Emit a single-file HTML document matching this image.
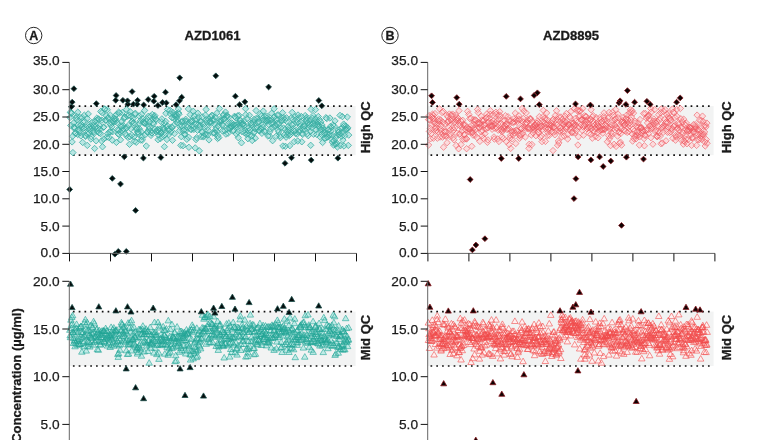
<!DOCTYPE html>
<html><head><meta charset="utf-8"><style>
html,body{margin:0;padding:0;background:#fff;width:760px;height:440px;overflow:hidden}
svg{display:block}
text{font-family:"Liberation Sans",Arial,sans-serif;fill:#1a1a1a}
.tl{font-size:13.7px;stroke:#1a1a1a;stroke-width:0.25px}
.tt{font-size:13.1px;font-weight:bold;stroke:#1a1a1a;stroke-width:0.3px}
.lt{font-size:12.5px;font-weight:bold;stroke:#1a1a1a;stroke-width:0.3px}
.qc{font-size:13px;font-weight:bold;stroke:#1a1a1a;stroke-width:0.3px}
.yl{font-size:13px;font-weight:bold;stroke:#1a1a1a;stroke-width:0.3px}
.dot{stroke:#111;stroke-width:1.7;stroke-dasharray:1.7 4.15}
</style></head><body>
<svg width="760" height="440" viewBox="0 0 760 440">
<circle cx="33.7" cy="35.5" r="8.2" fill="none" stroke="#111" stroke-width="0.9"/>
<text x="33.7" y="39.9" class="lt" text-anchor="middle">A</text>
<text x="212.6" y="39.9" class="tt" text-anchor="middle">AZD1061</text>
<rect x="69.3" y="106.1" width="286.3" height="49.1" fill="#f2f3f3"/>
<path d="M350.35 105.21h1.70v1.70h-1.70zM344.57 105.21h1.70v1.70h-1.70zM338.79 105.21h1.70v1.70h-1.70zM333.01 105.21h1.70v1.70h-1.70zM327.23 105.21h1.70v1.70h-1.70zM321.45 105.21h1.70v1.70h-1.70zM315.67 105.21h1.70v1.70h-1.70zM309.89 105.21h1.70v1.70h-1.70zM304.11 105.21h1.70v1.70h-1.70zM298.33 105.21h1.70v1.70h-1.70zM292.55 105.21h1.70v1.70h-1.70zM286.77 105.21h1.70v1.70h-1.70zM280.99 105.21h1.70v1.70h-1.70zM275.21 105.21h1.70v1.70h-1.70zM269.43 105.21h1.70v1.70h-1.70zM263.65 105.21h1.70v1.70h-1.70zM257.87 105.21h1.70v1.70h-1.70zM252.09 105.21h1.70v1.70h-1.70zM246.31 105.21h1.70v1.70h-1.70zM240.53 105.21h1.70v1.70h-1.70zM234.75 105.21h1.70v1.70h-1.70zM228.97 105.21h1.70v1.70h-1.70zM223.19 105.21h1.70v1.70h-1.70zM217.41 105.21h1.70v1.70h-1.70zM211.63 105.21h1.70v1.70h-1.70zM205.85 105.21h1.70v1.70h-1.70zM200.07 105.21h1.70v1.70h-1.70zM194.29 105.21h1.70v1.70h-1.70zM188.51 105.21h1.70v1.70h-1.70zM182.73 105.21h1.70v1.70h-1.70zM176.95 105.21h1.70v1.70h-1.70zM171.17 105.21h1.70v1.70h-1.70zM165.39 105.21h1.70v1.70h-1.70zM159.61 105.21h1.70v1.70h-1.70zM153.83 105.21h1.70v1.70h-1.70zM148.05 105.21h1.70v1.70h-1.70zM142.27 105.21h1.70v1.70h-1.70zM136.49 105.21h1.70v1.70h-1.70zM130.71 105.21h1.70v1.70h-1.70zM124.93 105.21h1.70v1.70h-1.70zM119.15 105.21h1.70v1.70h-1.70zM113.37 105.21h1.70v1.70h-1.70zM107.59 105.21h1.70v1.70h-1.70zM101.81 105.21h1.70v1.70h-1.70zM96.03 105.21h1.70v1.70h-1.70zM90.25 105.21h1.70v1.70h-1.70zM84.47 105.21h1.70v1.70h-1.70zM78.69 105.21h1.70v1.70h-1.70zM72.91 105.21h1.70v1.70h-1.70z" fill="#111"/>
<path d="M350.35 154.32h1.70v1.70h-1.70zM344.57 154.32h1.70v1.70h-1.70zM338.79 154.32h1.70v1.70h-1.70zM333.01 154.32h1.70v1.70h-1.70zM327.23 154.32h1.70v1.70h-1.70zM321.45 154.32h1.70v1.70h-1.70zM315.67 154.32h1.70v1.70h-1.70zM309.89 154.32h1.70v1.70h-1.70zM304.11 154.32h1.70v1.70h-1.70zM298.33 154.32h1.70v1.70h-1.70zM292.55 154.32h1.70v1.70h-1.70zM286.77 154.32h1.70v1.70h-1.70zM280.99 154.32h1.70v1.70h-1.70zM275.21 154.32h1.70v1.70h-1.70zM269.43 154.32h1.70v1.70h-1.70zM263.65 154.32h1.70v1.70h-1.70zM257.87 154.32h1.70v1.70h-1.70zM252.09 154.32h1.70v1.70h-1.70zM246.31 154.32h1.70v1.70h-1.70zM240.53 154.32h1.70v1.70h-1.70zM234.75 154.32h1.70v1.70h-1.70zM228.97 154.32h1.70v1.70h-1.70zM223.19 154.32h1.70v1.70h-1.70zM217.41 154.32h1.70v1.70h-1.70zM211.63 154.32h1.70v1.70h-1.70zM205.85 154.32h1.70v1.70h-1.70zM200.07 154.32h1.70v1.70h-1.70zM194.29 154.32h1.70v1.70h-1.70zM188.51 154.32h1.70v1.70h-1.70zM182.73 154.32h1.70v1.70h-1.70zM176.95 154.32h1.70v1.70h-1.70zM171.17 154.32h1.70v1.70h-1.70zM165.39 154.32h1.70v1.70h-1.70zM159.61 154.32h1.70v1.70h-1.70zM153.83 154.32h1.70v1.70h-1.70zM148.05 154.32h1.70v1.70h-1.70zM142.27 154.32h1.70v1.70h-1.70zM136.49 154.32h1.70v1.70h-1.70zM130.71 154.32h1.70v1.70h-1.70zM124.93 154.32h1.70v1.70h-1.70zM119.15 154.32h1.70v1.70h-1.70zM113.37 154.32h1.70v1.70h-1.70zM107.59 154.32h1.70v1.70h-1.70zM101.81 154.32h1.70v1.70h-1.70zM96.03 154.32h1.70v1.70h-1.70zM90.25 154.32h1.70v1.70h-1.70zM84.47 154.32h1.70v1.70h-1.70zM78.69 154.32h1.70v1.70h-1.70zM72.91 154.32h1.70v1.70h-1.70z" fill="#111"/>
<path d="M70.0 114.3l3.2 3.2l-3.2 3.2l-3.2 -3.2zM70.4 109.1l3.2 3.2l-3.2 3.2l-3.2 -3.2zM70.8 122.2l3.2 3.2l-3.2 3.2l-3.2 -3.2zM71.3 110.3l3.2 3.2l-3.2 3.2l-3.2 -3.2zM71.6 109.5l3.2 3.2l-3.2 3.2l-3.2 -3.2zM72.1 138.7l3.2 3.2l-3.2 3.2l-3.2 -3.2zM72.7 133.0l3.2 3.2l-3.2 3.2l-3.2 -3.2zM72.9 149.4l3.2 3.2l-3.2 3.2l-3.2 -3.2zM73.6 119.8l3.2 3.2l-3.2 3.2l-3.2 -3.2zM74.0 123.8l3.2 3.2l-3.2 3.2l-3.2 -3.2zM74.4 124.3l3.2 3.2l-3.2 3.2l-3.2 -3.2zM74.6 125.6l3.2 3.2l-3.2 3.2l-3.2 -3.2zM75.0 129.9l3.2 3.2l-3.2 3.2l-3.2 -3.2zM75.7 129.9l3.2 3.2l-3.2 3.2l-3.2 -3.2zM76.1 115.0l3.2 3.2l-3.2 3.2l-3.2 -3.2zM76.6 113.3l3.2 3.2l-3.2 3.2l-3.2 -3.2zM77.0 116.4l3.2 3.2l-3.2 3.2l-3.2 -3.2zM77.7 131.3l3.2 3.2l-3.2 3.2l-3.2 -3.2zM77.8 109.0l3.2 3.2l-3.2 3.2l-3.2 -3.2zM78.2 121.7l3.2 3.2l-3.2 3.2l-3.2 -3.2zM78.9 126.4l3.2 3.2l-3.2 3.2l-3.2 -3.2zM79.1 128.4l3.2 3.2l-3.2 3.2l-3.2 -3.2zM79.8 114.2l3.2 3.2l-3.2 3.2l-3.2 -3.2zM80.2 129.6l3.2 3.2l-3.2 3.2l-3.2 -3.2zM80.7 122.5l3.2 3.2l-3.2 3.2l-3.2 -3.2zM80.9 132.7l3.2 3.2l-3.2 3.2l-3.2 -3.2zM81.2 121.2l3.2 3.2l-3.2 3.2l-3.2 -3.2zM81.9 123.9l3.2 3.2l-3.2 3.2l-3.2 -3.2zM82.1 114.5l3.2 3.2l-3.2 3.2l-3.2 -3.2zM82.6 139.2l3.2 3.2l-3.2 3.2l-3.2 -3.2zM82.9 118.6l3.2 3.2l-3.2 3.2l-3.2 -3.2zM83.4 125.3l3.2 3.2l-3.2 3.2l-3.2 -3.2zM84.1 124.5l3.2 3.2l-3.2 3.2l-3.2 -3.2zM84.3 112.0l3.2 3.2l-3.2 3.2l-3.2 -3.2zM84.7 118.3l3.2 3.2l-3.2 3.2l-3.2 -3.2zM85.4 132.3l3.2 3.2l-3.2 3.2l-3.2 -3.2zM85.6 133.1l3.2 3.2l-3.2 3.2l-3.2 -3.2zM86.1 124.2l3.2 3.2l-3.2 3.2l-3.2 -3.2zM86.8 130.1l3.2 3.2l-3.2 3.2l-3.2 -3.2zM87.2 115.2l3.2 3.2l-3.2 3.2l-3.2 -3.2zM87.3 142.2l3.2 3.2l-3.2 3.2l-3.2 -3.2zM87.9 131.1l3.2 3.2l-3.2 3.2l-3.2 -3.2zM88.2 110.7l3.2 3.2l-3.2 3.2l-3.2 -3.2zM89.0 124.0l3.2 3.2l-3.2 3.2l-3.2 -3.2zM89.3 129.8l3.2 3.2l-3.2 3.2l-3.2 -3.2zM89.6 121.1l3.2 3.2l-3.2 3.2l-3.2 -3.2zM89.9 126.0l3.2 3.2l-3.2 3.2l-3.2 -3.2zM90.6 122.8l3.2 3.2l-3.2 3.2l-3.2 -3.2zM90.9 135.8l3.2 3.2l-3.2 3.2l-3.2 -3.2zM91.4 133.4l3.2 3.2l-3.2 3.2l-3.2 -3.2zM91.9 119.2l3.2 3.2l-3.2 3.2l-3.2 -3.2zM92.4 124.5l3.2 3.2l-3.2 3.2l-3.2 -3.2zM92.9 127.4l3.2 3.2l-3.2 3.2l-3.2 -3.2zM93.3 122.1l3.2 3.2l-3.2 3.2l-3.2 -3.2zM93.7 128.6l3.2 3.2l-3.2 3.2l-3.2 -3.2zM94.2 130.1l3.2 3.2l-3.2 3.2l-3.2 -3.2zM94.6 145.3l3.2 3.2l-3.2 3.2l-3.2 -3.2zM94.9 117.8l3.2 3.2l-3.2 3.2l-3.2 -3.2zM95.1 124.2l3.2 3.2l-3.2 3.2l-3.2 -3.2zM96.0 123.1l3.2 3.2l-3.2 3.2l-3.2 -3.2zM96.1 137.6l3.2 3.2l-3.2 3.2l-3.2 -3.2zM96.8 115.0l3.2 3.2l-3.2 3.2l-3.2 -3.2zM96.9 117.1l3.2 3.2l-3.2 3.2l-3.2 -3.2zM97.6 128.4l3.2 3.2l-3.2 3.2l-3.2 -3.2zM98.0 124.9l3.2 3.2l-3.2 3.2l-3.2 -3.2zM98.5 115.7l3.2 3.2l-3.2 3.2l-3.2 -3.2zM99.0 116.5l3.2 3.2l-3.2 3.2l-3.2 -3.2zM99.1 129.7l3.2 3.2l-3.2 3.2l-3.2 -3.2zM99.7 122.6l3.2 3.2l-3.2 3.2l-3.2 -3.2zM99.9 126.1l3.2 3.2l-3.2 3.2l-3.2 -3.2zM100.6 130.4l3.2 3.2l-3.2 3.2l-3.2 -3.2zM100.8 108.2l3.2 3.2l-3.2 3.2l-3.2 -3.2zM101.6 137.8l3.2 3.2l-3.2 3.2l-3.2 -3.2zM101.9 117.0l3.2 3.2l-3.2 3.2l-3.2 -3.2zM102.1 109.4l3.2 3.2l-3.2 3.2l-3.2 -3.2zM102.5 143.6l3.2 3.2l-3.2 3.2l-3.2 -3.2zM103.3 124.2l3.2 3.2l-3.2 3.2l-3.2 -3.2zM103.8 135.8l3.2 3.2l-3.2 3.2l-3.2 -3.2zM104.0 123.7l3.2 3.2l-3.2 3.2l-3.2 -3.2zM104.6 105.7l3.2 3.2l-3.2 3.2l-3.2 -3.2zM104.7 106.2l3.2 3.2l-3.2 3.2l-3.2 -3.2zM105.5 117.1l3.2 3.2l-3.2 3.2l-3.2 -3.2zM105.9 116.7l3.2 3.2l-3.2 3.2l-3.2 -3.2zM106.4 112.7l3.2 3.2l-3.2 3.2l-3.2 -3.2zM106.8 133.9l3.2 3.2l-3.2 3.2l-3.2 -3.2zM107.3 106.5l3.2 3.2l-3.2 3.2l-3.2 -3.2zM107.7 130.5l3.2 3.2l-3.2 3.2l-3.2 -3.2zM108.0 114.8l3.2 3.2l-3.2 3.2l-3.2 -3.2zM108.4 114.8l3.2 3.2l-3.2 3.2l-3.2 -3.2zM108.9 134.2l3.2 3.2l-3.2 3.2l-3.2 -3.2zM109.5 128.6l3.2 3.2l-3.2 3.2l-3.2 -3.2zM109.9 120.4l3.2 3.2l-3.2 3.2l-3.2 -3.2zM110.3 112.0l3.2 3.2l-3.2 3.2l-3.2 -3.2zM110.6 128.7l3.2 3.2l-3.2 3.2l-3.2 -3.2zM110.8 121.7l3.2 3.2l-3.2 3.2l-3.2 -3.2zM111.5 119.3l3.2 3.2l-3.2 3.2l-3.2 -3.2zM111.9 123.6l3.2 3.2l-3.2 3.2l-3.2 -3.2zM112.3 137.0l3.2 3.2l-3.2 3.2l-3.2 -3.2zM112.8 128.4l3.2 3.2l-3.2 3.2l-3.2 -3.2zM113.0 118.1l3.2 3.2l-3.2 3.2l-3.2 -3.2zM113.6 118.8l3.2 3.2l-3.2 3.2l-3.2 -3.2zM113.9 115.7l3.2 3.2l-3.2 3.2l-3.2 -3.2zM114.7 116.0l3.2 3.2l-3.2 3.2l-3.2 -3.2zM115.1 112.7l3.2 3.2l-3.2 3.2l-3.2 -3.2zM115.3 118.4l3.2 3.2l-3.2 3.2l-3.2 -3.2zM115.8 116.0l3.2 3.2l-3.2 3.2l-3.2 -3.2zM116.4 139.2l3.2 3.2l-3.2 3.2l-3.2 -3.2zM116.6 111.2l3.2 3.2l-3.2 3.2l-3.2 -3.2zM117.2 119.5l3.2 3.2l-3.2 3.2l-3.2 -3.2zM117.6 126.6l3.2 3.2l-3.2 3.2l-3.2 -3.2zM118.2 130.8l3.2 3.2l-3.2 3.2l-3.2 -3.2zM118.6 109.0l3.2 3.2l-3.2 3.2l-3.2 -3.2zM118.8 127.0l3.2 3.2l-3.2 3.2l-3.2 -3.2zM119.2 131.2l3.2 3.2l-3.2 3.2l-3.2 -3.2zM119.6 109.8l3.2 3.2l-3.2 3.2l-3.2 -3.2zM120.2 128.8l3.2 3.2l-3.2 3.2l-3.2 -3.2zM120.5 136.6l3.2 3.2l-3.2 3.2l-3.2 -3.2zM121.0 123.9l3.2 3.2l-3.2 3.2l-3.2 -3.2zM121.7 122.8l3.2 3.2l-3.2 3.2l-3.2 -3.2zM121.7 118.4l3.2 3.2l-3.2 3.2l-3.2 -3.2zM122.3 109.3l3.2 3.2l-3.2 3.2l-3.2 -3.2zM122.9 127.0l3.2 3.2l-3.2 3.2l-3.2 -3.2zM123.2 122.3l3.2 3.2l-3.2 3.2l-3.2 -3.2zM123.5 125.2l3.2 3.2l-3.2 3.2l-3.2 -3.2zM124.0 115.3l3.2 3.2l-3.2 3.2l-3.2 -3.2zM124.4 114.3l3.2 3.2l-3.2 3.2l-3.2 -3.2zM125.0 113.9l3.2 3.2l-3.2 3.2l-3.2 -3.2zM125.5 130.4l3.2 3.2l-3.2 3.2l-3.2 -3.2zM125.9 125.2l3.2 3.2l-3.2 3.2l-3.2 -3.2zM126.2 132.3l3.2 3.2l-3.2 3.2l-3.2 -3.2zM126.5 106.3l3.2 3.2l-3.2 3.2l-3.2 -3.2zM127.0 124.4l3.2 3.2l-3.2 3.2l-3.2 -3.2zM127.5 113.0l3.2 3.2l-3.2 3.2l-3.2 -3.2zM128.0 134.2l3.2 3.2l-3.2 3.2l-3.2 -3.2zM128.5 122.0l3.2 3.2l-3.2 3.2l-3.2 -3.2zM129.0 111.8l3.2 3.2l-3.2 3.2l-3.2 -3.2zM129.5 141.1l3.2 3.2l-3.2 3.2l-3.2 -3.2zM129.9 133.5l3.2 3.2l-3.2 3.2l-3.2 -3.2zM130.1 108.4l3.2 3.2l-3.2 3.2l-3.2 -3.2zM130.8 125.6l3.2 3.2l-3.2 3.2l-3.2 -3.2zM131.0 113.2l3.2 3.2l-3.2 3.2l-3.2 -3.2zM131.7 131.9l3.2 3.2l-3.2 3.2l-3.2 -3.2zM132.0 117.9l3.2 3.2l-3.2 3.2l-3.2 -3.2zM132.3 118.4l3.2 3.2l-3.2 3.2l-3.2 -3.2zM132.9 120.2l3.2 3.2l-3.2 3.2l-3.2 -3.2zM133.4 115.0l3.2 3.2l-3.2 3.2l-3.2 -3.2zM133.9 133.7l3.2 3.2l-3.2 3.2l-3.2 -3.2zM134.3 119.9l3.2 3.2l-3.2 3.2l-3.2 -3.2zM134.5 137.9l3.2 3.2l-3.2 3.2l-3.2 -3.2zM135.0 111.3l3.2 3.2l-3.2 3.2l-3.2 -3.2zM135.3 110.1l3.2 3.2l-3.2 3.2l-3.2 -3.2zM136.0 126.1l3.2 3.2l-3.2 3.2l-3.2 -3.2zM136.3 139.1l3.2 3.2l-3.2 3.2l-3.2 -3.2zM136.6 124.8l3.2 3.2l-3.2 3.2l-3.2 -3.2zM137.3 125.7l3.2 3.2l-3.2 3.2l-3.2 -3.2zM137.8 129.4l3.2 3.2l-3.2 3.2l-3.2 -3.2zM137.9 128.6l3.2 3.2l-3.2 3.2l-3.2 -3.2zM138.6 131.1l3.2 3.2l-3.2 3.2l-3.2 -3.2zM139.1 112.8l3.2 3.2l-3.2 3.2l-3.2 -3.2zM139.4 125.5l3.2 3.2l-3.2 3.2l-3.2 -3.2zM139.7 120.3l3.2 3.2l-3.2 3.2l-3.2 -3.2zM140.3 117.6l3.2 3.2l-3.2 3.2l-3.2 -3.2zM140.8 136.9l3.2 3.2l-3.2 3.2l-3.2 -3.2zM141.1 128.5l3.2 3.2l-3.2 3.2l-3.2 -3.2zM141.5 111.2l3.2 3.2l-3.2 3.2l-3.2 -3.2zM141.9 133.4l3.2 3.2l-3.2 3.2l-3.2 -3.2zM142.3 136.8l3.2 3.2l-3.2 3.2l-3.2 -3.2zM142.9 115.7l3.2 3.2l-3.2 3.2l-3.2 -3.2zM143.3 118.7l3.2 3.2l-3.2 3.2l-3.2 -3.2zM143.7 119.7l3.2 3.2l-3.2 3.2l-3.2 -3.2zM144.4 120.1l3.2 3.2l-3.2 3.2l-3.2 -3.2zM144.6 107.3l3.2 3.2l-3.2 3.2l-3.2 -3.2zM145.1 131.8l3.2 3.2l-3.2 3.2l-3.2 -3.2zM145.5 120.2l3.2 3.2l-3.2 3.2l-3.2 -3.2zM145.9 118.2l3.2 3.2l-3.2 3.2l-3.2 -3.2zM146.3 142.8l3.2 3.2l-3.2 3.2l-3.2 -3.2zM146.7 115.6l3.2 3.2l-3.2 3.2l-3.2 -3.2zM147.2 128.8l3.2 3.2l-3.2 3.2l-3.2 -3.2zM147.8 129.0l3.2 3.2l-3.2 3.2l-3.2 -3.2zM148.3 113.1l3.2 3.2l-3.2 3.2l-3.2 -3.2zM148.4 122.8l3.2 3.2l-3.2 3.2l-3.2 -3.2zM149.0 126.1l3.2 3.2l-3.2 3.2l-3.2 -3.2zM149.5 119.2l3.2 3.2l-3.2 3.2l-3.2 -3.2zM149.6 123.9l3.2 3.2l-3.2 3.2l-3.2 -3.2zM150.4 128.1l3.2 3.2l-3.2 3.2l-3.2 -3.2zM150.6 113.2l3.2 3.2l-3.2 3.2l-3.2 -3.2zM151.0 132.2l3.2 3.2l-3.2 3.2l-3.2 -3.2zM151.7 129.8l3.2 3.2l-3.2 3.2l-3.2 -3.2zM151.9 129.6l3.2 3.2l-3.2 3.2l-3.2 -3.2zM152.3 111.3l3.2 3.2l-3.2 3.2l-3.2 -3.2zM152.9 119.5l3.2 3.2l-3.2 3.2l-3.2 -3.2zM153.3 115.9l3.2 3.2l-3.2 3.2l-3.2 -3.2zM153.6 120.5l3.2 3.2l-3.2 3.2l-3.2 -3.2zM154.3 113.8l3.2 3.2l-3.2 3.2l-3.2 -3.2zM154.8 112.4l3.2 3.2l-3.2 3.2l-3.2 -3.2zM155.1 125.9l3.2 3.2l-3.2 3.2l-3.2 -3.2zM155.6 116.0l3.2 3.2l-3.2 3.2l-3.2 -3.2zM156.1 128.4l3.2 3.2l-3.2 3.2l-3.2 -3.2zM156.3 116.6l3.2 3.2l-3.2 3.2l-3.2 -3.2zM157.0 128.4l3.2 3.2l-3.2 3.2l-3.2 -3.2zM157.4 126.3l3.2 3.2l-3.2 3.2l-3.2 -3.2zM157.8 126.8l3.2 3.2l-3.2 3.2l-3.2 -3.2zM158.0 136.5l3.2 3.2l-3.2 3.2l-3.2 -3.2zM158.5 131.9l3.2 3.2l-3.2 3.2l-3.2 -3.2zM159.1 128.4l3.2 3.2l-3.2 3.2l-3.2 -3.2zM159.5 128.5l3.2 3.2l-3.2 3.2l-3.2 -3.2zM159.7 125.9l3.2 3.2l-3.2 3.2l-3.2 -3.2zM160.5 135.4l3.2 3.2l-3.2 3.2l-3.2 -3.2zM161.0 130.0l3.2 3.2l-3.2 3.2l-3.2 -3.2zM161.3 129.1l3.2 3.2l-3.2 3.2l-3.2 -3.2zM161.6 119.0l3.2 3.2l-3.2 3.2l-3.2 -3.2zM161.9 115.7l3.2 3.2l-3.2 3.2l-3.2 -3.2zM162.3 133.3l3.2 3.2l-3.2 3.2l-3.2 -3.2zM162.9 124.3l3.2 3.2l-3.2 3.2l-3.2 -3.2zM163.4 125.2l3.2 3.2l-3.2 3.2l-3.2 -3.2zM163.7 126.4l3.2 3.2l-3.2 3.2l-3.2 -3.2zM164.4 143.5l3.2 3.2l-3.2 3.2l-3.2 -3.2zM164.5 120.1l3.2 3.2l-3.2 3.2l-3.2 -3.2zM164.9 131.7l3.2 3.2l-3.2 3.2l-3.2 -3.2zM165.7 118.2l3.2 3.2l-3.2 3.2l-3.2 -3.2zM165.9 110.1l3.2 3.2l-3.2 3.2l-3.2 -3.2zM166.4 123.8l3.2 3.2l-3.2 3.2l-3.2 -3.2zM166.9 136.3l3.2 3.2l-3.2 3.2l-3.2 -3.2zM167.5 122.7l3.2 3.2l-3.2 3.2l-3.2 -3.2zM167.6 106.3l3.2 3.2l-3.2 3.2l-3.2 -3.2zM168.1 125.9l3.2 3.2l-3.2 3.2l-3.2 -3.2zM168.5 127.3l3.2 3.2l-3.2 3.2l-3.2 -3.2zM168.8 131.3l3.2 3.2l-3.2 3.2l-3.2 -3.2zM169.7 126.2l3.2 3.2l-3.2 3.2l-3.2 -3.2zM170.1 107.2l3.2 3.2l-3.2 3.2l-3.2 -3.2zM170.4 110.7l3.2 3.2l-3.2 3.2l-3.2 -3.2zM170.8 128.7l3.2 3.2l-3.2 3.2l-3.2 -3.2zM171.4 123.9l3.2 3.2l-3.2 3.2l-3.2 -3.2zM171.8 114.4l3.2 3.2l-3.2 3.2l-3.2 -3.2zM172.2 124.5l3.2 3.2l-3.2 3.2l-3.2 -3.2zM172.5 137.1l3.2 3.2l-3.2 3.2l-3.2 -3.2zM173.1 109.4l3.2 3.2l-3.2 3.2l-3.2 -3.2zM173.5 122.3l3.2 3.2l-3.2 3.2l-3.2 -3.2zM173.9 111.7l3.2 3.2l-3.2 3.2l-3.2 -3.2zM174.1 115.5l3.2 3.2l-3.2 3.2l-3.2 -3.2zM174.5 130.4l3.2 3.2l-3.2 3.2l-3.2 -3.2zM175.1 112.8l3.2 3.2l-3.2 3.2l-3.2 -3.2zM175.5 111.1l3.2 3.2l-3.2 3.2l-3.2 -3.2zM176.2 117.0l3.2 3.2l-3.2 3.2l-3.2 -3.2zM176.5 113.9l3.2 3.2l-3.2 3.2l-3.2 -3.2zM176.9 112.1l3.2 3.2l-3.2 3.2l-3.2 -3.2zM177.6 119.4l3.2 3.2l-3.2 3.2l-3.2 -3.2zM177.8 116.5l3.2 3.2l-3.2 3.2l-3.2 -3.2zM178.4 105.9l3.2 3.2l-3.2 3.2l-3.2 -3.2zM178.4 109.6l3.2 3.2l-3.2 3.2l-3.2 -3.2zM179.0 111.0l3.2 3.2l-3.2 3.2l-3.2 -3.2zM179.5 127.3l3.2 3.2l-3.2 3.2l-3.2 -3.2zM179.9 123.3l3.2 3.2l-3.2 3.2l-3.2 -3.2zM180.2 121.2l3.2 3.2l-3.2 3.2l-3.2 -3.2zM180.8 142.1l3.2 3.2l-3.2 3.2l-3.2 -3.2zM181.3 133.5l3.2 3.2l-3.2 3.2l-3.2 -3.2zM181.9 118.8l3.2 3.2l-3.2 3.2l-3.2 -3.2zM182.2 122.7l3.2 3.2l-3.2 3.2l-3.2 -3.2zM182.6 117.8l3.2 3.2l-3.2 3.2l-3.2 -3.2zM183.1 142.5l3.2 3.2l-3.2 3.2l-3.2 -3.2zM183.3 127.5l3.2 3.2l-3.2 3.2l-3.2 -3.2zM183.9 126.8l3.2 3.2l-3.2 3.2l-3.2 -3.2zM184.4 131.1l3.2 3.2l-3.2 3.2l-3.2 -3.2zM184.6 130.7l3.2 3.2l-3.2 3.2l-3.2 -3.2zM185.2 118.0l3.2 3.2l-3.2 3.2l-3.2 -3.2zM185.7 116.1l3.2 3.2l-3.2 3.2l-3.2 -3.2zM186.1 127.2l3.2 3.2l-3.2 3.2l-3.2 -3.2zM186.5 118.2l3.2 3.2l-3.2 3.2l-3.2 -3.2zM186.8 136.1l3.2 3.2l-3.2 3.2l-3.2 -3.2zM187.2 121.4l3.2 3.2l-3.2 3.2l-3.2 -3.2zM187.7 124.1l3.2 3.2l-3.2 3.2l-3.2 -3.2zM188.4 105.7l3.2 3.2l-3.2 3.2l-3.2 -3.2zM188.8 134.2l3.2 3.2l-3.2 3.2l-3.2 -3.2zM188.9 144.1l3.2 3.2l-3.2 3.2l-3.2 -3.2zM189.4 119.7l3.2 3.2l-3.2 3.2l-3.2 -3.2zM190.2 111.5l3.2 3.2l-3.2 3.2l-3.2 -3.2zM190.6 125.9l3.2 3.2l-3.2 3.2l-3.2 -3.2zM190.7 118.0l3.2 3.2l-3.2 3.2l-3.2 -3.2zM191.4 126.5l3.2 3.2l-3.2 3.2l-3.2 -3.2zM191.9 117.6l3.2 3.2l-3.2 3.2l-3.2 -3.2zM192.2 118.4l3.2 3.2l-3.2 3.2l-3.2 -3.2zM192.6 122.2l3.2 3.2l-3.2 3.2l-3.2 -3.2zM193.1 124.3l3.2 3.2l-3.2 3.2l-3.2 -3.2zM193.3 108.1l3.2 3.2l-3.2 3.2l-3.2 -3.2zM193.9 126.2l3.2 3.2l-3.2 3.2l-3.2 -3.2zM194.2 112.7l3.2 3.2l-3.2 3.2l-3.2 -3.2zM194.9 116.4l3.2 3.2l-3.2 3.2l-3.2 -3.2zM195.2 144.7l3.2 3.2l-3.2 3.2l-3.2 -3.2zM195.8 120.9l3.2 3.2l-3.2 3.2l-3.2 -3.2zM196.0 136.4l3.2 3.2l-3.2 3.2l-3.2 -3.2zM196.7 134.4l3.2 3.2l-3.2 3.2l-3.2 -3.2zM197.0 116.5l3.2 3.2l-3.2 3.2l-3.2 -3.2zM197.5 127.1l3.2 3.2l-3.2 3.2l-3.2 -3.2zM197.9 110.0l3.2 3.2l-3.2 3.2l-3.2 -3.2zM198.4 114.0l3.2 3.2l-3.2 3.2l-3.2 -3.2zM198.6 121.4l3.2 3.2l-3.2 3.2l-3.2 -3.2zM199.3 147.6l3.2 3.2l-3.2 3.2l-3.2 -3.2zM199.7 124.5l3.2 3.2l-3.2 3.2l-3.2 -3.2zM199.9 122.1l3.2 3.2l-3.2 3.2l-3.2 -3.2zM200.4 118.1l3.2 3.2l-3.2 3.2l-3.2 -3.2zM200.9 118.2l3.2 3.2l-3.2 3.2l-3.2 -3.2zM201.1 133.4l3.2 3.2l-3.2 3.2l-3.2 -3.2zM201.8 128.6l3.2 3.2l-3.2 3.2l-3.2 -3.2zM202.3 113.7l3.2 3.2l-3.2 3.2l-3.2 -3.2zM202.5 128.9l3.2 3.2l-3.2 3.2l-3.2 -3.2zM203.0 120.6l3.2 3.2l-3.2 3.2l-3.2 -3.2zM203.3 133.7l3.2 3.2l-3.2 3.2l-3.2 -3.2zM204.0 132.9l3.2 3.2l-3.2 3.2l-3.2 -3.2zM204.5 123.5l3.2 3.2l-3.2 3.2l-3.2 -3.2zM204.7 130.9l3.2 3.2l-3.2 3.2l-3.2 -3.2zM205.4 111.9l3.2 3.2l-3.2 3.2l-3.2 -3.2zM205.9 131.3l3.2 3.2l-3.2 3.2l-3.2 -3.2zM206.1 106.3l3.2 3.2l-3.2 3.2l-3.2 -3.2zM206.7 116.5l3.2 3.2l-3.2 3.2l-3.2 -3.2zM207.0 118.3l3.2 3.2l-3.2 3.2l-3.2 -3.2zM207.6 124.3l3.2 3.2l-3.2 3.2l-3.2 -3.2zM207.7 131.7l3.2 3.2l-3.2 3.2l-3.2 -3.2zM208.3 127.2l3.2 3.2l-3.2 3.2l-3.2 -3.2zM208.8 116.3l3.2 3.2l-3.2 3.2l-3.2 -3.2zM209.0 136.7l3.2 3.2l-3.2 3.2l-3.2 -3.2zM209.5 119.2l3.2 3.2l-3.2 3.2l-3.2 -3.2zM210.0 117.9l3.2 3.2l-3.2 3.2l-3.2 -3.2zM210.6 118.5l3.2 3.2l-3.2 3.2l-3.2 -3.2zM210.8 114.0l3.2 3.2l-3.2 3.2l-3.2 -3.2zM211.3 119.8l3.2 3.2l-3.2 3.2l-3.2 -3.2zM211.6 112.3l3.2 3.2l-3.2 3.2l-3.2 -3.2zM212.3 112.3l3.2 3.2l-3.2 3.2l-3.2 -3.2zM212.9 129.8l3.2 3.2l-3.2 3.2l-3.2 -3.2zM213.2 116.0l3.2 3.2l-3.2 3.2l-3.2 -3.2zM213.5 117.3l3.2 3.2l-3.2 3.2l-3.2 -3.2zM214.2 129.8l3.2 3.2l-3.2 3.2l-3.2 -3.2zM214.6 121.3l3.2 3.2l-3.2 3.2l-3.2 -3.2zM214.8 130.0l3.2 3.2l-3.2 3.2l-3.2 -3.2zM215.2 113.8l3.2 3.2l-3.2 3.2l-3.2 -3.2zM215.6 126.8l3.2 3.2l-3.2 3.2l-3.2 -3.2zM216.2 124.6l3.2 3.2l-3.2 3.2l-3.2 -3.2zM216.7 110.0l3.2 3.2l-3.2 3.2l-3.2 -3.2zM217.1 128.2l3.2 3.2l-3.2 3.2l-3.2 -3.2zM217.6 135.3l3.2 3.2l-3.2 3.2l-3.2 -3.2zM217.8 132.3l3.2 3.2l-3.2 3.2l-3.2 -3.2zM218.4 122.7l3.2 3.2l-3.2 3.2l-3.2 -3.2zM218.8 134.4l3.2 3.2l-3.2 3.2l-3.2 -3.2zM219.3 118.3l3.2 3.2l-3.2 3.2l-3.2 -3.2zM219.5 105.4l3.2 3.2l-3.2 3.2l-3.2 -3.2zM219.9 116.4l3.2 3.2l-3.2 3.2l-3.2 -3.2zM220.3 119.5l3.2 3.2l-3.2 3.2l-3.2 -3.2zM220.8 117.7l3.2 3.2l-3.2 3.2l-3.2 -3.2zM221.5 117.2l3.2 3.2l-3.2 3.2l-3.2 -3.2zM221.9 121.3l3.2 3.2l-3.2 3.2l-3.2 -3.2zM222.4 127.7l3.2 3.2l-3.2 3.2l-3.2 -3.2zM222.7 122.0l3.2 3.2l-3.2 3.2l-3.2 -3.2zM223.1 111.8l3.2 3.2l-3.2 3.2l-3.2 -3.2zM223.8 116.0l3.2 3.2l-3.2 3.2l-3.2 -3.2zM224.0 111.5l3.2 3.2l-3.2 3.2l-3.2 -3.2zM224.5 115.7l3.2 3.2l-3.2 3.2l-3.2 -3.2zM224.8 127.5l3.2 3.2l-3.2 3.2l-3.2 -3.2zM225.5 108.9l3.2 3.2l-3.2 3.2l-3.2 -3.2zM225.9 130.9l3.2 3.2l-3.2 3.2l-3.2 -3.2zM226.4 113.9l3.2 3.2l-3.2 3.2l-3.2 -3.2zM226.7 112.4l3.2 3.2l-3.2 3.2l-3.2 -3.2zM227.2 112.5l3.2 3.2l-3.2 3.2l-3.2 -3.2zM227.4 125.7l3.2 3.2l-3.2 3.2l-3.2 -3.2zM228.0 130.1l3.2 3.2l-3.2 3.2l-3.2 -3.2zM228.2 120.6l3.2 3.2l-3.2 3.2l-3.2 -3.2zM228.7 114.2l3.2 3.2l-3.2 3.2l-3.2 -3.2zM229.5 124.6l3.2 3.2l-3.2 3.2l-3.2 -3.2zM229.5 119.4l3.2 3.2l-3.2 3.2l-3.2 -3.2zM230.2 125.4l3.2 3.2l-3.2 3.2l-3.2 -3.2zM230.7 122.5l3.2 3.2l-3.2 3.2l-3.2 -3.2zM231.0 124.1l3.2 3.2l-3.2 3.2l-3.2 -3.2zM231.5 123.2l3.2 3.2l-3.2 3.2l-3.2 -3.2zM231.7 119.7l3.2 3.2l-3.2 3.2l-3.2 -3.2zM232.2 122.4l3.2 3.2l-3.2 3.2l-3.2 -3.2zM232.8 127.7l3.2 3.2l-3.2 3.2l-3.2 -3.2zM233.2 122.0l3.2 3.2l-3.2 3.2l-3.2 -3.2zM233.5 126.9l3.2 3.2l-3.2 3.2l-3.2 -3.2zM233.9 121.4l3.2 3.2l-3.2 3.2l-3.2 -3.2zM234.5 113.1l3.2 3.2l-3.2 3.2l-3.2 -3.2zM235.1 113.9l3.2 3.2l-3.2 3.2l-3.2 -3.2zM235.5 122.0l3.2 3.2l-3.2 3.2l-3.2 -3.2zM236.0 114.7l3.2 3.2l-3.2 3.2l-3.2 -3.2zM236.4 130.8l3.2 3.2l-3.2 3.2l-3.2 -3.2zM236.7 121.6l3.2 3.2l-3.2 3.2l-3.2 -3.2zM237.3 123.9l3.2 3.2l-3.2 3.2l-3.2 -3.2zM237.7 112.6l3.2 3.2l-3.2 3.2l-3.2 -3.2zM238.0 128.5l3.2 3.2l-3.2 3.2l-3.2 -3.2zM238.3 134.5l3.2 3.2l-3.2 3.2l-3.2 -3.2zM238.7 120.2l3.2 3.2l-3.2 3.2l-3.2 -3.2zM239.1 112.3l3.2 3.2l-3.2 3.2l-3.2 -3.2zM239.8 122.5l3.2 3.2l-3.2 3.2l-3.2 -3.2zM240.2 116.8l3.2 3.2l-3.2 3.2l-3.2 -3.2zM240.4 117.7l3.2 3.2l-3.2 3.2l-3.2 -3.2zM241.0 119.9l3.2 3.2l-3.2 3.2l-3.2 -3.2zM241.5 139.6l3.2 3.2l-3.2 3.2l-3.2 -3.2zM242.0 128.3l3.2 3.2l-3.2 3.2l-3.2 -3.2zM242.4 120.7l3.2 3.2l-3.2 3.2l-3.2 -3.2zM242.6 121.1l3.2 3.2l-3.2 3.2l-3.2 -3.2zM243.3 120.5l3.2 3.2l-3.2 3.2l-3.2 -3.2zM243.8 122.7l3.2 3.2l-3.2 3.2l-3.2 -3.2zM244.0 117.6l3.2 3.2l-3.2 3.2l-3.2 -3.2zM244.6 129.6l3.2 3.2l-3.2 3.2l-3.2 -3.2zM244.9 127.0l3.2 3.2l-3.2 3.2l-3.2 -3.2zM245.6 105.5l3.2 3.2l-3.2 3.2l-3.2 -3.2zM245.7 111.6l3.2 3.2l-3.2 3.2l-3.2 -3.2zM246.4 131.2l3.2 3.2l-3.2 3.2l-3.2 -3.2zM246.5 123.9l3.2 3.2l-3.2 3.2l-3.2 -3.2zM247.2 115.4l3.2 3.2l-3.2 3.2l-3.2 -3.2zM247.6 130.5l3.2 3.2l-3.2 3.2l-3.2 -3.2zM247.9 135.5l3.2 3.2l-3.2 3.2l-3.2 -3.2zM248.4 127.9l3.2 3.2l-3.2 3.2l-3.2 -3.2zM248.9 124.6l3.2 3.2l-3.2 3.2l-3.2 -3.2zM249.4 112.1l3.2 3.2l-3.2 3.2l-3.2 -3.2zM249.6 131.8l3.2 3.2l-3.2 3.2l-3.2 -3.2zM250.1 126.7l3.2 3.2l-3.2 3.2l-3.2 -3.2zM250.8 120.1l3.2 3.2l-3.2 3.2l-3.2 -3.2zM251.0 119.8l3.2 3.2l-3.2 3.2l-3.2 -3.2zM251.6 121.9l3.2 3.2l-3.2 3.2l-3.2 -3.2zM251.9 132.7l3.2 3.2l-3.2 3.2l-3.2 -3.2zM252.2 137.3l3.2 3.2l-3.2 3.2l-3.2 -3.2zM252.7 120.1l3.2 3.2l-3.2 3.2l-3.2 -3.2zM253.3 118.7l3.2 3.2l-3.2 3.2l-3.2 -3.2zM253.7 129.5l3.2 3.2l-3.2 3.2l-3.2 -3.2zM254.0 116.2l3.2 3.2l-3.2 3.2l-3.2 -3.2zM254.6 128.7l3.2 3.2l-3.2 3.2l-3.2 -3.2zM254.9 125.5l3.2 3.2l-3.2 3.2l-3.2 -3.2zM255.3 135.0l3.2 3.2l-3.2 3.2l-3.2 -3.2zM256.1 107.4l3.2 3.2l-3.2 3.2l-3.2 -3.2zM256.2 115.3l3.2 3.2l-3.2 3.2l-3.2 -3.2zM256.9 125.1l3.2 3.2l-3.2 3.2l-3.2 -3.2zM257.0 123.7l3.2 3.2l-3.2 3.2l-3.2 -3.2zM257.7 119.4l3.2 3.2l-3.2 3.2l-3.2 -3.2zM258.0 115.4l3.2 3.2l-3.2 3.2l-3.2 -3.2zM258.6 117.6l3.2 3.2l-3.2 3.2l-3.2 -3.2zM258.8 118.7l3.2 3.2l-3.2 3.2l-3.2 -3.2zM259.2 127.5l3.2 3.2l-3.2 3.2l-3.2 -3.2zM259.6 127.5l3.2 3.2l-3.2 3.2l-3.2 -3.2zM260.4 111.1l3.2 3.2l-3.2 3.2l-3.2 -3.2zM260.7 125.7l3.2 3.2l-3.2 3.2l-3.2 -3.2zM261.2 124.8l3.2 3.2l-3.2 3.2l-3.2 -3.2zM261.5 112.8l3.2 3.2l-3.2 3.2l-3.2 -3.2zM261.9 130.1l3.2 3.2l-3.2 3.2l-3.2 -3.2zM262.5 121.8l3.2 3.2l-3.2 3.2l-3.2 -3.2zM263.1 124.2l3.2 3.2l-3.2 3.2l-3.2 -3.2zM263.3 107.9l3.2 3.2l-3.2 3.2l-3.2 -3.2zM263.5 116.8l3.2 3.2l-3.2 3.2l-3.2 -3.2zM264.2 128.2l3.2 3.2l-3.2 3.2l-3.2 -3.2zM264.4 113.1l3.2 3.2l-3.2 3.2l-3.2 -3.2zM265.1 128.4l3.2 3.2l-3.2 3.2l-3.2 -3.2zM265.6 116.8l3.2 3.2l-3.2 3.2l-3.2 -3.2zM266.0 117.4l3.2 3.2l-3.2 3.2l-3.2 -3.2zM266.5 112.8l3.2 3.2l-3.2 3.2l-3.2 -3.2zM266.8 118.3l3.2 3.2l-3.2 3.2l-3.2 -3.2zM267.0 114.8l3.2 3.2l-3.2 3.2l-3.2 -3.2zM267.6 117.2l3.2 3.2l-3.2 3.2l-3.2 -3.2zM267.9 132.8l3.2 3.2l-3.2 3.2l-3.2 -3.2zM268.4 116.5l3.2 3.2l-3.2 3.2l-3.2 -3.2zM268.8 121.3l3.2 3.2l-3.2 3.2l-3.2 -3.2zM269.5 132.7l3.2 3.2l-3.2 3.2l-3.2 -3.2zM269.7 128.6l3.2 3.2l-3.2 3.2l-3.2 -3.2zM270.2 117.2l3.2 3.2l-3.2 3.2l-3.2 -3.2zM270.5 125.7l3.2 3.2l-3.2 3.2l-3.2 -3.2zM271.3 120.0l3.2 3.2l-3.2 3.2l-3.2 -3.2zM271.6 110.1l3.2 3.2l-3.2 3.2l-3.2 -3.2zM271.9 116.5l3.2 3.2l-3.2 3.2l-3.2 -3.2zM272.6 137.5l3.2 3.2l-3.2 3.2l-3.2 -3.2zM272.9 120.0l3.2 3.2l-3.2 3.2l-3.2 -3.2zM273.1 124.2l3.2 3.2l-3.2 3.2l-3.2 -3.2zM273.9 114.2l3.2 3.2l-3.2 3.2l-3.2 -3.2zM274.1 105.6l3.2 3.2l-3.2 3.2l-3.2 -3.2zM274.5 113.2l3.2 3.2l-3.2 3.2l-3.2 -3.2zM275.1 122.9l3.2 3.2l-3.2 3.2l-3.2 -3.2zM275.4 121.9l3.2 3.2l-3.2 3.2l-3.2 -3.2zM276.1 133.1l3.2 3.2l-3.2 3.2l-3.2 -3.2zM276.3 115.9l3.2 3.2l-3.2 3.2l-3.2 -3.2zM276.9 120.1l3.2 3.2l-3.2 3.2l-3.2 -3.2zM277.3 112.0l3.2 3.2l-3.2 3.2l-3.2 -3.2zM277.8 126.8l3.2 3.2l-3.2 3.2l-3.2 -3.2zM278.1 121.4l3.2 3.2l-3.2 3.2l-3.2 -3.2zM278.4 112.0l3.2 3.2l-3.2 3.2l-3.2 -3.2zM278.8 128.5l3.2 3.2l-3.2 3.2l-3.2 -3.2zM279.4 119.8l3.2 3.2l-3.2 3.2l-3.2 -3.2zM279.8 132.4l3.2 3.2l-3.2 3.2l-3.2 -3.2zM280.4 134.4l3.2 3.2l-3.2 3.2l-3.2 -3.2zM280.6 124.8l3.2 3.2l-3.2 3.2l-3.2 -3.2zM281.4 114.2l3.2 3.2l-3.2 3.2l-3.2 -3.2zM281.6 116.7l3.2 3.2l-3.2 3.2l-3.2 -3.2zM282.1 117.7l3.2 3.2l-3.2 3.2l-3.2 -3.2zM282.6 109.5l3.2 3.2l-3.2 3.2l-3.2 -3.2zM282.9 142.8l3.2 3.2l-3.2 3.2l-3.2 -3.2zM283.5 124.8l3.2 3.2l-3.2 3.2l-3.2 -3.2zM283.7 114.4l3.2 3.2l-3.2 3.2l-3.2 -3.2zM284.4 131.7l3.2 3.2l-3.2 3.2l-3.2 -3.2zM284.7 116.7l3.2 3.2l-3.2 3.2l-3.2 -3.2zM285.3 126.2l3.2 3.2l-3.2 3.2l-3.2 -3.2zM285.4 143.1l3.2 3.2l-3.2 3.2l-3.2 -3.2zM286.1 134.0l3.2 3.2l-3.2 3.2l-3.2 -3.2zM286.5 114.6l3.2 3.2l-3.2 3.2l-3.2 -3.2zM286.7 118.3l3.2 3.2l-3.2 3.2l-3.2 -3.2zM287.3 131.6l3.2 3.2l-3.2 3.2l-3.2 -3.2zM287.7 128.7l3.2 3.2l-3.2 3.2l-3.2 -3.2zM288.1 123.4l3.2 3.2l-3.2 3.2l-3.2 -3.2zM288.7 127.1l3.2 3.2l-3.2 3.2l-3.2 -3.2zM289.0 125.3l3.2 3.2l-3.2 3.2l-3.2 -3.2zM289.4 132.3l3.2 3.2l-3.2 3.2l-3.2 -3.2zM289.8 142.5l3.2 3.2l-3.2 3.2l-3.2 -3.2zM290.5 131.2l3.2 3.2l-3.2 3.2l-3.2 -3.2zM290.8 128.8l3.2 3.2l-3.2 3.2l-3.2 -3.2zM291.3 114.6l3.2 3.2l-3.2 3.2l-3.2 -3.2zM291.5 121.2l3.2 3.2l-3.2 3.2l-3.2 -3.2zM292.2 109.2l3.2 3.2l-3.2 3.2l-3.2 -3.2zM292.3 122.0l3.2 3.2l-3.2 3.2l-3.2 -3.2zM293.0 116.3l3.2 3.2l-3.2 3.2l-3.2 -3.2zM293.6 127.5l3.2 3.2l-3.2 3.2l-3.2 -3.2zM293.7 120.8l3.2 3.2l-3.2 3.2l-3.2 -3.2zM294.2 138.5l3.2 3.2l-3.2 3.2l-3.2 -3.2zM294.8 128.1l3.2 3.2l-3.2 3.2l-3.2 -3.2zM295.1 113.4l3.2 3.2l-3.2 3.2l-3.2 -3.2zM295.4 130.2l3.2 3.2l-3.2 3.2l-3.2 -3.2zM295.8 127.0l3.2 3.2l-3.2 3.2l-3.2 -3.2zM296.4 116.2l3.2 3.2l-3.2 3.2l-3.2 -3.2zM297.1 130.9l3.2 3.2l-3.2 3.2l-3.2 -3.2zM297.2 119.4l3.2 3.2l-3.2 3.2l-3.2 -3.2zM297.7 137.8l3.2 3.2l-3.2 3.2l-3.2 -3.2zM298.0 111.8l3.2 3.2l-3.2 3.2l-3.2 -3.2zM298.8 114.6l3.2 3.2l-3.2 3.2l-3.2 -3.2zM298.9 128.9l3.2 3.2l-3.2 3.2l-3.2 -3.2zM299.7 126.8l3.2 3.2l-3.2 3.2l-3.2 -3.2zM300.0 120.6l3.2 3.2l-3.2 3.2l-3.2 -3.2zM300.2 122.9l3.2 3.2l-3.2 3.2l-3.2 -3.2zM300.6 118.8l3.2 3.2l-3.2 3.2l-3.2 -3.2zM301.3 113.3l3.2 3.2l-3.2 3.2l-3.2 -3.2zM301.8 138.6l3.2 3.2l-3.2 3.2l-3.2 -3.2zM302.2 130.0l3.2 3.2l-3.2 3.2l-3.2 -3.2zM302.7 131.2l3.2 3.2l-3.2 3.2l-3.2 -3.2zM303.0 126.4l3.2 3.2l-3.2 3.2l-3.2 -3.2zM303.3 123.8l3.2 3.2l-3.2 3.2l-3.2 -3.2zM303.9 122.7l3.2 3.2l-3.2 3.2l-3.2 -3.2zM304.2 126.2l3.2 3.2l-3.2 3.2l-3.2 -3.2zM304.8 123.0l3.2 3.2l-3.2 3.2l-3.2 -3.2zM305.2 112.4l3.2 3.2l-3.2 3.2l-3.2 -3.2zM305.8 115.3l3.2 3.2l-3.2 3.2l-3.2 -3.2zM305.9 117.3l3.2 3.2l-3.2 3.2l-3.2 -3.2zM306.7 117.2l3.2 3.2l-3.2 3.2l-3.2 -3.2zM307.0 114.5l3.2 3.2l-3.2 3.2l-3.2 -3.2zM307.2 130.4l3.2 3.2l-3.2 3.2l-3.2 -3.2zM307.8 119.8l3.2 3.2l-3.2 3.2l-3.2 -3.2zM308.2 132.5l3.2 3.2l-3.2 3.2l-3.2 -3.2zM308.6 124.2l3.2 3.2l-3.2 3.2l-3.2 -3.2zM309.0 122.1l3.2 3.2l-3.2 3.2l-3.2 -3.2zM309.4 117.2l3.2 3.2l-3.2 3.2l-3.2 -3.2zM310.1 121.0l3.2 3.2l-3.2 3.2l-3.2 -3.2zM310.4 128.1l3.2 3.2l-3.2 3.2l-3.2 -3.2zM310.7 142.1l3.2 3.2l-3.2 3.2l-3.2 -3.2zM311.1 106.2l3.2 3.2l-3.2 3.2l-3.2 -3.2zM311.7 124.4l3.2 3.2l-3.2 3.2l-3.2 -3.2zM312.3 115.1l3.2 3.2l-3.2 3.2l-3.2 -3.2zM312.6 120.8l3.2 3.2l-3.2 3.2l-3.2 -3.2zM313.1 112.4l3.2 3.2l-3.2 3.2l-3.2 -3.2zM313.6 131.0l3.2 3.2l-3.2 3.2l-3.2 -3.2zM313.9 120.2l3.2 3.2l-3.2 3.2l-3.2 -3.2zM314.4 118.0l3.2 3.2l-3.2 3.2l-3.2 -3.2zM314.6 121.8l3.2 3.2l-3.2 3.2l-3.2 -3.2zM315.2 115.5l3.2 3.2l-3.2 3.2l-3.2 -3.2zM315.5 106.4l3.2 3.2l-3.2 3.2l-3.2 -3.2zM316.2 126.5l3.2 3.2l-3.2 3.2l-3.2 -3.2zM316.6 121.7l3.2 3.2l-3.2 3.2l-3.2 -3.2zM316.8 131.2l3.2 3.2l-3.2 3.2l-3.2 -3.2zM317.4 118.4l3.2 3.2l-3.2 3.2l-3.2 -3.2zM317.9 120.8l3.2 3.2l-3.2 3.2l-3.2 -3.2zM318.3 113.3l3.2 3.2l-3.2 3.2l-3.2 -3.2zM318.5 122.6l3.2 3.2l-3.2 3.2l-3.2 -3.2zM319.1 123.9l3.2 3.2l-3.2 3.2l-3.2 -3.2zM319.5 116.5l3.2 3.2l-3.2 3.2l-3.2 -3.2zM320.1 126.5l3.2 3.2l-3.2 3.2l-3.2 -3.2zM320.2 133.9l3.2 3.2l-3.2 3.2l-3.2 -3.2zM320.9 118.7l3.2 3.2l-3.2 3.2l-3.2 -3.2zM321.4 126.3l3.2 3.2l-3.2 3.2l-3.2 -3.2zM321.7 131.3l3.2 3.2l-3.2 3.2l-3.2 -3.2zM322.0 121.8l3.2 3.2l-3.2 3.2l-3.2 -3.2zM322.6 139.3l3.2 3.2l-3.2 3.2l-3.2 -3.2zM322.9 124.9l3.2 3.2l-3.2 3.2l-3.2 -3.2zM323.6 127.2l3.2 3.2l-3.2 3.2l-3.2 -3.2zM323.8 129.3l3.2 3.2l-3.2 3.2l-3.2 -3.2zM324.4 135.1l3.2 3.2l-3.2 3.2l-3.2 -3.2zM324.9 130.5l3.2 3.2l-3.2 3.2l-3.2 -3.2zM325.2 126.7l3.2 3.2l-3.2 3.2l-3.2 -3.2zM325.6 134.9l3.2 3.2l-3.2 3.2l-3.2 -3.2zM325.9 114.5l3.2 3.2l-3.2 3.2l-3.2 -3.2zM326.7 130.8l3.2 3.2l-3.2 3.2l-3.2 -3.2zM326.8 115.3l3.2 3.2l-3.2 3.2l-3.2 -3.2zM327.2 134.0l3.2 3.2l-3.2 3.2l-3.2 -3.2zM327.7 133.7l3.2 3.2l-3.2 3.2l-3.2 -3.2zM328.2 126.6l3.2 3.2l-3.2 3.2l-3.2 -3.2zM328.6 126.5l3.2 3.2l-3.2 3.2l-3.2 -3.2zM328.9 131.5l3.2 3.2l-3.2 3.2l-3.2 -3.2zM329.8 131.1l3.2 3.2l-3.2 3.2l-3.2 -3.2zM329.9 114.8l3.2 3.2l-3.2 3.2l-3.2 -3.2zM330.4 123.3l3.2 3.2l-3.2 3.2l-3.2 -3.2zM330.9 127.6l3.2 3.2l-3.2 3.2l-3.2 -3.2zM331.5 124.3l3.2 3.2l-3.2 3.2l-3.2 -3.2zM332.0 136.2l3.2 3.2l-3.2 3.2l-3.2 -3.2zM332.3 139.0l3.2 3.2l-3.2 3.2l-3.2 -3.2zM332.7 132.1l3.2 3.2l-3.2 3.2l-3.2 -3.2zM332.9 121.8l3.2 3.2l-3.2 3.2l-3.2 -3.2zM333.7 141.9l3.2 3.2l-3.2 3.2l-3.2 -3.2zM334.0 137.7l3.2 3.2l-3.2 3.2l-3.2 -3.2zM334.3 122.9l3.2 3.2l-3.2 3.2l-3.2 -3.2zM335.0 117.7l3.2 3.2l-3.2 3.2l-3.2 -3.2zM335.1 141.0l3.2 3.2l-3.2 3.2l-3.2 -3.2zM335.6 134.7l3.2 3.2l-3.2 3.2l-3.2 -3.2zM336.0 140.8l3.2 3.2l-3.2 3.2l-3.2 -3.2zM336.4 132.1l3.2 3.2l-3.2 3.2l-3.2 -3.2zM336.9 140.0l3.2 3.2l-3.2 3.2l-3.2 -3.2zM337.4 143.8l3.2 3.2l-3.2 3.2l-3.2 -3.2zM338.0 128.8l3.2 3.2l-3.2 3.2l-3.2 -3.2zM338.2 126.7l3.2 3.2l-3.2 3.2l-3.2 -3.2zM338.8 131.7l3.2 3.2l-3.2 3.2l-3.2 -3.2zM339.1 128.9l3.2 3.2l-3.2 3.2l-3.2 -3.2zM339.5 131.0l3.2 3.2l-3.2 3.2l-3.2 -3.2zM340.0 112.2l3.2 3.2l-3.2 3.2l-3.2 -3.2zM340.6 142.4l3.2 3.2l-3.2 3.2l-3.2 -3.2zM340.8 125.4l3.2 3.2l-3.2 3.2l-3.2 -3.2zM341.6 133.0l3.2 3.2l-3.2 3.2l-3.2 -3.2zM341.7 130.2l3.2 3.2l-3.2 3.2l-3.2 -3.2zM342.4 113.4l3.2 3.2l-3.2 3.2l-3.2 -3.2zM342.5 124.5l3.2 3.2l-3.2 3.2l-3.2 -3.2zM342.9 136.9l3.2 3.2l-3.2 3.2l-3.2 -3.2zM343.7 120.9l3.2 3.2l-3.2 3.2l-3.2 -3.2zM344.0 142.8l3.2 3.2l-3.2 3.2l-3.2 -3.2zM344.2 122.7l3.2 3.2l-3.2 3.2l-3.2 -3.2zM344.7 132.5l3.2 3.2l-3.2 3.2l-3.2 -3.2zM345.1 126.1l3.2 3.2l-3.2 3.2l-3.2 -3.2zM345.6 126.6l3.2 3.2l-3.2 3.2l-3.2 -3.2zM346.1 123.0l3.2 3.2l-3.2 3.2l-3.2 -3.2zM346.7 126.4l3.2 3.2l-3.2 3.2l-3.2 -3.2zM346.9 125.6l3.2 3.2l-3.2 3.2l-3.2 -3.2zM347.3 113.8l3.2 3.2l-3.2 3.2l-3.2 -3.2zM347.8 124.7l3.2 3.2l-3.2 3.2l-3.2 -3.2zM348.3 142.2l3.2 3.2l-3.2 3.2l-3.2 -3.2zM348.7 131.9l3.2 3.2l-3.2 3.2l-3.2 -3.2z" fill="#b8e6e3" stroke="#3aaea3" stroke-width="0.8"/>
<path d="M73.9 85.8l2.9 2.9l-2.9 2.9l-2.9 -2.9zM72.2 99.2l2.9 2.9l-2.9 2.9l-2.9 -2.9zM71.3 103.9l2.9 2.9l-2.9 2.9l-2.9 -2.9zM96.3 100.7l2.9 2.9l-2.9 2.9l-2.9 -2.9zM116.1 92.6l2.9 2.9l-2.9 2.9l-2.9 -2.9zM115.7 97.4l2.9 2.9l-2.9 2.9l-2.9 -2.9zM122.9 97.4l2.9 2.9l-2.9 2.9l-2.9 -2.9zM127.5 97.9l2.9 2.9l-2.9 2.9l-2.9 -2.9zM127.9 101.3l2.9 2.9l-2.9 2.9l-2.9 -2.9zM132.1 88.7l2.9 2.9l-2.9 2.9l-2.9 -2.9zM133.4 101.3l2.9 2.9l-2.9 2.9l-2.9 -2.9zM137.6 97.4l2.9 2.9l-2.9 2.9l-2.9 -2.9zM137.1 101.3l2.9 2.9l-2.9 2.9l-2.9 -2.9zM143.7 102.0l2.9 2.9l-2.9 2.9l-2.9 -2.9zM148.2 96.6l2.9 2.9l-2.9 2.9l-2.9 -2.9zM154.2 93.4l2.9 2.9l-2.9 2.9l-2.9 -2.9zM153.8 98.3l2.9 2.9l-2.9 2.9l-2.9 -2.9zM157.9 102.6l2.9 2.9l-2.9 2.9l-2.9 -2.9zM165.5 89.3l2.9 2.9l-2.9 2.9l-2.9 -2.9zM162.6 99.6l2.9 2.9l-2.9 2.9l-2.9 -2.9zM166.3 100.0l2.9 2.9l-2.9 2.9l-2.9 -2.9zM179.7 74.9l2.9 2.9l-2.9 2.9l-2.9 -2.9zM181.7 94.3l2.9 2.9l-2.9 2.9l-2.9 -2.9zM179.5 97.9l2.9 2.9l-2.9 2.9l-2.9 -2.9zM176.1 101.8l2.9 2.9l-2.9 2.9l-2.9 -2.9zM215.8 72.9l2.9 2.9l-2.9 2.9l-2.9 -2.9zM235.4 93.3l2.9 2.9l-2.9 2.9l-2.9 -2.9zM244.9 98.9l2.9 2.9l-2.9 2.9l-2.9 -2.9zM239.6 101.8l2.9 2.9l-2.9 2.9l-2.9 -2.9zM268.6 84.1l2.9 2.9l-2.9 2.9l-2.9 -2.9zM318.8 97.6l2.9 2.9l-2.9 2.9l-2.9 -2.9zM321.8 102.9l2.9 2.9l-2.9 2.9l-2.9 -2.9zM69.7 186.5l2.9 2.9l-2.9 2.9l-2.9 -2.9zM112.3 175.5l2.9 2.9l-2.9 2.9l-2.9 -2.9zM120.5 181.1l2.9 2.9l-2.9 2.9l-2.9 -2.9zM135.6 207.5l2.9 2.9l-2.9 2.9l-2.9 -2.9zM114.9 251.3l2.9 2.9l-2.9 2.9l-2.9 -2.9zM118.3 248.5l2.9 2.9l-2.9 2.9l-2.9 -2.9zM126.3 248.5l2.9 2.9l-2.9 2.9l-2.9 -2.9zM124.3 153.9l2.9 2.9l-2.9 2.9l-2.9 -2.9zM143.4 155.2l2.9 2.9l-2.9 2.9l-2.9 -2.9zM160.9 154.6l2.9 2.9l-2.9 2.9l-2.9 -2.9zM285.0 160.4l2.9 2.9l-2.9 2.9l-2.9 -2.9zM291.5 154.9l2.9 2.9l-2.9 2.9l-2.9 -2.9zM311.2 157.2l2.9 2.9l-2.9 2.9l-2.9 -2.9zM337.9 155.3l2.9 2.9l-2.9 2.9l-2.9 -2.9z" fill="#050d0d" stroke="#1d4f4b" stroke-width="0.8"/>
<path d="M69.3 62.4V253.4H356.5" fill="none" stroke="#666" stroke-width="1"/>
<text x="59.6" y="257.4" class="tl" text-anchor="end">0.0</text>
<text x="59.6" y="231.2" class="tl" text-anchor="end">5.0</text>
<text x="59.6" y="203.3" class="tl" text-anchor="end">10.0</text>
<text x="59.6" y="175.8" class="tl" text-anchor="end">15.0</text>
<text x="59.6" y="148.5" class="tl" text-anchor="end">20.0</text>
<text x="59.6" y="121.0" class="tl" text-anchor="end">25.0</text>
<text x="59.6" y="93.8" class="tl" text-anchor="end">30.0</text>
<text x="59.6" y="65.3" class="tl" text-anchor="end">35.0</text>
<path d="M62.3 253.4H69.3M62.3 226.1H69.3M62.3 198.8H69.3M62.3 171.5H69.3M62.3 144.3H69.3M62.3 117.0H69.3M62.3 89.7H69.3M62.3 62.4H69.3M69.5 253.4V261.4M110.5 253.4V261.4M151.5 253.4V261.4M192.5 253.4V261.4M233.5 253.4V261.4M274.5 253.4V261.4M315.5 253.4V261.4M356.5 253.4V261.4" stroke="#111" stroke-width="1" fill="none"/>
<text transform="translate(370.0,127.3) rotate(-90)" class="qc" text-anchor="middle">High QC</text>
<rect x="69.3" y="311.6" width="286.3" height="54.4" fill="#f2f3f3"/>
<path d="M350.35 310.75h1.70v1.70h-1.70zM344.57 310.75h1.70v1.70h-1.70zM338.79 310.75h1.70v1.70h-1.70zM333.01 310.75h1.70v1.70h-1.70zM327.23 310.75h1.70v1.70h-1.70zM321.45 310.75h1.70v1.70h-1.70zM315.67 310.75h1.70v1.70h-1.70zM309.89 310.75h1.70v1.70h-1.70zM304.11 310.75h1.70v1.70h-1.70zM298.33 310.75h1.70v1.70h-1.70zM292.55 310.75h1.70v1.70h-1.70zM286.77 310.75h1.70v1.70h-1.70zM280.99 310.75h1.70v1.70h-1.70zM275.21 310.75h1.70v1.70h-1.70zM269.43 310.75h1.70v1.70h-1.70zM263.65 310.75h1.70v1.70h-1.70zM257.87 310.75h1.70v1.70h-1.70zM252.09 310.75h1.70v1.70h-1.70zM246.31 310.75h1.70v1.70h-1.70zM240.53 310.75h1.70v1.70h-1.70zM234.75 310.75h1.70v1.70h-1.70zM228.97 310.75h1.70v1.70h-1.70zM223.19 310.75h1.70v1.70h-1.70zM217.41 310.75h1.70v1.70h-1.70zM211.63 310.75h1.70v1.70h-1.70zM205.85 310.75h1.70v1.70h-1.70zM200.07 310.75h1.70v1.70h-1.70zM194.29 310.75h1.70v1.70h-1.70zM188.51 310.75h1.70v1.70h-1.70zM182.73 310.75h1.70v1.70h-1.70zM176.95 310.75h1.70v1.70h-1.70zM171.17 310.75h1.70v1.70h-1.70zM165.39 310.75h1.70v1.70h-1.70zM159.61 310.75h1.70v1.70h-1.70zM153.83 310.75h1.70v1.70h-1.70zM148.05 310.75h1.70v1.70h-1.70zM142.27 310.75h1.70v1.70h-1.70zM136.49 310.75h1.70v1.70h-1.70zM130.71 310.75h1.70v1.70h-1.70zM124.93 310.75h1.70v1.70h-1.70zM119.15 310.75h1.70v1.70h-1.70zM113.37 310.75h1.70v1.70h-1.70zM107.59 310.75h1.70v1.70h-1.70zM101.81 310.75h1.70v1.70h-1.70zM96.03 310.75h1.70v1.70h-1.70zM90.25 310.75h1.70v1.70h-1.70zM84.47 310.75h1.70v1.70h-1.70zM78.69 310.75h1.70v1.70h-1.70zM72.91 310.75h1.70v1.70h-1.70z" fill="#111"/>
<path d="M350.35 365.15h1.70v1.70h-1.70zM344.57 365.15h1.70v1.70h-1.70zM338.79 365.15h1.70v1.70h-1.70zM333.01 365.15h1.70v1.70h-1.70zM327.23 365.15h1.70v1.70h-1.70zM321.45 365.15h1.70v1.70h-1.70zM315.67 365.15h1.70v1.70h-1.70zM309.89 365.15h1.70v1.70h-1.70zM304.11 365.15h1.70v1.70h-1.70zM298.33 365.15h1.70v1.70h-1.70zM292.55 365.15h1.70v1.70h-1.70zM286.77 365.15h1.70v1.70h-1.70zM280.99 365.15h1.70v1.70h-1.70zM275.21 365.15h1.70v1.70h-1.70zM269.43 365.15h1.70v1.70h-1.70zM263.65 365.15h1.70v1.70h-1.70zM257.87 365.15h1.70v1.70h-1.70zM252.09 365.15h1.70v1.70h-1.70zM246.31 365.15h1.70v1.70h-1.70zM240.53 365.15h1.70v1.70h-1.70zM234.75 365.15h1.70v1.70h-1.70zM228.97 365.15h1.70v1.70h-1.70zM223.19 365.15h1.70v1.70h-1.70zM217.41 365.15h1.70v1.70h-1.70zM211.63 365.15h1.70v1.70h-1.70zM205.85 365.15h1.70v1.70h-1.70zM200.07 365.15h1.70v1.70h-1.70zM194.29 365.15h1.70v1.70h-1.70zM188.51 365.15h1.70v1.70h-1.70zM182.73 365.15h1.70v1.70h-1.70zM176.95 365.15h1.70v1.70h-1.70zM171.17 365.15h1.70v1.70h-1.70zM165.39 365.15h1.70v1.70h-1.70zM159.61 365.15h1.70v1.70h-1.70zM153.83 365.15h1.70v1.70h-1.70zM148.05 365.15h1.70v1.70h-1.70zM142.27 365.15h1.70v1.70h-1.70zM136.49 365.15h1.70v1.70h-1.70zM130.71 365.15h1.70v1.70h-1.70zM124.93 365.15h1.70v1.70h-1.70zM119.15 365.15h1.70v1.70h-1.70zM113.37 365.15h1.70v1.70h-1.70zM107.59 365.15h1.70v1.70h-1.70zM101.81 365.15h1.70v1.70h-1.70zM96.03 365.15h1.70v1.70h-1.70zM90.25 365.15h1.70v1.70h-1.70zM84.47 365.15h1.70v1.70h-1.70zM78.69 365.15h1.70v1.70h-1.70zM72.91 365.15h1.70v1.70h-1.70z" fill="#111"/>
<path d="M69.9 326.7l3.2 5.6h-6.5zM70.2 332.1l3.2 5.6h-6.5zM70.5 334.1l3.2 5.6h-6.5zM71.0 316.6l3.2 5.6h-6.5zM71.4 325.0l3.2 5.6h-6.5zM71.5 321.9l3.2 5.6h-6.5zM71.8 313.9l3.2 5.6h-6.5zM72.3 320.4l3.2 5.6h-6.5zM72.7 312.2l3.2 5.6h-6.5zM72.8 329.0l3.2 5.6h-6.5zM73.2 328.8l3.2 5.6h-6.5zM73.5 339.9l3.2 5.6h-6.5zM73.8 334.9l3.2 5.6h-6.5zM74.2 330.7l3.2 5.6h-6.5zM74.5 336.9l3.2 5.6h-6.5zM74.9 338.3l3.2 5.6h-6.5zM75.1 343.2l3.2 5.6h-6.5zM75.4 326.6l3.2 5.6h-6.5zM75.8 339.6l3.2 5.6h-6.5zM76.2 328.3l3.2 5.6h-6.5zM76.6 320.9l3.2 5.6h-6.5zM76.7 325.1l3.2 5.6h-6.5zM77.0 337.2l3.2 5.6h-6.5zM77.5 341.7l3.2 5.6h-6.5zM77.9 335.3l3.2 5.6h-6.5zM78.2 328.7l3.2 5.6h-6.5zM78.3 337.9l3.2 5.6h-6.5zM78.8 340.9l3.2 5.6h-6.5zM79.1 324.5l3.2 5.6h-6.5zM79.5 335.8l3.2 5.6h-6.5zM79.9 341.2l3.2 5.6h-6.5zM80.3 324.2l3.2 5.6h-6.5zM80.6 340.8l3.2 5.6h-6.5zM80.9 323.2l3.2 5.6h-6.5zM81.1 322.9l3.2 5.6h-6.5zM81.4 329.1l3.2 5.6h-6.5zM81.9 348.6l3.2 5.6h-6.5zM82.1 334.1l3.2 5.6h-6.5zM82.3 330.6l3.2 5.6h-6.5zM82.8 328.9l3.2 5.6h-6.5zM83.3 339.9l3.2 5.6h-6.5zM83.3 334.3l3.2 5.6h-6.5zM83.8 338.1l3.2 5.6h-6.5zM84.0 343.3l3.2 5.6h-6.5zM84.4 332.1l3.2 5.6h-6.5zM84.7 319.0l3.2 5.6h-6.5zM85.1 332.6l3.2 5.6h-6.5zM85.4 316.3l3.2 5.6h-6.5zM85.9 325.7l3.2 5.6h-6.5zM86.0 321.4l3.2 5.6h-6.5zM86.3 347.5l3.2 5.6h-6.5zM86.8 327.5l3.2 5.6h-6.5zM87.2 319.2l3.2 5.6h-6.5zM87.5 338.9l3.2 5.6h-6.5zM87.7 342.7l3.2 5.6h-6.5zM88.1 327.1l3.2 5.6h-6.5zM88.4 337.5l3.2 5.6h-6.5zM88.7 332.7l3.2 5.6h-6.5zM89.0 339.0l3.2 5.6h-6.5zM89.2 327.5l3.2 5.6h-6.5zM89.5 331.8l3.2 5.6h-6.5zM89.9 343.5l3.2 5.6h-6.5zM90.2 340.6l3.2 5.6h-6.5zM90.6 333.6l3.2 5.6h-6.5zM90.9 322.0l3.2 5.6h-6.5zM91.4 334.3l3.2 5.6h-6.5zM91.6 330.1l3.2 5.6h-6.5zM92.0 334.9l3.2 5.6h-6.5zM92.4 323.7l3.2 5.6h-6.5zM92.5 330.6l3.2 5.6h-6.5zM92.9 324.5l3.2 5.6h-6.5zM93.4 341.6l3.2 5.6h-6.5zM93.6 318.2l3.2 5.6h-6.5zM93.9 329.0l3.2 5.6h-6.5zM94.4 320.2l3.2 5.6h-6.5zM94.7 338.5l3.2 5.6h-6.5zM95.0 338.6l3.2 5.6h-6.5zM95.2 333.0l3.2 5.6h-6.5zM95.6 333.8l3.2 5.6h-6.5zM96.1 337.1l3.2 5.6h-6.5zM96.3 331.5l3.2 5.6h-6.5zM96.5 326.3l3.2 5.6h-6.5zM97.0 325.8l3.2 5.6h-6.5zM97.4 346.0l3.2 5.6h-6.5zM97.4 336.7l3.2 5.6h-6.5zM97.7 329.2l3.2 5.6h-6.5zM98.4 346.7l3.2 5.6h-6.5zM98.4 331.5l3.2 5.6h-6.5zM98.9 334.3l3.2 5.6h-6.5zM99.2 327.1l3.2 5.6h-6.5zM99.6 338.0l3.2 5.6h-6.5zM100.0 330.6l3.2 5.6h-6.5zM100.2 341.3l3.2 5.6h-6.5zM100.6 341.4l3.2 5.6h-6.5zM100.9 331.5l3.2 5.6h-6.5zM101.2 334.1l3.2 5.6h-6.5zM101.4 327.8l3.2 5.6h-6.5zM101.7 338.8l3.2 5.6h-6.5zM102.2 329.8l3.2 5.6h-6.5zM102.4 331.8l3.2 5.6h-6.5zM102.8 334.2l3.2 5.6h-6.5zM103.0 327.6l3.2 5.6h-6.5zM103.4 327.5l3.2 5.6h-6.5zM103.8 328.0l3.2 5.6h-6.5zM104.0 337.9l3.2 5.6h-6.5zM104.3 338.7l3.2 5.6h-6.5zM104.6 327.9l3.2 5.6h-6.5zM105.0 335.9l3.2 5.6h-6.5zM105.3 339.7l3.2 5.6h-6.5zM105.7 325.1l3.2 5.6h-6.5zM106.2 330.3l3.2 5.6h-6.5zM106.4 334.6l3.2 5.6h-6.5zM106.8 327.6l3.2 5.6h-6.5zM107.2 327.7l3.2 5.6h-6.5zM107.5 342.5l3.2 5.6h-6.5zM107.8 332.4l3.2 5.6h-6.5zM108.1 333.7l3.2 5.6h-6.5zM108.3 334.7l3.2 5.6h-6.5zM108.6 340.4l3.2 5.6h-6.5zM109.1 336.7l3.2 5.6h-6.5zM109.3 331.5l3.2 5.6h-6.5zM109.6 332.7l3.2 5.6h-6.5zM110.2 343.9l3.2 5.6h-6.5zM110.5 333.6l3.2 5.6h-6.5zM110.8 332.1l3.2 5.6h-6.5zM111.1 323.9l3.2 5.6h-6.5zM111.5 335.8l3.2 5.6h-6.5zM111.5 341.6l3.2 5.6h-6.5zM112.1 330.1l3.2 5.6h-6.5zM112.3 334.6l3.2 5.6h-6.5zM112.7 331.9l3.2 5.6h-6.5zM112.9 326.4l3.2 5.6h-6.5zM113.4 338.6l3.2 5.6h-6.5zM113.8 324.5l3.2 5.6h-6.5zM113.9 342.6l3.2 5.6h-6.5zM114.2 339.6l3.2 5.6h-6.5zM114.5 328.6l3.2 5.6h-6.5zM114.9 332.7l3.2 5.6h-6.5zM115.4 326.9l3.2 5.6h-6.5zM115.6 330.7l3.2 5.6h-6.5zM115.8 328.0l3.2 5.6h-6.5zM116.2 327.4l3.2 5.6h-6.5zM116.4 340.8l3.2 5.6h-6.5zM116.9 326.6l3.2 5.6h-6.5zM117.3 337.6l3.2 5.6h-6.5zM117.7 338.3l3.2 5.6h-6.5zM117.9 350.9l3.2 5.6h-6.5zM118.3 353.8l3.2 5.6h-6.5zM118.6 349.9l3.2 5.6h-6.5zM119.1 334.9l3.2 5.6h-6.5zM119.3 342.2l3.2 5.6h-6.5zM119.5 331.2l3.2 5.6h-6.5zM120.0 346.6l3.2 5.6h-6.5zM120.2 336.6l3.2 5.6h-6.5zM120.7 341.0l3.2 5.6h-6.5zM120.8 327.4l3.2 5.6h-6.5zM121.3 326.7l3.2 5.6h-6.5zM121.4 319.3l3.2 5.6h-6.5zM122.0 320.8l3.2 5.6h-6.5zM122.2 321.7l3.2 5.6h-6.5zM122.4 333.0l3.2 5.6h-6.5zM123.0 329.8l3.2 5.6h-6.5zM123.2 324.2l3.2 5.6h-6.5zM123.5 328.6l3.2 5.6h-6.5zM123.9 337.8l3.2 5.6h-6.5zM124.2 331.2l3.2 5.6h-6.5zM124.5 333.3l3.2 5.6h-6.5zM124.8 323.5l3.2 5.6h-6.5zM125.3 326.9l3.2 5.6h-6.5zM125.4 339.1l3.2 5.6h-6.5zM125.9 328.0l3.2 5.6h-6.5zM126.3 347.2l3.2 5.6h-6.5zM126.4 336.8l3.2 5.6h-6.5zM127.0 330.3l3.2 5.6h-6.5zM127.1 335.4l3.2 5.6h-6.5zM127.5 350.9l3.2 5.6h-6.5zM127.9 341.5l3.2 5.6h-6.5zM128.1 319.7l3.2 5.6h-6.5zM128.6 350.5l3.2 5.6h-6.5zM128.8 341.1l3.2 5.6h-6.5zM129.0 337.4l3.2 5.6h-6.5zM129.4 324.6l3.2 5.6h-6.5zM129.9 336.4l3.2 5.6h-6.5zM130.1 340.8l3.2 5.6h-6.5zM130.3 319.1l3.2 5.6h-6.5zM130.7 328.6l3.2 5.6h-6.5zM131.0 339.5l3.2 5.6h-6.5zM131.5 317.2l3.2 5.6h-6.5zM131.7 347.4l3.2 5.6h-6.5zM131.9 325.1l3.2 5.6h-6.5zM132.3 336.1l3.2 5.6h-6.5zM132.7 335.6l3.2 5.6h-6.5zM133.2 336.4l3.2 5.6h-6.5zM133.3 330.3l3.2 5.6h-6.5zM133.7 341.5l3.2 5.6h-6.5zM134.1 324.1l3.2 5.6h-6.5zM134.2 340.4l3.2 5.6h-6.5zM134.7 333.8l3.2 5.6h-6.5zM135.1 333.5l3.2 5.6h-6.5zM135.4 328.4l3.2 5.6h-6.5zM135.6 342.5l3.2 5.6h-6.5zM135.9 335.2l3.2 5.6h-6.5zM136.4 332.2l3.2 5.6h-6.5zM136.7 346.5l3.2 5.6h-6.5zM136.9 344.1l3.2 5.6h-6.5zM137.3 344.5l3.2 5.6h-6.5zM137.5 350.5l3.2 5.6h-6.5zM138.0 348.8l3.2 5.6h-6.5zM138.2 344.3l3.2 5.6h-6.5zM138.7 333.9l3.2 5.6h-6.5zM138.9 326.1l3.2 5.6h-6.5zM139.2 342.3l3.2 5.6h-6.5zM139.6 344.8l3.2 5.6h-6.5zM140.0 326.3l3.2 5.6h-6.5zM140.3 340.1l3.2 5.6h-6.5zM140.7 326.8l3.2 5.6h-6.5zM140.8 346.3l3.2 5.6h-6.5zM141.3 330.8l3.2 5.6h-6.5zM141.5 352.6l3.2 5.6h-6.5zM142.0 330.4l3.2 5.6h-6.5zM142.4 326.0l3.2 5.6h-6.5zM142.5 334.4l3.2 5.6h-6.5zM142.9 322.7l3.2 5.6h-6.5zM143.1 328.5l3.2 5.6h-6.5zM143.5 338.5l3.2 5.6h-6.5zM144.0 331.3l3.2 5.6h-6.5zM144.3 348.4l3.2 5.6h-6.5zM144.4 331.0l3.2 5.6h-6.5zM145.0 337.6l3.2 5.6h-6.5zM145.1 327.8l3.2 5.6h-6.5zM145.6 339.0l3.2 5.6h-6.5zM146.0 325.6l3.2 5.6h-6.5zM146.0 329.0l3.2 5.6h-6.5zM146.6 342.5l3.2 5.6h-6.5zM146.8 339.7l3.2 5.6h-6.5zM147.2 331.2l3.2 5.6h-6.5zM147.6 328.0l3.2 5.6h-6.5zM148.0 347.9l3.2 5.6h-6.5zM148.1 337.2l3.2 5.6h-6.5zM148.4 327.7l3.2 5.6h-6.5zM148.9 337.1l3.2 5.6h-6.5zM149.2 359.6l3.2 5.6h-6.5zM149.6 330.9l3.2 5.6h-6.5zM149.7 341.6l3.2 5.6h-6.5zM150.2 324.0l3.2 5.6h-6.5zM150.6 344.6l3.2 5.6h-6.5zM150.7 339.6l3.2 5.6h-6.5zM151.1 341.0l3.2 5.6h-6.5zM151.3 332.1l3.2 5.6h-6.5zM151.7 339.2l3.2 5.6h-6.5zM152.2 340.3l3.2 5.6h-6.5zM152.5 338.3l3.2 5.6h-6.5zM152.8 335.3l3.2 5.6h-6.5zM153.2 328.8l3.2 5.6h-6.5zM153.5 336.4l3.2 5.6h-6.5zM153.7 331.2l3.2 5.6h-6.5zM153.9 349.5l3.2 5.6h-6.5zM154.5 319.1l3.2 5.6h-6.5zM154.6 329.2l3.2 5.6h-6.5zM155.0 344.8l3.2 5.6h-6.5zM155.2 337.7l3.2 5.6h-6.5zM155.7 328.5l3.2 5.6h-6.5zM155.9 331.6l3.2 5.6h-6.5zM156.2 333.9l3.2 5.6h-6.5zM156.7 331.7l3.2 5.6h-6.5zM156.9 351.0l3.2 5.6h-6.5zM157.3 341.9l3.2 5.6h-6.5zM157.7 338.1l3.2 5.6h-6.5zM158.0 319.0l3.2 5.6h-6.5zM158.2 340.5l3.2 5.6h-6.5zM158.8 349.5l3.2 5.6h-6.5zM159.0 355.8l3.2 5.6h-6.5zM159.3 322.4l3.2 5.6h-6.5zM159.8 324.5l3.2 5.6h-6.5zM159.9 341.4l3.2 5.6h-6.5zM160.4 336.6l3.2 5.6h-6.5zM160.7 335.0l3.2 5.6h-6.5zM161.0 331.1l3.2 5.6h-6.5zM161.1 342.1l3.2 5.6h-6.5zM161.8 341.2l3.2 5.6h-6.5zM162.0 337.9l3.2 5.6h-6.5zM162.2 334.1l3.2 5.6h-6.5zM162.5 336.1l3.2 5.6h-6.5zM163.1 340.8l3.2 5.6h-6.5zM163.2 323.3l3.2 5.6h-6.5zM163.7 337.4l3.2 5.6h-6.5zM164.1 326.8l3.2 5.6h-6.5zM164.4 332.1l3.2 5.6h-6.5zM164.5 332.0l3.2 5.6h-6.5zM164.8 350.6l3.2 5.6h-6.5zM165.2 327.3l3.2 5.6h-6.5zM165.5 341.0l3.2 5.6h-6.5zM165.9 333.9l3.2 5.6h-6.5zM166.3 337.5l3.2 5.6h-6.5zM166.4 325.5l3.2 5.6h-6.5zM166.8 334.7l3.2 5.6h-6.5zM167.1 343.8l3.2 5.6h-6.5zM167.5 341.8l3.2 5.6h-6.5zM167.8 338.6l3.2 5.6h-6.5zM168.2 351.7l3.2 5.6h-6.5zM168.3 317.3l3.2 5.6h-6.5zM168.7 349.8l3.2 5.6h-6.5zM169.2 345.2l3.2 5.6h-6.5zM169.5 334.8l3.2 5.6h-6.5zM169.8 333.0l3.2 5.6h-6.5zM170.2 348.6l3.2 5.6h-6.5zM170.4 326.1l3.2 5.6h-6.5zM170.9 337.2l3.2 5.6h-6.5zM171.0 342.7l3.2 5.6h-6.5zM171.4 340.8l3.2 5.6h-6.5zM171.9 321.1l3.2 5.6h-6.5zM172.1 345.1l3.2 5.6h-6.5zM172.4 335.5l3.2 5.6h-6.5zM172.9 333.7l3.2 5.6h-6.5zM173.2 333.5l3.2 5.6h-6.5zM173.5 344.1l3.2 5.6h-6.5zM173.9 335.3l3.2 5.6h-6.5zM174.2 334.8l3.2 5.6h-6.5zM174.3 329.2l3.2 5.6h-6.5zM174.9 329.2l3.2 5.6h-6.5zM175.1 358.1l3.2 5.6h-6.5zM175.5 340.3l3.2 5.6h-6.5zM175.8 352.1l3.2 5.6h-6.5zM176.0 337.9l3.2 5.6h-6.5zM176.4 357.4l3.2 5.6h-6.5zM176.6 335.4l3.2 5.6h-6.5zM177.1 323.5l3.2 5.6h-6.5zM177.3 343.0l3.2 5.6h-6.5zM177.7 333.3l3.2 5.6h-6.5zM178.0 339.3l3.2 5.6h-6.5zM178.4 341.6l3.2 5.6h-6.5zM178.8 339.5l3.2 5.6h-6.5zM179.1 333.4l3.2 5.6h-6.5zM179.2 336.3l3.2 5.6h-6.5zM179.6 348.7l3.2 5.6h-6.5zM180.1 334.4l3.2 5.6h-6.5zM180.2 328.1l3.2 5.6h-6.5zM180.8 343.4l3.2 5.6h-6.5zM180.9 344.9l3.2 5.6h-6.5zM181.2 330.5l3.2 5.6h-6.5zM181.6 328.1l3.2 5.6h-6.5zM182.1 347.2l3.2 5.6h-6.5zM182.3 334.5l3.2 5.6h-6.5zM182.7 329.6l3.2 5.6h-6.5zM182.8 337.6l3.2 5.6h-6.5zM183.3 332.5l3.2 5.6h-6.5zM183.5 334.9l3.2 5.6h-6.5zM183.9 342.4l3.2 5.6h-6.5zM184.3 329.1l3.2 5.6h-6.5zM184.6 336.9l3.2 5.6h-6.5zM185.0 330.6l3.2 5.6h-6.5zM185.3 347.3l3.2 5.6h-6.5zM185.7 331.5l3.2 5.6h-6.5zM185.8 350.4l3.2 5.6h-6.5zM186.2 336.7l3.2 5.6h-6.5zM186.5 326.5l3.2 5.6h-6.5zM186.8 342.1l3.2 5.6h-6.5zM187.3 330.4l3.2 5.6h-6.5zM187.5 329.7l3.2 5.6h-6.5zM188.0 330.5l3.2 5.6h-6.5zM188.3 328.3l3.2 5.6h-6.5zM188.5 341.2l3.2 5.6h-6.5zM189.0 344.5l3.2 5.6h-6.5zM189.3 343.0l3.2 5.6h-6.5zM189.4 334.7l3.2 5.6h-6.5zM189.9 327.4l3.2 5.6h-6.5zM190.1 351.2l3.2 5.6h-6.5zM190.6 356.5l3.2 5.6h-6.5zM190.9 351.4l3.2 5.6h-6.5zM191.1 347.6l3.2 5.6h-6.5zM191.4 326.5l3.2 5.6h-6.5zM191.7 335.9l3.2 5.6h-6.5zM192.2 321.8l3.2 5.6h-6.5zM192.6 329.1l3.2 5.6h-6.5zM192.9 324.1l3.2 5.6h-6.5zM193.2 355.3l3.2 5.6h-6.5zM193.4 347.7l3.2 5.6h-6.5zM193.7 327.4l3.2 5.6h-6.5zM194.0 349.8l3.2 5.6h-6.5zM194.4 340.2l3.2 5.6h-6.5zM194.7 338.7l3.2 5.6h-6.5zM195.1 343.6l3.2 5.6h-6.5zM195.4 337.2l3.2 5.6h-6.5zM195.8 345.9l3.2 5.6h-6.5zM196.2 348.4l3.2 5.6h-6.5zM196.5 354.0l3.2 5.6h-6.5zM196.8 324.8l3.2 5.6h-6.5zM197.1 335.0l3.2 5.6h-6.5zM197.5 352.6l3.2 5.6h-6.5zM197.7 331.4l3.2 5.6h-6.5zM197.9 346.9l3.2 5.6h-6.5zM198.5 335.7l3.2 5.6h-6.5zM198.6 330.8l3.2 5.6h-6.5zM199.1 341.6l3.2 5.6h-6.5zM199.5 327.5l3.2 5.6h-6.5zM199.7 338.7l3.2 5.6h-6.5zM200.0 343.3l3.2 5.6h-6.5zM200.5 337.4l3.2 5.6h-6.5zM200.7 345.3l3.2 5.6h-6.5zM200.9 331.2l3.2 5.6h-6.5zM201.4 335.7l3.2 5.6h-6.5zM201.6 334.8l3.2 5.6h-6.5zM202.1 330.2l3.2 5.6h-6.5zM202.2 324.4l3.2 5.6h-6.5zM202.5 311.7l3.2 5.6h-6.5zM203.1 328.4l3.2 5.6h-6.5zM203.3 328.5l3.2 5.6h-6.5zM203.5 324.8l3.2 5.6h-6.5zM204.0 315.6l3.2 5.6h-6.5zM204.2 327.7l3.2 5.6h-6.5zM204.7 313.6l3.2 5.6h-6.5zM204.8 325.2l3.2 5.6h-6.5zM205.3 314.0l3.2 5.6h-6.5zM205.6 325.3l3.2 5.6h-6.5zM205.9 325.9l3.2 5.6h-6.5zM206.3 340.7l3.2 5.6h-6.5zM206.8 314.1l3.2 5.6h-6.5zM207.1 333.6l3.2 5.6h-6.5zM207.1 312.0l3.2 5.6h-6.5zM207.7 323.5l3.2 5.6h-6.5zM208.0 311.2l3.2 5.6h-6.5zM208.1 320.9l3.2 5.6h-6.5zM208.4 335.9l3.2 5.6h-6.5zM209.1 334.8l3.2 5.6h-6.5zM209.1 339.2l3.2 5.6h-6.5zM209.6 327.9l3.2 5.6h-6.5zM209.9 313.0l3.2 5.6h-6.5zM210.3 318.8l3.2 5.6h-6.5zM210.4 339.1l3.2 5.6h-6.5zM211.0 332.4l3.2 5.6h-6.5zM211.3 320.1l3.2 5.6h-6.5zM211.5 330.9l3.2 5.6h-6.5zM211.7 327.8l3.2 5.6h-6.5zM212.2 320.7l3.2 5.6h-6.5zM212.5 321.0l3.2 5.6h-6.5zM212.8 339.3l3.2 5.6h-6.5zM213.1 332.3l3.2 5.6h-6.5zM213.4 324.9l3.2 5.6h-6.5zM213.8 313.4l3.2 5.6h-6.5zM214.1 331.3l3.2 5.6h-6.5zM214.4 325.4l3.2 5.6h-6.5zM214.8 323.7l3.2 5.6h-6.5zM215.1 333.7l3.2 5.6h-6.5zM215.4 325.7l3.2 5.6h-6.5zM215.7 322.8l3.2 5.6h-6.5zM216.2 342.9l3.2 5.6h-6.5zM216.6 326.6l3.2 5.6h-6.5zM216.9 329.4l3.2 5.6h-6.5zM217.0 332.2l3.2 5.6h-6.5zM217.6 339.9l3.2 5.6h-6.5zM217.7 318.0l3.2 5.6h-6.5zM218.3 346.8l3.2 5.6h-6.5zM218.4 341.6l3.2 5.6h-6.5zM218.9 343.4l3.2 5.6h-6.5zM219.0 333.4l3.2 5.6h-6.5zM219.3 322.4l3.2 5.6h-6.5zM219.8 330.8l3.2 5.6h-6.5zM220.2 320.9l3.2 5.6h-6.5zM220.2 322.4l3.2 5.6h-6.5zM220.6 331.7l3.2 5.6h-6.5zM221.2 335.9l3.2 5.6h-6.5zM221.5 337.1l3.2 5.6h-6.5zM221.9 340.0l3.2 5.6h-6.5zM222.2 328.6l3.2 5.6h-6.5zM222.3 327.1l3.2 5.6h-6.5zM222.6 341.6l3.2 5.6h-6.5zM223.2 343.0l3.2 5.6h-6.5zM223.4 342.1l3.2 5.6h-6.5zM223.6 328.9l3.2 5.6h-6.5zM223.9 329.0l3.2 5.6h-6.5zM224.2 354.4l3.2 5.6h-6.5zM224.6 330.5l3.2 5.6h-6.5zM224.9 334.7l3.2 5.6h-6.5zM225.2 340.5l3.2 5.6h-6.5zM225.7 340.3l3.2 5.6h-6.5zM226.0 333.1l3.2 5.6h-6.5zM226.5 320.6l3.2 5.6h-6.5zM226.5 332.8l3.2 5.6h-6.5zM226.9 335.9l3.2 5.6h-6.5zM227.4 342.2l3.2 5.6h-6.5zM227.5 327.0l3.2 5.6h-6.5zM227.9 325.0l3.2 5.6h-6.5zM228.4 328.9l3.2 5.6h-6.5zM228.8 319.7l3.2 5.6h-6.5zM229.1 335.4l3.2 5.6h-6.5zM229.3 340.5l3.2 5.6h-6.5zM229.8 353.5l3.2 5.6h-6.5zM229.8 333.0l3.2 5.6h-6.5zM230.1 322.6l3.2 5.6h-6.5zM230.5 339.4l3.2 5.6h-6.5zM230.8 345.9l3.2 5.6h-6.5zM231.1 335.4l3.2 5.6h-6.5zM231.6 348.9l3.2 5.6h-6.5zM232.0 326.3l3.2 5.6h-6.5zM232.1 333.5l3.2 5.6h-6.5zM232.5 339.3l3.2 5.6h-6.5zM232.9 334.1l3.2 5.6h-6.5zM233.2 319.1l3.2 5.6h-6.5zM233.5 334.4l3.2 5.6h-6.5zM233.8 341.5l3.2 5.6h-6.5zM234.2 323.8l3.2 5.6h-6.5zM234.5 323.9l3.2 5.6h-6.5zM235.0 334.3l3.2 5.6h-6.5zM235.1 349.3l3.2 5.6h-6.5zM235.6 324.9l3.2 5.6h-6.5zM235.7 330.7l3.2 5.6h-6.5zM236.1 339.5l3.2 5.6h-6.5zM236.4 345.6l3.2 5.6h-6.5zM236.9 344.8l3.2 5.6h-6.5zM237.1 351.5l3.2 5.6h-6.5zM237.4 328.8l3.2 5.6h-6.5zM237.8 324.1l3.2 5.6h-6.5zM238.1 342.3l3.2 5.6h-6.5zM238.4 326.9l3.2 5.6h-6.5zM238.6 324.7l3.2 5.6h-6.5zM239.2 332.4l3.2 5.6h-6.5zM239.5 328.2l3.2 5.6h-6.5zM239.8 333.2l3.2 5.6h-6.5zM240.1 316.3l3.2 5.6h-6.5zM240.4 312.7l3.2 5.6h-6.5zM240.8 346.9l3.2 5.6h-6.5zM241.0 340.8l3.2 5.6h-6.5zM241.5 334.4l3.2 5.6h-6.5zM241.9 325.2l3.2 5.6h-6.5zM242.1 321.4l3.2 5.6h-6.5zM242.6 337.6l3.2 5.6h-6.5zM242.7 324.4l3.2 5.6h-6.5zM243.2 333.1l3.2 5.6h-6.5zM243.4 328.8l3.2 5.6h-6.5zM243.6 337.5l3.2 5.6h-6.5zM244.2 340.9l3.2 5.6h-6.5zM244.5 325.5l3.2 5.6h-6.5zM244.8 316.6l3.2 5.6h-6.5zM245.1 334.1l3.2 5.6h-6.5zM245.5 326.6l3.2 5.6h-6.5zM245.6 333.0l3.2 5.6h-6.5zM245.9 353.5l3.2 5.6h-6.5zM246.4 322.9l3.2 5.6h-6.5zM246.7 346.2l3.2 5.6h-6.5zM247.1 344.6l3.2 5.6h-6.5zM247.2 326.6l3.2 5.6h-6.5zM247.7 353.0l3.2 5.6h-6.5zM248.1 349.3l3.2 5.6h-6.5zM248.3 337.9l3.2 5.6h-6.5zM248.7 345.7l3.2 5.6h-6.5zM249.1 328.7l3.2 5.6h-6.5zM249.4 328.8l3.2 5.6h-6.5zM249.5 343.2l3.2 5.6h-6.5zM250.1 320.2l3.2 5.6h-6.5zM250.4 311.5l3.2 5.6h-6.5zM250.7 322.6l3.2 5.6h-6.5zM250.9 325.6l3.2 5.6h-6.5zM251.1 338.1l3.2 5.6h-6.5zM251.5 334.1l3.2 5.6h-6.5zM252.0 325.6l3.2 5.6h-6.5zM252.4 328.3l3.2 5.6h-6.5zM252.5 321.4l3.2 5.6h-6.5zM252.8 337.5l3.2 5.6h-6.5zM253.3 344.9l3.2 5.6h-6.5zM253.7 321.7l3.2 5.6h-6.5zM254.0 351.2l3.2 5.6h-6.5zM254.2 344.8l3.2 5.6h-6.5zM254.7 328.3l3.2 5.6h-6.5zM255.0 328.4l3.2 5.6h-6.5zM255.2 338.9l3.2 5.6h-6.5zM255.5 350.7l3.2 5.6h-6.5zM255.9 336.4l3.2 5.6h-6.5zM256.2 332.0l3.2 5.6h-6.5zM256.4 325.0l3.2 5.6h-6.5zM256.9 332.7l3.2 5.6h-6.5zM257.1 340.6l3.2 5.6h-6.5zM257.4 325.1l3.2 5.6h-6.5zM258.0 341.4l3.2 5.6h-6.5zM258.2 323.9l3.2 5.6h-6.5zM258.4 337.2l3.2 5.6h-6.5zM258.8 336.9l3.2 5.6h-6.5zM259.1 331.0l3.2 5.6h-6.5zM259.6 333.1l3.2 5.6h-6.5zM259.9 320.1l3.2 5.6h-6.5zM260.3 338.1l3.2 5.6h-6.5zM260.5 328.0l3.2 5.6h-6.5zM261.0 326.1l3.2 5.6h-6.5zM261.2 331.1l3.2 5.6h-6.5zM261.3 339.2l3.2 5.6h-6.5zM261.7 341.9l3.2 5.6h-6.5zM262.2 331.0l3.2 5.6h-6.5zM262.5 324.0l3.2 5.6h-6.5zM262.8 329.3l3.2 5.6h-6.5zM263.1 322.1l3.2 5.6h-6.5zM263.3 335.9l3.2 5.6h-6.5zM263.9 335.6l3.2 5.6h-6.5zM264.0 333.5l3.2 5.6h-6.5zM264.5 327.6l3.2 5.6h-6.5zM264.7 334.1l3.2 5.6h-6.5zM265.1 331.9l3.2 5.6h-6.5zM265.5 322.6l3.2 5.6h-6.5zM265.8 330.0l3.2 5.6h-6.5zM266.1 330.3l3.2 5.6h-6.5zM266.3 342.3l3.2 5.6h-6.5zM266.6 335.8l3.2 5.6h-6.5zM266.9 323.9l3.2 5.6h-6.5zM267.2 339.0l3.2 5.6h-6.5zM267.9 338.8l3.2 5.6h-6.5zM268.1 323.4l3.2 5.6h-6.5zM268.3 337.0l3.2 5.6h-6.5zM268.6 331.7l3.2 5.6h-6.5zM268.9 339.7l3.2 5.6h-6.5zM269.3 323.7l3.2 5.6h-6.5zM269.6 337.8l3.2 5.6h-6.5zM270.1 327.4l3.2 5.6h-6.5zM270.4 323.6l3.2 5.6h-6.5zM270.6 335.1l3.2 5.6h-6.5zM271.0 326.9l3.2 5.6h-6.5zM271.3 344.4l3.2 5.6h-6.5zM271.6 333.7l3.2 5.6h-6.5zM272.0 321.8l3.2 5.6h-6.5zM272.4 323.3l3.2 5.6h-6.5zM272.8 334.8l3.2 5.6h-6.5zM273.1 334.3l3.2 5.6h-6.5zM273.3 322.8l3.2 5.6h-6.5zM273.7 327.8l3.2 5.6h-6.5zM274.1 346.8l3.2 5.6h-6.5zM274.3 327.2l3.2 5.6h-6.5zM274.7 323.3l3.2 5.6h-6.5zM274.8 333.7l3.2 5.6h-6.5zM275.4 320.5l3.2 5.6h-6.5zM275.5 331.8l3.2 5.6h-6.5zM275.9 330.5l3.2 5.6h-6.5zM276.3 331.4l3.2 5.6h-6.5zM276.5 345.3l3.2 5.6h-6.5zM276.9 338.5l3.2 5.6h-6.5zM277.4 332.0l3.2 5.6h-6.5zM277.4 316.9l3.2 5.6h-6.5zM278.0 323.4l3.2 5.6h-6.5zM278.2 319.6l3.2 5.6h-6.5zM278.6 324.1l3.2 5.6h-6.5zM279.0 325.8l3.2 5.6h-6.5zM279.3 328.8l3.2 5.6h-6.5zM279.5 324.5l3.2 5.6h-6.5zM279.7 333.8l3.2 5.6h-6.5zM280.3 323.9l3.2 5.6h-6.5zM280.7 330.3l3.2 5.6h-6.5zM280.9 344.3l3.2 5.6h-6.5zM281.2 338.8l3.2 5.6h-6.5zM281.6 343.7l3.2 5.6h-6.5zM281.9 328.0l3.2 5.6h-6.5zM282.1 348.9l3.2 5.6h-6.5zM282.4 323.9l3.2 5.6h-6.5zM282.8 325.7l3.2 5.6h-6.5zM283.3 322.3l3.2 5.6h-6.5zM283.4 332.4l3.2 5.6h-6.5zM283.7 328.4l3.2 5.6h-6.5zM284.2 325.7l3.2 5.6h-6.5zM284.4 315.6l3.2 5.6h-6.5zM284.7 324.8l3.2 5.6h-6.5zM285.0 341.4l3.2 5.6h-6.5zM285.4 329.2l3.2 5.6h-6.5zM285.7 327.7l3.2 5.6h-6.5zM286.2 338.8l3.2 5.6h-6.5zM286.3 329.3l3.2 5.6h-6.5zM286.6 346.7l3.2 5.6h-6.5zM287.2 340.9l3.2 5.6h-6.5zM287.3 317.6l3.2 5.6h-6.5zM287.6 333.2l3.2 5.6h-6.5zM288.2 336.4l3.2 5.6h-6.5zM288.5 327.1l3.2 5.6h-6.5zM288.8 322.1l3.2 5.6h-6.5zM289.0 348.9l3.2 5.6h-6.5zM289.4 328.2l3.2 5.6h-6.5zM289.8 341.6l3.2 5.6h-6.5zM290.1 314.4l3.2 5.6h-6.5zM290.3 334.5l3.2 5.6h-6.5zM290.6 345.2l3.2 5.6h-6.5zM291.2 326.7l3.2 5.6h-6.5zM291.3 340.8l3.2 5.6h-6.5zM291.8 344.5l3.2 5.6h-6.5zM291.9 325.0l3.2 5.6h-6.5zM292.3 330.4l3.2 5.6h-6.5zM292.8 325.8l3.2 5.6h-6.5zM293.1 333.5l3.2 5.6h-6.5zM293.2 341.1l3.2 5.6h-6.5zM293.7 346.2l3.2 5.6h-6.5zM293.8 336.5l3.2 5.6h-6.5zM294.4 320.1l3.2 5.6h-6.5zM294.5 328.8l3.2 5.6h-6.5zM294.8 315.6l3.2 5.6h-6.5zM295.3 354.1l3.2 5.6h-6.5zM295.7 336.3l3.2 5.6h-6.5zM295.8 333.9l3.2 5.6h-6.5zM296.3 335.6l3.2 5.6h-6.5zM296.7 339.0l3.2 5.6h-6.5zM297.0 327.5l3.2 5.6h-6.5zM297.2 341.8l3.2 5.6h-6.5zM297.6 326.7l3.2 5.6h-6.5zM297.8 339.3l3.2 5.6h-6.5zM298.2 332.1l3.2 5.6h-6.5zM298.5 333.9l3.2 5.6h-6.5zM298.9 331.7l3.2 5.6h-6.5zM299.4 336.8l3.2 5.6h-6.5zM299.6 324.0l3.2 5.6h-6.5zM300.0 331.6l3.2 5.6h-6.5zM300.3 322.2l3.2 5.6h-6.5zM300.6 322.5l3.2 5.6h-6.5zM300.9 324.1l3.2 5.6h-6.5zM301.2 337.1l3.2 5.6h-6.5zM301.5 320.7l3.2 5.6h-6.5zM302.0 330.1l3.2 5.6h-6.5zM302.3 332.5l3.2 5.6h-6.5zM302.5 334.2l3.2 5.6h-6.5zM302.7 336.0l3.2 5.6h-6.5zM303.1 319.5l3.2 5.6h-6.5zM303.4 344.5l3.2 5.6h-6.5zM303.9 318.9l3.2 5.6h-6.5zM304.2 331.8l3.2 5.6h-6.5zM304.5 321.7l3.2 5.6h-6.5zM304.8 353.6l3.2 5.6h-6.5zM305.3 312.2l3.2 5.6h-6.5zM305.6 338.6l3.2 5.6h-6.5zM306.0 335.4l3.2 5.6h-6.5zM306.1 324.1l3.2 5.6h-6.5zM306.6 331.4l3.2 5.6h-6.5zM306.8 336.0l3.2 5.6h-6.5zM307.3 332.0l3.2 5.6h-6.5zM307.3 337.8l3.2 5.6h-6.5zM307.8 339.8l3.2 5.6h-6.5zM308.0 311.4l3.2 5.6h-6.5zM308.4 323.6l3.2 5.6h-6.5zM308.8 321.7l3.2 5.6h-6.5zM309.0 325.3l3.2 5.6h-6.5zM309.4 343.7l3.2 5.6h-6.5zM309.7 323.9l3.2 5.6h-6.5zM310.1 323.9l3.2 5.6h-6.5zM310.4 329.9l3.2 5.6h-6.5zM310.8 338.9l3.2 5.6h-6.5zM311.1 332.9l3.2 5.6h-6.5zM311.3 346.6l3.2 5.6h-6.5zM311.7 339.3l3.2 5.6h-6.5zM312.2 328.1l3.2 5.6h-6.5zM312.4 330.6l3.2 5.6h-6.5zM312.6 338.2l3.2 5.6h-6.5zM313.1 318.2l3.2 5.6h-6.5zM313.2 348.8l3.2 5.6h-6.5zM313.6 335.8l3.2 5.6h-6.5zM313.9 337.8l3.2 5.6h-6.5zM314.3 333.3l3.2 5.6h-6.5zM314.8 329.0l3.2 5.6h-6.5zM315.1 338.8l3.2 5.6h-6.5zM315.2 323.5l3.2 5.6h-6.5zM315.8 322.3l3.2 5.6h-6.5zM315.8 323.6l3.2 5.6h-6.5zM316.4 328.6l3.2 5.6h-6.5zM316.6 330.9l3.2 5.6h-6.5zM317.0 326.3l3.2 5.6h-6.5zM317.5 332.7l3.2 5.6h-6.5zM317.8 339.9l3.2 5.6h-6.5zM318.0 337.8l3.2 5.6h-6.5zM318.2 334.7l3.2 5.6h-6.5zM318.5 340.5l3.2 5.6h-6.5zM319.1 320.0l3.2 5.6h-6.5zM319.3 325.7l3.2 5.6h-6.5zM319.7 325.5l3.2 5.6h-6.5zM319.9 342.5l3.2 5.6h-6.5zM320.2 336.2l3.2 5.6h-6.5zM320.6 334.4l3.2 5.6h-6.5zM321.1 332.9l3.2 5.6h-6.5zM321.2 329.6l3.2 5.6h-6.5zM321.6 336.9l3.2 5.6h-6.5zM322.0 336.9l3.2 5.6h-6.5zM322.2 342.3l3.2 5.6h-6.5zM322.6 325.8l3.2 5.6h-6.5zM322.8 329.4l3.2 5.6h-6.5zM323.3 349.0l3.2 5.6h-6.5zM323.4 341.2l3.2 5.6h-6.5zM323.8 314.3l3.2 5.6h-6.5zM324.2 335.9l3.2 5.6h-6.5zM324.6 333.3l3.2 5.6h-6.5zM324.7 317.0l3.2 5.6h-6.5zM325.3 335.6l3.2 5.6h-6.5zM325.4 336.7l3.2 5.6h-6.5zM325.7 338.9l3.2 5.6h-6.5zM326.0 325.7l3.2 5.6h-6.5zM326.4 339.5l3.2 5.6h-6.5zM327.0 321.6l3.2 5.6h-6.5zM327.0 338.1l3.2 5.6h-6.5zM327.4 337.3l3.2 5.6h-6.5zM327.7 336.4l3.2 5.6h-6.5zM328.0 345.1l3.2 5.6h-6.5zM328.4 323.2l3.2 5.6h-6.5zM328.7 330.2l3.2 5.6h-6.5zM329.1 322.8l3.2 5.6h-6.5zM329.4 331.7l3.2 5.6h-6.5zM329.6 327.5l3.2 5.6h-6.5zM330.1 328.1l3.2 5.6h-6.5zM330.3 341.8l3.2 5.6h-6.5zM330.7 324.0l3.2 5.6h-6.5zM331.1 336.9l3.2 5.6h-6.5zM331.4 330.3l3.2 5.6h-6.5zM331.8 321.9l3.2 5.6h-6.5zM332.2 342.9l3.2 5.6h-6.5zM332.3 330.5l3.2 5.6h-6.5zM332.8 339.9l3.2 5.6h-6.5zM333.2 325.5l3.2 5.6h-6.5zM333.3 311.7l3.2 5.6h-6.5zM333.7 341.9l3.2 5.6h-6.5zM333.9 319.3l3.2 5.6h-6.5zM334.5 331.1l3.2 5.6h-6.5zM334.7 313.2l3.2 5.6h-6.5zM335.1 351.8l3.2 5.6h-6.5zM335.4 327.0l3.2 5.6h-6.5zM335.8 350.4l3.2 5.6h-6.5zM336.1 332.1l3.2 5.6h-6.5zM336.5 338.2l3.2 5.6h-6.5zM336.7 339.8l3.2 5.6h-6.5zM336.9 332.9l3.2 5.6h-6.5zM337.4 328.9l3.2 5.6h-6.5zM337.6 326.5l3.2 5.6h-6.5zM337.9 343.8l3.2 5.6h-6.5zM338.3 349.6l3.2 5.6h-6.5zM338.6 322.5l3.2 5.6h-6.5zM338.9 343.1l3.2 5.6h-6.5zM339.4 336.0l3.2 5.6h-6.5zM339.6 343.7l3.2 5.6h-6.5zM339.8 332.8l3.2 5.6h-6.5zM340.2 332.2l3.2 5.6h-6.5zM340.6 345.7l3.2 5.6h-6.5zM340.8 331.5l3.2 5.6h-6.5zM341.4 333.4l3.2 5.6h-6.5zM341.7 343.0l3.2 5.6h-6.5zM342.1 341.3l3.2 5.6h-6.5zM342.2 328.3l3.2 5.6h-6.5zM342.6 326.2l3.2 5.6h-6.5zM342.9 346.6l3.2 5.6h-6.5zM343.3 341.8l3.2 5.6h-6.5zM343.7 345.8l3.2 5.6h-6.5zM343.8 328.0l3.2 5.6h-6.5zM344.1 328.4l3.2 5.6h-6.5zM344.5 338.5l3.2 5.6h-6.5zM344.9 346.3l3.2 5.6h-6.5zM345.3 335.4l3.2 5.6h-6.5zM345.4 331.5l3.2 5.6h-6.5zM345.7 315.1l3.2 5.6h-6.5zM346.3 336.7l3.2 5.6h-6.5zM346.6 337.9l3.2 5.6h-6.5zM346.7 325.0l3.2 5.6h-6.5zM347.2 339.0l3.2 5.6h-6.5zM347.4 333.3l3.2 5.6h-6.5zM347.7 343.0l3.2 5.6h-6.5zM348.1 336.8l3.2 5.6h-6.5zM348.5 336.1l3.2 5.6h-6.5zM348.7 324.4l3.2 5.6h-6.5z" fill="#c0ebe7" stroke="#22a496" stroke-width="0.6"/>
<path d="M70.5 281.0l3.0 5.2h-6.0zM72.1 304.4l3.0 5.2h-6.0zM98.8 303.7l3.0 5.2h-6.0zM115.9 307.7l3.0 5.2h-6.0zM127.5 303.7l3.0 5.2h-6.0zM131.0 308.8l3.0 5.2h-6.0zM153.2 305.0l3.0 5.2h-6.0zM201.3 308.6l3.0 5.2h-6.0zM213.6 305.0l3.0 5.2h-6.0zM214.9 309.9l3.0 5.2h-6.0zM221.8 303.3l3.0 5.2h-6.0zM232.4 294.1l3.0 5.2h-6.0zM235.0 306.0l3.0 5.2h-6.0zM249.1 299.4l3.0 5.2h-6.0zM277.5 305.7l3.0 5.2h-6.0zM283.3 303.1l3.0 5.2h-6.0zM291.7 296.3l3.0 5.2h-6.0zM289.1 309.3l3.0 5.2h-6.0zM318.7 302.8l3.0 5.2h-6.0zM126.2 365.7l3.0 5.2h-6.0zM135.6 384.6l3.0 5.2h-6.0zM143.6 395.5l3.0 5.2h-6.0zM180.1 365.7l3.0 5.2h-6.0zM190.1 364.4l3.0 5.2h-6.0zM185.0 392.3l3.0 5.2h-6.0zM203.5 392.9l3.0 5.2h-6.0z" fill="#050d0d" stroke="#1d4f4b" stroke-width="0.8"/>
<path d="M69.3 281.3V441" fill="none" stroke="#666" stroke-width="1"/>
<text x="59.6" y="286.1" class="tl" text-anchor="end">20.0</text>
<text x="59.6" y="334.1" class="tl" text-anchor="end">15.0</text>
<text x="59.6" y="381.3" class="tl" text-anchor="end">10.0</text>
<text x="59.6" y="429.1" class="tl" text-anchor="end">5.0</text>
<path d="M62.3 281.3H69.3M62.3 329.0H69.3M62.3 376.7H69.3M62.3 424.4H69.3" stroke="#111" stroke-width="1" fill="none"/>
<text transform="translate(370.0,337.6) rotate(-90)" class="qc" text-anchor="middle">Mid QC</text>
<circle cx="390.0" cy="35.5" r="8.2" fill="none" stroke="#111" stroke-width="0.9"/>
<text x="390.0" y="39.9" class="lt" text-anchor="middle">B</text>
<text x="571.0" y="39.9" class="tt" text-anchor="middle">AZD8895</text>
<rect x="427.7" y="106.1" width="285.9" height="49.1" fill="#f2f3f3"/>
<path d="M707.95 105.21h1.70v1.70h-1.70zM702.17 105.21h1.70v1.70h-1.70zM696.39 105.21h1.70v1.70h-1.70zM690.61 105.21h1.70v1.70h-1.70zM684.83 105.21h1.70v1.70h-1.70zM679.05 105.21h1.70v1.70h-1.70zM673.27 105.21h1.70v1.70h-1.70zM667.49 105.21h1.70v1.70h-1.70zM661.71 105.21h1.70v1.70h-1.70zM655.93 105.21h1.70v1.70h-1.70zM650.15 105.21h1.70v1.70h-1.70zM644.37 105.21h1.70v1.70h-1.70zM638.59 105.21h1.70v1.70h-1.70zM632.81 105.21h1.70v1.70h-1.70zM627.03 105.21h1.70v1.70h-1.70zM621.25 105.21h1.70v1.70h-1.70zM615.47 105.21h1.70v1.70h-1.70zM609.69 105.21h1.70v1.70h-1.70zM603.91 105.21h1.70v1.70h-1.70zM598.13 105.21h1.70v1.70h-1.70zM592.35 105.21h1.70v1.70h-1.70zM586.57 105.21h1.70v1.70h-1.70zM580.79 105.21h1.70v1.70h-1.70zM575.01 105.21h1.70v1.70h-1.70zM569.23 105.21h1.70v1.70h-1.70zM563.45 105.21h1.70v1.70h-1.70zM557.67 105.21h1.70v1.70h-1.70zM551.89 105.21h1.70v1.70h-1.70zM546.11 105.21h1.70v1.70h-1.70zM540.33 105.21h1.70v1.70h-1.70zM534.55 105.21h1.70v1.70h-1.70zM528.77 105.21h1.70v1.70h-1.70zM522.99 105.21h1.70v1.70h-1.70zM517.21 105.21h1.70v1.70h-1.70zM511.43 105.21h1.70v1.70h-1.70zM505.65 105.21h1.70v1.70h-1.70zM499.87 105.21h1.70v1.70h-1.70zM494.09 105.21h1.70v1.70h-1.70zM488.31 105.21h1.70v1.70h-1.70zM482.53 105.21h1.70v1.70h-1.70zM476.75 105.21h1.70v1.70h-1.70zM470.97 105.21h1.70v1.70h-1.70zM465.19 105.21h1.70v1.70h-1.70zM459.41 105.21h1.70v1.70h-1.70zM453.63 105.21h1.70v1.70h-1.70zM447.85 105.21h1.70v1.70h-1.70zM442.07 105.21h1.70v1.70h-1.70zM436.29 105.21h1.70v1.70h-1.70zM430.51 105.21h1.70v1.70h-1.70z" fill="#111"/>
<path d="M707.95 154.32h1.70v1.70h-1.70zM702.17 154.32h1.70v1.70h-1.70zM696.39 154.32h1.70v1.70h-1.70zM690.61 154.32h1.70v1.70h-1.70zM684.83 154.32h1.70v1.70h-1.70zM679.05 154.32h1.70v1.70h-1.70zM673.27 154.32h1.70v1.70h-1.70zM667.49 154.32h1.70v1.70h-1.70zM661.71 154.32h1.70v1.70h-1.70zM655.93 154.32h1.70v1.70h-1.70zM650.15 154.32h1.70v1.70h-1.70zM644.37 154.32h1.70v1.70h-1.70zM638.59 154.32h1.70v1.70h-1.70zM632.81 154.32h1.70v1.70h-1.70zM627.03 154.32h1.70v1.70h-1.70zM621.25 154.32h1.70v1.70h-1.70zM615.47 154.32h1.70v1.70h-1.70zM609.69 154.32h1.70v1.70h-1.70zM603.91 154.32h1.70v1.70h-1.70zM598.13 154.32h1.70v1.70h-1.70zM592.35 154.32h1.70v1.70h-1.70zM586.57 154.32h1.70v1.70h-1.70zM580.79 154.32h1.70v1.70h-1.70zM575.01 154.32h1.70v1.70h-1.70zM569.23 154.32h1.70v1.70h-1.70zM563.45 154.32h1.70v1.70h-1.70zM557.67 154.32h1.70v1.70h-1.70zM551.89 154.32h1.70v1.70h-1.70zM546.11 154.32h1.70v1.70h-1.70zM540.33 154.32h1.70v1.70h-1.70zM534.55 154.32h1.70v1.70h-1.70zM528.77 154.32h1.70v1.70h-1.70zM522.99 154.32h1.70v1.70h-1.70zM517.21 154.32h1.70v1.70h-1.70zM511.43 154.32h1.70v1.70h-1.70zM505.65 154.32h1.70v1.70h-1.70zM499.87 154.32h1.70v1.70h-1.70zM494.09 154.32h1.70v1.70h-1.70zM488.31 154.32h1.70v1.70h-1.70zM482.53 154.32h1.70v1.70h-1.70zM476.75 154.32h1.70v1.70h-1.70zM470.97 154.32h1.70v1.70h-1.70zM465.19 154.32h1.70v1.70h-1.70zM459.41 154.32h1.70v1.70h-1.70zM453.63 154.32h1.70v1.70h-1.70zM447.85 154.32h1.70v1.70h-1.70zM442.07 154.32h1.70v1.70h-1.70zM436.29 154.32h1.70v1.70h-1.70zM430.51 154.32h1.70v1.70h-1.70z" fill="#111"/>
<path d="M428.6 141.8l3.2 3.2l-3.2 3.2l-3.2 -3.2zM428.6 116.4l3.2 3.2l-3.2 3.2l-3.2 -3.2zM429.2 112.4l3.2 3.2l-3.2 3.2l-3.2 -3.2zM429.4 128.2l3.2 3.2l-3.2 3.2l-3.2 -3.2zM429.8 116.5l3.2 3.2l-3.2 3.2l-3.2 -3.2zM430.3 125.1l3.2 3.2l-3.2 3.2l-3.2 -3.2zM430.5 135.6l3.2 3.2l-3.2 3.2l-3.2 -3.2zM431.1 130.5l3.2 3.2l-3.2 3.2l-3.2 -3.2zM431.5 121.9l3.2 3.2l-3.2 3.2l-3.2 -3.2zM431.7 113.9l3.2 3.2l-3.2 3.2l-3.2 -3.2zM432.4 111.0l3.2 3.2l-3.2 3.2l-3.2 -3.2zM432.7 115.4l3.2 3.2l-3.2 3.2l-3.2 -3.2zM433.2 112.4l3.2 3.2l-3.2 3.2l-3.2 -3.2zM433.4 135.0l3.2 3.2l-3.2 3.2l-3.2 -3.2zM433.9 118.4l3.2 3.2l-3.2 3.2l-3.2 -3.2zM434.0 115.8l3.2 3.2l-3.2 3.2l-3.2 -3.2zM434.6 120.3l3.2 3.2l-3.2 3.2l-3.2 -3.2zM435.0 110.4l3.2 3.2l-3.2 3.2l-3.2 -3.2zM435.4 125.3l3.2 3.2l-3.2 3.2l-3.2 -3.2zM435.7 128.2l3.2 3.2l-3.2 3.2l-3.2 -3.2zM436.3 124.4l3.2 3.2l-3.2 3.2l-3.2 -3.2zM436.4 127.2l3.2 3.2l-3.2 3.2l-3.2 -3.2zM436.7 120.8l3.2 3.2l-3.2 3.2l-3.2 -3.2zM437.4 135.0l3.2 3.2l-3.2 3.2l-3.2 -3.2zM437.6 117.4l3.2 3.2l-3.2 3.2l-3.2 -3.2zM438.0 128.5l3.2 3.2l-3.2 3.2l-3.2 -3.2zM438.6 115.8l3.2 3.2l-3.2 3.2l-3.2 -3.2zM438.7 120.6l3.2 3.2l-3.2 3.2l-3.2 -3.2zM439.4 118.1l3.2 3.2l-3.2 3.2l-3.2 -3.2zM439.5 105.6l3.2 3.2l-3.2 3.2l-3.2 -3.2zM440.0 133.9l3.2 3.2l-3.2 3.2l-3.2 -3.2zM440.6 116.6l3.2 3.2l-3.2 3.2l-3.2 -3.2zM440.7 126.0l3.2 3.2l-3.2 3.2l-3.2 -3.2zM441.2 122.3l3.2 3.2l-3.2 3.2l-3.2 -3.2zM441.4 128.1l3.2 3.2l-3.2 3.2l-3.2 -3.2zM442.1 109.3l3.2 3.2l-3.2 3.2l-3.2 -3.2zM442.5 134.0l3.2 3.2l-3.2 3.2l-3.2 -3.2zM442.9 119.1l3.2 3.2l-3.2 3.2l-3.2 -3.2zM443.2 108.2l3.2 3.2l-3.2 3.2l-3.2 -3.2zM443.5 144.0l3.2 3.2l-3.2 3.2l-3.2 -3.2zM443.8 132.3l3.2 3.2l-3.2 3.2l-3.2 -3.2zM444.2 127.7l3.2 3.2l-3.2 3.2l-3.2 -3.2zM444.8 129.1l3.2 3.2l-3.2 3.2l-3.2 -3.2zM444.9 120.8l3.2 3.2l-3.2 3.2l-3.2 -3.2zM445.5 128.6l3.2 3.2l-3.2 3.2l-3.2 -3.2zM446.0 133.2l3.2 3.2l-3.2 3.2l-3.2 -3.2zM446.1 132.4l3.2 3.2l-3.2 3.2l-3.2 -3.2zM446.6 111.8l3.2 3.2l-3.2 3.2l-3.2 -3.2zM447.1 139.5l3.2 3.2l-3.2 3.2l-3.2 -3.2zM447.5 119.1l3.2 3.2l-3.2 3.2l-3.2 -3.2zM447.9 113.7l3.2 3.2l-3.2 3.2l-3.2 -3.2zM448.3 118.3l3.2 3.2l-3.2 3.2l-3.2 -3.2zM448.5 117.4l3.2 3.2l-3.2 3.2l-3.2 -3.2zM448.9 124.4l3.2 3.2l-3.2 3.2l-3.2 -3.2zM449.4 110.8l3.2 3.2l-3.2 3.2l-3.2 -3.2zM449.8 133.2l3.2 3.2l-3.2 3.2l-3.2 -3.2zM450.0 131.3l3.2 3.2l-3.2 3.2l-3.2 -3.2zM450.5 126.5l3.2 3.2l-3.2 3.2l-3.2 -3.2zM451.1 116.6l3.2 3.2l-3.2 3.2l-3.2 -3.2zM451.1 111.8l3.2 3.2l-3.2 3.2l-3.2 -3.2zM451.6 118.3l3.2 3.2l-3.2 3.2l-3.2 -3.2zM452.1 112.6l3.2 3.2l-3.2 3.2l-3.2 -3.2zM452.5 124.7l3.2 3.2l-3.2 3.2l-3.2 -3.2zM452.6 110.9l3.2 3.2l-3.2 3.2l-3.2 -3.2zM453.1 134.4l3.2 3.2l-3.2 3.2l-3.2 -3.2zM453.7 126.9l3.2 3.2l-3.2 3.2l-3.2 -3.2zM453.9 136.6l3.2 3.2l-3.2 3.2l-3.2 -3.2zM454.4 119.3l3.2 3.2l-3.2 3.2l-3.2 -3.2zM454.8 124.6l3.2 3.2l-3.2 3.2l-3.2 -3.2zM455.1 118.4l3.2 3.2l-3.2 3.2l-3.2 -3.2zM455.6 111.8l3.2 3.2l-3.2 3.2l-3.2 -3.2zM455.9 116.8l3.2 3.2l-3.2 3.2l-3.2 -3.2zM456.2 142.2l3.2 3.2l-3.2 3.2l-3.2 -3.2zM456.8 130.1l3.2 3.2l-3.2 3.2l-3.2 -3.2zM457.2 114.4l3.2 3.2l-3.2 3.2l-3.2 -3.2zM457.5 116.6l3.2 3.2l-3.2 3.2l-3.2 -3.2zM457.8 118.0l3.2 3.2l-3.2 3.2l-3.2 -3.2zM458.2 115.0l3.2 3.2l-3.2 3.2l-3.2 -3.2zM458.6 145.6l3.2 3.2l-3.2 3.2l-3.2 -3.2zM459.0 107.5l3.2 3.2l-3.2 3.2l-3.2 -3.2zM459.4 131.3l3.2 3.2l-3.2 3.2l-3.2 -3.2zM459.8 122.5l3.2 3.2l-3.2 3.2l-3.2 -3.2zM460.0 130.5l3.2 3.2l-3.2 3.2l-3.2 -3.2zM460.5 121.2l3.2 3.2l-3.2 3.2l-3.2 -3.2zM461.0 141.3l3.2 3.2l-3.2 3.2l-3.2 -3.2zM461.2 118.1l3.2 3.2l-3.2 3.2l-3.2 -3.2zM461.8 123.9l3.2 3.2l-3.2 3.2l-3.2 -3.2zM462.1 127.4l3.2 3.2l-3.2 3.2l-3.2 -3.2zM462.7 117.1l3.2 3.2l-3.2 3.2l-3.2 -3.2zM462.8 136.2l3.2 3.2l-3.2 3.2l-3.2 -3.2zM463.1 121.3l3.2 3.2l-3.2 3.2l-3.2 -3.2zM463.8 121.4l3.2 3.2l-3.2 3.2l-3.2 -3.2zM463.9 131.7l3.2 3.2l-3.2 3.2l-3.2 -3.2zM464.6 135.9l3.2 3.2l-3.2 3.2l-3.2 -3.2zM464.8 131.2l3.2 3.2l-3.2 3.2l-3.2 -3.2zM465.3 121.8l3.2 3.2l-3.2 3.2l-3.2 -3.2zM465.8 126.5l3.2 3.2l-3.2 3.2l-3.2 -3.2zM466.1 135.4l3.2 3.2l-3.2 3.2l-3.2 -3.2zM466.6 145.5l3.2 3.2l-3.2 3.2l-3.2 -3.2zM466.7 135.8l3.2 3.2l-3.2 3.2l-3.2 -3.2zM467.0 124.4l3.2 3.2l-3.2 3.2l-3.2 -3.2zM467.6 108.2l3.2 3.2l-3.2 3.2l-3.2 -3.2zM468.0 125.7l3.2 3.2l-3.2 3.2l-3.2 -3.2zM468.4 128.4l3.2 3.2l-3.2 3.2l-3.2 -3.2zM468.8 111.2l3.2 3.2l-3.2 3.2l-3.2 -3.2zM469.0 125.6l3.2 3.2l-3.2 3.2l-3.2 -3.2zM469.6 125.9l3.2 3.2l-3.2 3.2l-3.2 -3.2zM469.8 115.4l3.2 3.2l-3.2 3.2l-3.2 -3.2zM470.3 126.5l3.2 3.2l-3.2 3.2l-3.2 -3.2zM470.7 129.2l3.2 3.2l-3.2 3.2l-3.2 -3.2zM471.0 114.9l3.2 3.2l-3.2 3.2l-3.2 -3.2zM471.5 122.1l3.2 3.2l-3.2 3.2l-3.2 -3.2zM471.8 143.1l3.2 3.2l-3.2 3.2l-3.2 -3.2zM472.4 129.2l3.2 3.2l-3.2 3.2l-3.2 -3.2zM472.7 129.5l3.2 3.2l-3.2 3.2l-3.2 -3.2zM473.1 132.0l3.2 3.2l-3.2 3.2l-3.2 -3.2zM473.5 125.1l3.2 3.2l-3.2 3.2l-3.2 -3.2zM473.9 116.4l3.2 3.2l-3.2 3.2l-3.2 -3.2zM474.1 121.4l3.2 3.2l-3.2 3.2l-3.2 -3.2zM474.4 118.8l3.2 3.2l-3.2 3.2l-3.2 -3.2zM475.1 132.0l3.2 3.2l-3.2 3.2l-3.2 -3.2zM475.3 116.7l3.2 3.2l-3.2 3.2l-3.2 -3.2zM475.6 126.5l3.2 3.2l-3.2 3.2l-3.2 -3.2zM476.2 117.3l3.2 3.2l-3.2 3.2l-3.2 -3.2zM476.6 124.8l3.2 3.2l-3.2 3.2l-3.2 -3.2zM476.9 134.3l3.2 3.2l-3.2 3.2l-3.2 -3.2zM477.3 120.4l3.2 3.2l-3.2 3.2l-3.2 -3.2zM477.6 106.3l3.2 3.2l-3.2 3.2l-3.2 -3.2zM478.2 109.4l3.2 3.2l-3.2 3.2l-3.2 -3.2zM478.5 119.7l3.2 3.2l-3.2 3.2l-3.2 -3.2zM478.9 124.3l3.2 3.2l-3.2 3.2l-3.2 -3.2zM479.2 120.4l3.2 3.2l-3.2 3.2l-3.2 -3.2zM479.4 125.0l3.2 3.2l-3.2 3.2l-3.2 -3.2zM479.9 138.2l3.2 3.2l-3.2 3.2l-3.2 -3.2zM480.4 120.3l3.2 3.2l-3.2 3.2l-3.2 -3.2zM480.8 122.0l3.2 3.2l-3.2 3.2l-3.2 -3.2zM481.2 128.5l3.2 3.2l-3.2 3.2l-3.2 -3.2zM481.4 113.1l3.2 3.2l-3.2 3.2l-3.2 -3.2zM481.9 116.8l3.2 3.2l-3.2 3.2l-3.2 -3.2zM482.1 132.6l3.2 3.2l-3.2 3.2l-3.2 -3.2zM482.5 127.2l3.2 3.2l-3.2 3.2l-3.2 -3.2zM483.1 118.0l3.2 3.2l-3.2 3.2l-3.2 -3.2zM483.6 135.1l3.2 3.2l-3.2 3.2l-3.2 -3.2zM483.9 116.6l3.2 3.2l-3.2 3.2l-3.2 -3.2zM484.2 121.6l3.2 3.2l-3.2 3.2l-3.2 -3.2zM484.8 121.9l3.2 3.2l-3.2 3.2l-3.2 -3.2zM485.0 130.5l3.2 3.2l-3.2 3.2l-3.2 -3.2zM485.4 124.8l3.2 3.2l-3.2 3.2l-3.2 -3.2zM486.0 115.1l3.2 3.2l-3.2 3.2l-3.2 -3.2zM486.0 125.9l3.2 3.2l-3.2 3.2l-3.2 -3.2zM486.7 110.9l3.2 3.2l-3.2 3.2l-3.2 -3.2zM486.8 114.2l3.2 3.2l-3.2 3.2l-3.2 -3.2zM487.4 139.1l3.2 3.2l-3.2 3.2l-3.2 -3.2zM487.9 136.7l3.2 3.2l-3.2 3.2l-3.2 -3.2zM488.0 124.6l3.2 3.2l-3.2 3.2l-3.2 -3.2zM488.3 119.4l3.2 3.2l-3.2 3.2l-3.2 -3.2zM489.0 118.3l3.2 3.2l-3.2 3.2l-3.2 -3.2zM489.3 115.2l3.2 3.2l-3.2 3.2l-3.2 -3.2zM489.7 122.2l3.2 3.2l-3.2 3.2l-3.2 -3.2zM490.2 111.1l3.2 3.2l-3.2 3.2l-3.2 -3.2zM490.3 107.4l3.2 3.2l-3.2 3.2l-3.2 -3.2zM490.9 122.4l3.2 3.2l-3.2 3.2l-3.2 -3.2zM491.3 119.2l3.2 3.2l-3.2 3.2l-3.2 -3.2zM491.5 123.5l3.2 3.2l-3.2 3.2l-3.2 -3.2zM492.1 126.1l3.2 3.2l-3.2 3.2l-3.2 -3.2zM492.2 122.9l3.2 3.2l-3.2 3.2l-3.2 -3.2zM492.9 122.8l3.2 3.2l-3.2 3.2l-3.2 -3.2zM493.3 111.6l3.2 3.2l-3.2 3.2l-3.2 -3.2zM493.7 117.6l3.2 3.2l-3.2 3.2l-3.2 -3.2zM494.0 133.7l3.2 3.2l-3.2 3.2l-3.2 -3.2zM494.3 135.8l3.2 3.2l-3.2 3.2l-3.2 -3.2zM494.7 121.2l3.2 3.2l-3.2 3.2l-3.2 -3.2zM495.1 125.2l3.2 3.2l-3.2 3.2l-3.2 -3.2zM495.4 119.7l3.2 3.2l-3.2 3.2l-3.2 -3.2zM495.9 109.1l3.2 3.2l-3.2 3.2l-3.2 -3.2zM496.1 111.2l3.2 3.2l-3.2 3.2l-3.2 -3.2zM496.8 124.3l3.2 3.2l-3.2 3.2l-3.2 -3.2zM496.9 117.7l3.2 3.2l-3.2 3.2l-3.2 -3.2zM497.5 135.7l3.2 3.2l-3.2 3.2l-3.2 -3.2zM497.8 120.8l3.2 3.2l-3.2 3.2l-3.2 -3.2zM498.2 127.0l3.2 3.2l-3.2 3.2l-3.2 -3.2zM498.6 112.1l3.2 3.2l-3.2 3.2l-3.2 -3.2zM499.0 138.3l3.2 3.2l-3.2 3.2l-3.2 -3.2zM499.5 115.7l3.2 3.2l-3.2 3.2l-3.2 -3.2zM499.7 108.5l3.2 3.2l-3.2 3.2l-3.2 -3.2zM500.2 112.4l3.2 3.2l-3.2 3.2l-3.2 -3.2zM500.7 127.1l3.2 3.2l-3.2 3.2l-3.2 -3.2zM500.9 120.3l3.2 3.2l-3.2 3.2l-3.2 -3.2zM501.2 125.9l3.2 3.2l-3.2 3.2l-3.2 -3.2zM501.9 133.6l3.2 3.2l-3.2 3.2l-3.2 -3.2zM502.2 128.6l3.2 3.2l-3.2 3.2l-3.2 -3.2zM502.4 127.0l3.2 3.2l-3.2 3.2l-3.2 -3.2zM503.0 117.4l3.2 3.2l-3.2 3.2l-3.2 -3.2zM503.3 124.2l3.2 3.2l-3.2 3.2l-3.2 -3.2zM503.5 135.2l3.2 3.2l-3.2 3.2l-3.2 -3.2zM504.2 125.8l3.2 3.2l-3.2 3.2l-3.2 -3.2zM504.5 122.3l3.2 3.2l-3.2 3.2l-3.2 -3.2zM504.8 117.4l3.2 3.2l-3.2 3.2l-3.2 -3.2zM505.2 123.4l3.2 3.2l-3.2 3.2l-3.2 -3.2zM505.4 112.5l3.2 3.2l-3.2 3.2l-3.2 -3.2zM506.1 121.3l3.2 3.2l-3.2 3.2l-3.2 -3.2zM506.3 138.3l3.2 3.2l-3.2 3.2l-3.2 -3.2zM506.8 120.6l3.2 3.2l-3.2 3.2l-3.2 -3.2zM507.1 126.4l3.2 3.2l-3.2 3.2l-3.2 -3.2zM507.5 125.4l3.2 3.2l-3.2 3.2l-3.2 -3.2zM508.0 113.5l3.2 3.2l-3.2 3.2l-3.2 -3.2zM508.2 122.2l3.2 3.2l-3.2 3.2l-3.2 -3.2zM508.8 117.0l3.2 3.2l-3.2 3.2l-3.2 -3.2zM509.2 141.4l3.2 3.2l-3.2 3.2l-3.2 -3.2zM509.5 125.6l3.2 3.2l-3.2 3.2l-3.2 -3.2zM509.9 134.9l3.2 3.2l-3.2 3.2l-3.2 -3.2zM510.3 132.3l3.2 3.2l-3.2 3.2l-3.2 -3.2zM510.7 145.2l3.2 3.2l-3.2 3.2l-3.2 -3.2zM511.0 117.6l3.2 3.2l-3.2 3.2l-3.2 -3.2zM511.5 127.7l3.2 3.2l-3.2 3.2l-3.2 -3.2zM511.8 129.1l3.2 3.2l-3.2 3.2l-3.2 -3.2zM512.2 135.7l3.2 3.2l-3.2 3.2l-3.2 -3.2zM512.6 118.9l3.2 3.2l-3.2 3.2l-3.2 -3.2zM513.0 131.9l3.2 3.2l-3.2 3.2l-3.2 -3.2zM513.4 119.6l3.2 3.2l-3.2 3.2l-3.2 -3.2zM513.7 115.7l3.2 3.2l-3.2 3.2l-3.2 -3.2zM514.0 127.8l3.2 3.2l-3.2 3.2l-3.2 -3.2zM514.3 118.7l3.2 3.2l-3.2 3.2l-3.2 -3.2zM514.7 129.7l3.2 3.2l-3.2 3.2l-3.2 -3.2zM515.3 110.0l3.2 3.2l-3.2 3.2l-3.2 -3.2zM515.8 140.3l3.2 3.2l-3.2 3.2l-3.2 -3.2zM516.1 127.2l3.2 3.2l-3.2 3.2l-3.2 -3.2zM516.3 116.6l3.2 3.2l-3.2 3.2l-3.2 -3.2zM516.8 126.7l3.2 3.2l-3.2 3.2l-3.2 -3.2zM517.2 128.2l3.2 3.2l-3.2 3.2l-3.2 -3.2zM517.4 118.1l3.2 3.2l-3.2 3.2l-3.2 -3.2zM518.0 120.2l3.2 3.2l-3.2 3.2l-3.2 -3.2zM518.5 116.0l3.2 3.2l-3.2 3.2l-3.2 -3.2zM518.9 112.5l3.2 3.2l-3.2 3.2l-3.2 -3.2zM519.3 132.0l3.2 3.2l-3.2 3.2l-3.2 -3.2zM519.6 135.1l3.2 3.2l-3.2 3.2l-3.2 -3.2zM520.0 116.5l3.2 3.2l-3.2 3.2l-3.2 -3.2zM520.3 132.9l3.2 3.2l-3.2 3.2l-3.2 -3.2zM520.8 131.5l3.2 3.2l-3.2 3.2l-3.2 -3.2zM521.0 125.7l3.2 3.2l-3.2 3.2l-3.2 -3.2zM521.6 125.3l3.2 3.2l-3.2 3.2l-3.2 -3.2zM521.7 125.1l3.2 3.2l-3.2 3.2l-3.2 -3.2zM522.1 105.3l3.2 3.2l-3.2 3.2l-3.2 -3.2zM522.6 130.3l3.2 3.2l-3.2 3.2l-3.2 -3.2zM522.9 118.7l3.2 3.2l-3.2 3.2l-3.2 -3.2zM523.4 115.3l3.2 3.2l-3.2 3.2l-3.2 -3.2zM523.9 107.9l3.2 3.2l-3.2 3.2l-3.2 -3.2zM524.2 127.0l3.2 3.2l-3.2 3.2l-3.2 -3.2zM524.7 124.4l3.2 3.2l-3.2 3.2l-3.2 -3.2zM525.0 120.5l3.2 3.2l-3.2 3.2l-3.2 -3.2zM525.4 133.8l3.2 3.2l-3.2 3.2l-3.2 -3.2zM525.8 120.5l3.2 3.2l-3.2 3.2l-3.2 -3.2zM526.2 109.7l3.2 3.2l-3.2 3.2l-3.2 -3.2zM526.3 119.3l3.2 3.2l-3.2 3.2l-3.2 -3.2zM526.9 119.7l3.2 3.2l-3.2 3.2l-3.2 -3.2zM527.4 116.4l3.2 3.2l-3.2 3.2l-3.2 -3.2zM527.8 125.4l3.2 3.2l-3.2 3.2l-3.2 -3.2zM528.1 123.7l3.2 3.2l-3.2 3.2l-3.2 -3.2zM528.6 125.3l3.2 3.2l-3.2 3.2l-3.2 -3.2zM528.9 145.1l3.2 3.2l-3.2 3.2l-3.2 -3.2zM529.2 141.1l3.2 3.2l-3.2 3.2l-3.2 -3.2zM529.7 125.3l3.2 3.2l-3.2 3.2l-3.2 -3.2zM530.0 115.9l3.2 3.2l-3.2 3.2l-3.2 -3.2zM530.3 115.1l3.2 3.2l-3.2 3.2l-3.2 -3.2zM530.9 116.2l3.2 3.2l-3.2 3.2l-3.2 -3.2zM531.0 125.4l3.2 3.2l-3.2 3.2l-3.2 -3.2zM531.3 131.8l3.2 3.2l-3.2 3.2l-3.2 -3.2zM531.9 141.3l3.2 3.2l-3.2 3.2l-3.2 -3.2zM532.2 118.4l3.2 3.2l-3.2 3.2l-3.2 -3.2zM532.8 123.9l3.2 3.2l-3.2 3.2l-3.2 -3.2zM533.1 129.7l3.2 3.2l-3.2 3.2l-3.2 -3.2zM533.4 124.0l3.2 3.2l-3.2 3.2l-3.2 -3.2zM533.7 126.6l3.2 3.2l-3.2 3.2l-3.2 -3.2zM534.1 125.2l3.2 3.2l-3.2 3.2l-3.2 -3.2zM534.7 121.3l3.2 3.2l-3.2 3.2l-3.2 -3.2zM534.9 122.7l3.2 3.2l-3.2 3.2l-3.2 -3.2zM535.4 122.1l3.2 3.2l-3.2 3.2l-3.2 -3.2zM535.9 132.5l3.2 3.2l-3.2 3.2l-3.2 -3.2zM536.1 124.4l3.2 3.2l-3.2 3.2l-3.2 -3.2zM536.6 120.1l3.2 3.2l-3.2 3.2l-3.2 -3.2zM537.1 120.0l3.2 3.2l-3.2 3.2l-3.2 -3.2zM537.3 123.5l3.2 3.2l-3.2 3.2l-3.2 -3.2zM537.6 117.8l3.2 3.2l-3.2 3.2l-3.2 -3.2zM538.0 129.0l3.2 3.2l-3.2 3.2l-3.2 -3.2zM538.4 126.4l3.2 3.2l-3.2 3.2l-3.2 -3.2zM538.8 129.8l3.2 3.2l-3.2 3.2l-3.2 -3.2zM539.3 113.5l3.2 3.2l-3.2 3.2l-3.2 -3.2zM539.7 123.9l3.2 3.2l-3.2 3.2l-3.2 -3.2zM539.9 120.1l3.2 3.2l-3.2 3.2l-3.2 -3.2zM540.5 134.1l3.2 3.2l-3.2 3.2l-3.2 -3.2zM540.9 123.3l3.2 3.2l-3.2 3.2l-3.2 -3.2zM541.4 132.4l3.2 3.2l-3.2 3.2l-3.2 -3.2zM541.6 122.8l3.2 3.2l-3.2 3.2l-3.2 -3.2zM542.0 138.4l3.2 3.2l-3.2 3.2l-3.2 -3.2zM542.6 126.1l3.2 3.2l-3.2 3.2l-3.2 -3.2zM542.8 113.7l3.2 3.2l-3.2 3.2l-3.2 -3.2zM543.3 107.2l3.2 3.2l-3.2 3.2l-3.2 -3.2zM543.7 118.7l3.2 3.2l-3.2 3.2l-3.2 -3.2zM544.1 123.1l3.2 3.2l-3.2 3.2l-3.2 -3.2zM544.5 120.3l3.2 3.2l-3.2 3.2l-3.2 -3.2zM544.9 114.9l3.2 3.2l-3.2 3.2l-3.2 -3.2zM545.2 116.4l3.2 3.2l-3.2 3.2l-3.2 -3.2zM545.4 138.2l3.2 3.2l-3.2 3.2l-3.2 -3.2zM545.8 125.5l3.2 3.2l-3.2 3.2l-3.2 -3.2zM546.4 121.0l3.2 3.2l-3.2 3.2l-3.2 -3.2zM546.6 109.7l3.2 3.2l-3.2 3.2l-3.2 -3.2zM547.2 116.4l3.2 3.2l-3.2 3.2l-3.2 -3.2zM547.3 132.3l3.2 3.2l-3.2 3.2l-3.2 -3.2zM547.7 129.1l3.2 3.2l-3.2 3.2l-3.2 -3.2zM548.2 126.0l3.2 3.2l-3.2 3.2l-3.2 -3.2zM548.6 125.4l3.2 3.2l-3.2 3.2l-3.2 -3.2zM548.8 121.8l3.2 3.2l-3.2 3.2l-3.2 -3.2zM549.2 132.2l3.2 3.2l-3.2 3.2l-3.2 -3.2zM549.9 124.8l3.2 3.2l-3.2 3.2l-3.2 -3.2zM550.3 121.4l3.2 3.2l-3.2 3.2l-3.2 -3.2zM550.4 122.4l3.2 3.2l-3.2 3.2l-3.2 -3.2zM551.0 119.5l3.2 3.2l-3.2 3.2l-3.2 -3.2zM551.5 122.5l3.2 3.2l-3.2 3.2l-3.2 -3.2zM551.6 128.5l3.2 3.2l-3.2 3.2l-3.2 -3.2zM552.2 123.8l3.2 3.2l-3.2 3.2l-3.2 -3.2zM552.6 117.4l3.2 3.2l-3.2 3.2l-3.2 -3.2zM553.0 147.4l3.2 3.2l-3.2 3.2l-3.2 -3.2zM553.1 116.0l3.2 3.2l-3.2 3.2l-3.2 -3.2zM553.7 128.9l3.2 3.2l-3.2 3.2l-3.2 -3.2zM554.0 123.7l3.2 3.2l-3.2 3.2l-3.2 -3.2zM554.3 124.6l3.2 3.2l-3.2 3.2l-3.2 -3.2zM554.8 131.6l3.2 3.2l-3.2 3.2l-3.2 -3.2zM555.4 112.2l3.2 3.2l-3.2 3.2l-3.2 -3.2zM555.7 116.9l3.2 3.2l-3.2 3.2l-3.2 -3.2zM555.9 128.1l3.2 3.2l-3.2 3.2l-3.2 -3.2zM556.5 107.6l3.2 3.2l-3.2 3.2l-3.2 -3.2zM556.7 119.2l3.2 3.2l-3.2 3.2l-3.2 -3.2zM557.1 121.8l3.2 3.2l-3.2 3.2l-3.2 -3.2zM557.6 142.0l3.2 3.2l-3.2 3.2l-3.2 -3.2zM557.8 116.5l3.2 3.2l-3.2 3.2l-3.2 -3.2zM558.4 137.8l3.2 3.2l-3.2 3.2l-3.2 -3.2zM558.8 113.5l3.2 3.2l-3.2 3.2l-3.2 -3.2zM558.9 139.8l3.2 3.2l-3.2 3.2l-3.2 -3.2zM559.5 127.9l3.2 3.2l-3.2 3.2l-3.2 -3.2zM559.9 124.5l3.2 3.2l-3.2 3.2l-3.2 -3.2zM560.1 128.2l3.2 3.2l-3.2 3.2l-3.2 -3.2zM560.7 124.7l3.2 3.2l-3.2 3.2l-3.2 -3.2zM560.9 113.8l3.2 3.2l-3.2 3.2l-3.2 -3.2zM561.4 126.7l3.2 3.2l-3.2 3.2l-3.2 -3.2zM561.7 133.7l3.2 3.2l-3.2 3.2l-3.2 -3.2zM562.1 120.2l3.2 3.2l-3.2 3.2l-3.2 -3.2zM562.5 116.1l3.2 3.2l-3.2 3.2l-3.2 -3.2zM563.0 127.9l3.2 3.2l-3.2 3.2l-3.2 -3.2zM563.3 120.9l3.2 3.2l-3.2 3.2l-3.2 -3.2zM563.6 118.4l3.2 3.2l-3.2 3.2l-3.2 -3.2zM564.2 132.9l3.2 3.2l-3.2 3.2l-3.2 -3.2zM564.4 120.8l3.2 3.2l-3.2 3.2l-3.2 -3.2zM564.9 112.9l3.2 3.2l-3.2 3.2l-3.2 -3.2zM565.3 118.0l3.2 3.2l-3.2 3.2l-3.2 -3.2zM565.7 119.2l3.2 3.2l-3.2 3.2l-3.2 -3.2zM566.0 125.5l3.2 3.2l-3.2 3.2l-3.2 -3.2zM566.4 110.3l3.2 3.2l-3.2 3.2l-3.2 -3.2zM567.0 123.5l3.2 3.2l-3.2 3.2l-3.2 -3.2zM567.1 124.2l3.2 3.2l-3.2 3.2l-3.2 -3.2zM567.7 135.8l3.2 3.2l-3.2 3.2l-3.2 -3.2zM567.8 131.3l3.2 3.2l-3.2 3.2l-3.2 -3.2zM568.3 121.4l3.2 3.2l-3.2 3.2l-3.2 -3.2zM568.7 121.4l3.2 3.2l-3.2 3.2l-3.2 -3.2zM569.4 121.5l3.2 3.2l-3.2 3.2l-3.2 -3.2zM569.7 113.5l3.2 3.2l-3.2 3.2l-3.2 -3.2zM570.0 126.1l3.2 3.2l-3.2 3.2l-3.2 -3.2zM570.3 114.7l3.2 3.2l-3.2 3.2l-3.2 -3.2zM570.8 123.8l3.2 3.2l-3.2 3.2l-3.2 -3.2zM571.0 108.2l3.2 3.2l-3.2 3.2l-3.2 -3.2zM571.5 119.9l3.2 3.2l-3.2 3.2l-3.2 -3.2zM571.7 129.1l3.2 3.2l-3.2 3.2l-3.2 -3.2zM572.4 128.4l3.2 3.2l-3.2 3.2l-3.2 -3.2zM572.5 129.7l3.2 3.2l-3.2 3.2l-3.2 -3.2zM573.1 120.1l3.2 3.2l-3.2 3.2l-3.2 -3.2zM573.6 120.1l3.2 3.2l-3.2 3.2l-3.2 -3.2zM574.0 122.8l3.2 3.2l-3.2 3.2l-3.2 -3.2zM574.3 105.6l3.2 3.2l-3.2 3.2l-3.2 -3.2zM574.4 121.8l3.2 3.2l-3.2 3.2l-3.2 -3.2zM574.8 129.7l3.2 3.2l-3.2 3.2l-3.2 -3.2zM575.4 115.2l3.2 3.2l-3.2 3.2l-3.2 -3.2zM575.8 117.9l3.2 3.2l-3.2 3.2l-3.2 -3.2zM576.0 121.9l3.2 3.2l-3.2 3.2l-3.2 -3.2zM576.4 127.4l3.2 3.2l-3.2 3.2l-3.2 -3.2zM577.0 107.3l3.2 3.2l-3.2 3.2l-3.2 -3.2zM577.4 123.8l3.2 3.2l-3.2 3.2l-3.2 -3.2zM577.8 106.8l3.2 3.2l-3.2 3.2l-3.2 -3.2zM577.9 141.8l3.2 3.2l-3.2 3.2l-3.2 -3.2zM578.4 133.6l3.2 3.2l-3.2 3.2l-3.2 -3.2zM578.8 113.3l3.2 3.2l-3.2 3.2l-3.2 -3.2zM579.4 123.6l3.2 3.2l-3.2 3.2l-3.2 -3.2zM579.5 107.6l3.2 3.2l-3.2 3.2l-3.2 -3.2zM580.1 112.7l3.2 3.2l-3.2 3.2l-3.2 -3.2zM580.4 107.7l3.2 3.2l-3.2 3.2l-3.2 -3.2zM581.0 121.6l3.2 3.2l-3.2 3.2l-3.2 -3.2zM581.2 116.4l3.2 3.2l-3.2 3.2l-3.2 -3.2zM581.4 116.6l3.2 3.2l-3.2 3.2l-3.2 -3.2zM582.1 117.1l3.2 3.2l-3.2 3.2l-3.2 -3.2zM582.3 127.3l3.2 3.2l-3.2 3.2l-3.2 -3.2zM582.7 105.3l3.2 3.2l-3.2 3.2l-3.2 -3.2zM583.2 123.8l3.2 3.2l-3.2 3.2l-3.2 -3.2zM583.5 132.0l3.2 3.2l-3.2 3.2l-3.2 -3.2zM584.0 117.2l3.2 3.2l-3.2 3.2l-3.2 -3.2zM584.3 122.5l3.2 3.2l-3.2 3.2l-3.2 -3.2zM584.7 112.6l3.2 3.2l-3.2 3.2l-3.2 -3.2zM585.2 121.2l3.2 3.2l-3.2 3.2l-3.2 -3.2zM585.5 116.9l3.2 3.2l-3.2 3.2l-3.2 -3.2zM585.8 113.3l3.2 3.2l-3.2 3.2l-3.2 -3.2zM586.2 118.4l3.2 3.2l-3.2 3.2l-3.2 -3.2zM586.4 113.6l3.2 3.2l-3.2 3.2l-3.2 -3.2zM586.9 125.6l3.2 3.2l-3.2 3.2l-3.2 -3.2zM587.3 123.8l3.2 3.2l-3.2 3.2l-3.2 -3.2zM587.7 116.7l3.2 3.2l-3.2 3.2l-3.2 -3.2zM588.1 124.5l3.2 3.2l-3.2 3.2l-3.2 -3.2zM588.5 120.9l3.2 3.2l-3.2 3.2l-3.2 -3.2zM588.9 130.0l3.2 3.2l-3.2 3.2l-3.2 -3.2zM589.4 124.3l3.2 3.2l-3.2 3.2l-3.2 -3.2zM589.7 123.4l3.2 3.2l-3.2 3.2l-3.2 -3.2zM590.3 116.7l3.2 3.2l-3.2 3.2l-3.2 -3.2zM590.7 116.1l3.2 3.2l-3.2 3.2l-3.2 -3.2zM590.9 131.1l3.2 3.2l-3.2 3.2l-3.2 -3.2zM591.1 106.6l3.2 3.2l-3.2 3.2l-3.2 -3.2zM591.5 125.2l3.2 3.2l-3.2 3.2l-3.2 -3.2zM592.2 113.6l3.2 3.2l-3.2 3.2l-3.2 -3.2zM592.3 135.0l3.2 3.2l-3.2 3.2l-3.2 -3.2zM592.8 117.8l3.2 3.2l-3.2 3.2l-3.2 -3.2zM593.3 112.5l3.2 3.2l-3.2 3.2l-3.2 -3.2zM593.5 120.5l3.2 3.2l-3.2 3.2l-3.2 -3.2zM594.1 127.7l3.2 3.2l-3.2 3.2l-3.2 -3.2zM594.2 129.2l3.2 3.2l-3.2 3.2l-3.2 -3.2zM594.6 122.0l3.2 3.2l-3.2 3.2l-3.2 -3.2zM595.1 125.5l3.2 3.2l-3.2 3.2l-3.2 -3.2zM595.5 133.3l3.2 3.2l-3.2 3.2l-3.2 -3.2zM595.8 124.0l3.2 3.2l-3.2 3.2l-3.2 -3.2zM596.2 114.5l3.2 3.2l-3.2 3.2l-3.2 -3.2zM596.5 120.6l3.2 3.2l-3.2 3.2l-3.2 -3.2zM597.2 129.7l3.2 3.2l-3.2 3.2l-3.2 -3.2zM597.5 121.6l3.2 3.2l-3.2 3.2l-3.2 -3.2zM597.9 122.9l3.2 3.2l-3.2 3.2l-3.2 -3.2zM598.1 134.6l3.2 3.2l-3.2 3.2l-3.2 -3.2zM598.5 120.0l3.2 3.2l-3.2 3.2l-3.2 -3.2zM598.9 123.6l3.2 3.2l-3.2 3.2l-3.2 -3.2zM599.6 123.9l3.2 3.2l-3.2 3.2l-3.2 -3.2zM600.0 114.3l3.2 3.2l-3.2 3.2l-3.2 -3.2zM600.1 127.8l3.2 3.2l-3.2 3.2l-3.2 -3.2zM600.7 116.1l3.2 3.2l-3.2 3.2l-3.2 -3.2zM600.9 126.4l3.2 3.2l-3.2 3.2l-3.2 -3.2zM601.3 119.1l3.2 3.2l-3.2 3.2l-3.2 -3.2zM601.7 126.6l3.2 3.2l-3.2 3.2l-3.2 -3.2zM602.0 117.9l3.2 3.2l-3.2 3.2l-3.2 -3.2zM602.3 125.9l3.2 3.2l-3.2 3.2l-3.2 -3.2zM602.8 130.0l3.2 3.2l-3.2 3.2l-3.2 -3.2zM603.3 126.4l3.2 3.2l-3.2 3.2l-3.2 -3.2zM603.8 113.5l3.2 3.2l-3.2 3.2l-3.2 -3.2zM604.0 109.7l3.2 3.2l-3.2 3.2l-3.2 -3.2zM604.4 116.9l3.2 3.2l-3.2 3.2l-3.2 -3.2zM604.6 126.4l3.2 3.2l-3.2 3.2l-3.2 -3.2zM605.1 125.6l3.2 3.2l-3.2 3.2l-3.2 -3.2zM605.6 121.5l3.2 3.2l-3.2 3.2l-3.2 -3.2zM605.9 123.0l3.2 3.2l-3.2 3.2l-3.2 -3.2zM606.4 120.2l3.2 3.2l-3.2 3.2l-3.2 -3.2zM606.9 117.7l3.2 3.2l-3.2 3.2l-3.2 -3.2zM607.3 124.0l3.2 3.2l-3.2 3.2l-3.2 -3.2zM607.4 138.5l3.2 3.2l-3.2 3.2l-3.2 -3.2zM608.1 115.0l3.2 3.2l-3.2 3.2l-3.2 -3.2zM608.5 113.7l3.2 3.2l-3.2 3.2l-3.2 -3.2zM608.7 132.5l3.2 3.2l-3.2 3.2l-3.2 -3.2zM609.1 109.2l3.2 3.2l-3.2 3.2l-3.2 -3.2zM609.4 135.6l3.2 3.2l-3.2 3.2l-3.2 -3.2zM609.9 125.8l3.2 3.2l-3.2 3.2l-3.2 -3.2zM610.4 124.2l3.2 3.2l-3.2 3.2l-3.2 -3.2zM610.6 142.4l3.2 3.2l-3.2 3.2l-3.2 -3.2zM611.1 129.5l3.2 3.2l-3.2 3.2l-3.2 -3.2zM611.4 132.7l3.2 3.2l-3.2 3.2l-3.2 -3.2zM611.9 121.7l3.2 3.2l-3.2 3.2l-3.2 -3.2zM612.4 130.4l3.2 3.2l-3.2 3.2l-3.2 -3.2zM612.6 109.0l3.2 3.2l-3.2 3.2l-3.2 -3.2zM613.1 118.2l3.2 3.2l-3.2 3.2l-3.2 -3.2zM613.2 125.0l3.2 3.2l-3.2 3.2l-3.2 -3.2zM613.6 112.1l3.2 3.2l-3.2 3.2l-3.2 -3.2zM614.1 141.1l3.2 3.2l-3.2 3.2l-3.2 -3.2zM614.7 121.7l3.2 3.2l-3.2 3.2l-3.2 -3.2zM614.9 116.5l3.2 3.2l-3.2 3.2l-3.2 -3.2zM615.4 115.6l3.2 3.2l-3.2 3.2l-3.2 -3.2zM615.7 106.4l3.2 3.2l-3.2 3.2l-3.2 -3.2zM616.1 143.2l3.2 3.2l-3.2 3.2l-3.2 -3.2zM616.3 124.5l3.2 3.2l-3.2 3.2l-3.2 -3.2zM616.8 118.9l3.2 3.2l-3.2 3.2l-3.2 -3.2zM617.2 125.3l3.2 3.2l-3.2 3.2l-3.2 -3.2zM617.6 132.9l3.2 3.2l-3.2 3.2l-3.2 -3.2zM618.0 114.5l3.2 3.2l-3.2 3.2l-3.2 -3.2zM618.2 111.0l3.2 3.2l-3.2 3.2l-3.2 -3.2zM618.7 129.2l3.2 3.2l-3.2 3.2l-3.2 -3.2zM619.2 128.5l3.2 3.2l-3.2 3.2l-3.2 -3.2zM619.7 140.1l3.2 3.2l-3.2 3.2l-3.2 -3.2zM619.8 124.3l3.2 3.2l-3.2 3.2l-3.2 -3.2zM620.4 138.9l3.2 3.2l-3.2 3.2l-3.2 -3.2zM620.8 130.2l3.2 3.2l-3.2 3.2l-3.2 -3.2zM621.1 125.5l3.2 3.2l-3.2 3.2l-3.2 -3.2zM621.6 141.9l3.2 3.2l-3.2 3.2l-3.2 -3.2zM621.7 119.0l3.2 3.2l-3.2 3.2l-3.2 -3.2zM622.1 119.0l3.2 3.2l-3.2 3.2l-3.2 -3.2zM622.7 117.5l3.2 3.2l-3.2 3.2l-3.2 -3.2zM623.1 114.3l3.2 3.2l-3.2 3.2l-3.2 -3.2zM623.6 120.3l3.2 3.2l-3.2 3.2l-3.2 -3.2zM623.8 119.2l3.2 3.2l-3.2 3.2l-3.2 -3.2zM624.1 127.1l3.2 3.2l-3.2 3.2l-3.2 -3.2zM624.5 121.6l3.2 3.2l-3.2 3.2l-3.2 -3.2zM624.9 121.3l3.2 3.2l-3.2 3.2l-3.2 -3.2zM625.5 128.0l3.2 3.2l-3.2 3.2l-3.2 -3.2zM625.9 115.9l3.2 3.2l-3.2 3.2l-3.2 -3.2zM626.3 115.0l3.2 3.2l-3.2 3.2l-3.2 -3.2zM626.6 112.1l3.2 3.2l-3.2 3.2l-3.2 -3.2zM626.9 119.2l3.2 3.2l-3.2 3.2l-3.2 -3.2zM627.2 129.2l3.2 3.2l-3.2 3.2l-3.2 -3.2zM627.7 116.8l3.2 3.2l-3.2 3.2l-3.2 -3.2zM627.9 121.3l3.2 3.2l-3.2 3.2l-3.2 -3.2zM628.3 124.1l3.2 3.2l-3.2 3.2l-3.2 -3.2zM628.9 128.2l3.2 3.2l-3.2 3.2l-3.2 -3.2zM629.4 109.5l3.2 3.2l-3.2 3.2l-3.2 -3.2zM629.6 119.9l3.2 3.2l-3.2 3.2l-3.2 -3.2zM629.9 122.5l3.2 3.2l-3.2 3.2l-3.2 -3.2zM630.3 106.6l3.2 3.2l-3.2 3.2l-3.2 -3.2zM630.7 116.7l3.2 3.2l-3.2 3.2l-3.2 -3.2zM631.1 109.3l3.2 3.2l-3.2 3.2l-3.2 -3.2zM631.5 113.8l3.2 3.2l-3.2 3.2l-3.2 -3.2zM632.1 130.7l3.2 3.2l-3.2 3.2l-3.2 -3.2zM632.2 107.5l3.2 3.2l-3.2 3.2l-3.2 -3.2zM632.6 137.9l3.2 3.2l-3.2 3.2l-3.2 -3.2zM633.0 125.8l3.2 3.2l-3.2 3.2l-3.2 -3.2zM633.5 109.9l3.2 3.2l-3.2 3.2l-3.2 -3.2zM633.9 135.4l3.2 3.2l-3.2 3.2l-3.2 -3.2zM634.2 128.0l3.2 3.2l-3.2 3.2l-3.2 -3.2zM634.7 132.8l3.2 3.2l-3.2 3.2l-3.2 -3.2zM635.0 118.0l3.2 3.2l-3.2 3.2l-3.2 -3.2zM635.4 119.9l3.2 3.2l-3.2 3.2l-3.2 -3.2zM635.9 135.7l3.2 3.2l-3.2 3.2l-3.2 -3.2zM636.1 132.3l3.2 3.2l-3.2 3.2l-3.2 -3.2zM636.5 123.1l3.2 3.2l-3.2 3.2l-3.2 -3.2zM637.1 128.8l3.2 3.2l-3.2 3.2l-3.2 -3.2zM637.4 132.3l3.2 3.2l-3.2 3.2l-3.2 -3.2zM638.0 119.6l3.2 3.2l-3.2 3.2l-3.2 -3.2zM638.1 129.5l3.2 3.2l-3.2 3.2l-3.2 -3.2zM638.6 123.8l3.2 3.2l-3.2 3.2l-3.2 -3.2zM639.0 131.4l3.2 3.2l-3.2 3.2l-3.2 -3.2zM639.4 141.9l3.2 3.2l-3.2 3.2l-3.2 -3.2zM639.6 133.7l3.2 3.2l-3.2 3.2l-3.2 -3.2zM640.0 116.3l3.2 3.2l-3.2 3.2l-3.2 -3.2zM640.6 124.8l3.2 3.2l-3.2 3.2l-3.2 -3.2zM640.8 124.8l3.2 3.2l-3.2 3.2l-3.2 -3.2zM641.1 124.0l3.2 3.2l-3.2 3.2l-3.2 -3.2zM641.7 130.3l3.2 3.2l-3.2 3.2l-3.2 -3.2zM641.9 124.7l3.2 3.2l-3.2 3.2l-3.2 -3.2zM642.3 126.8l3.2 3.2l-3.2 3.2l-3.2 -3.2zM643.0 127.4l3.2 3.2l-3.2 3.2l-3.2 -3.2zM643.0 127.6l3.2 3.2l-3.2 3.2l-3.2 -3.2zM643.6 110.3l3.2 3.2l-3.2 3.2l-3.2 -3.2zM644.1 135.4l3.2 3.2l-3.2 3.2l-3.2 -3.2zM644.4 142.6l3.2 3.2l-3.2 3.2l-3.2 -3.2zM644.9 131.8l3.2 3.2l-3.2 3.2l-3.2 -3.2zM645.3 110.2l3.2 3.2l-3.2 3.2l-3.2 -3.2zM645.5 132.5l3.2 3.2l-3.2 3.2l-3.2 -3.2zM646.0 127.4l3.2 3.2l-3.2 3.2l-3.2 -3.2zM646.3 115.0l3.2 3.2l-3.2 3.2l-3.2 -3.2zM646.5 126.3l3.2 3.2l-3.2 3.2l-3.2 -3.2zM647.3 113.6l3.2 3.2l-3.2 3.2l-3.2 -3.2zM647.5 119.7l3.2 3.2l-3.2 3.2l-3.2 -3.2zM648.0 112.8l3.2 3.2l-3.2 3.2l-3.2 -3.2zM648.4 126.4l3.2 3.2l-3.2 3.2l-3.2 -3.2zM648.5 130.4l3.2 3.2l-3.2 3.2l-3.2 -3.2zM649.0 112.0l3.2 3.2l-3.2 3.2l-3.2 -3.2zM649.3 115.7l3.2 3.2l-3.2 3.2l-3.2 -3.2zM649.6 122.6l3.2 3.2l-3.2 3.2l-3.2 -3.2zM650.3 122.6l3.2 3.2l-3.2 3.2l-3.2 -3.2zM650.7 105.3l3.2 3.2l-3.2 3.2l-3.2 -3.2zM650.9 134.5l3.2 3.2l-3.2 3.2l-3.2 -3.2zM651.3 108.8l3.2 3.2l-3.2 3.2l-3.2 -3.2zM651.6 125.6l3.2 3.2l-3.2 3.2l-3.2 -3.2zM652.0 124.2l3.2 3.2l-3.2 3.2l-3.2 -3.2zM652.6 122.1l3.2 3.2l-3.2 3.2l-3.2 -3.2zM652.9 141.0l3.2 3.2l-3.2 3.2l-3.2 -3.2zM653.3 118.1l3.2 3.2l-3.2 3.2l-3.2 -3.2zM653.7 120.4l3.2 3.2l-3.2 3.2l-3.2 -3.2zM653.9 115.8l3.2 3.2l-3.2 3.2l-3.2 -3.2zM654.7 106.4l3.2 3.2l-3.2 3.2l-3.2 -3.2zM654.9 118.2l3.2 3.2l-3.2 3.2l-3.2 -3.2zM655.1 128.3l3.2 3.2l-3.2 3.2l-3.2 -3.2zM655.8 127.0l3.2 3.2l-3.2 3.2l-3.2 -3.2zM656.1 120.1l3.2 3.2l-3.2 3.2l-3.2 -3.2zM656.6 132.8l3.2 3.2l-3.2 3.2l-3.2 -3.2zM656.8 118.1l3.2 3.2l-3.2 3.2l-3.2 -3.2zM657.1 133.4l3.2 3.2l-3.2 3.2l-3.2 -3.2zM657.6 133.2l3.2 3.2l-3.2 3.2l-3.2 -3.2zM657.8 127.8l3.2 3.2l-3.2 3.2l-3.2 -3.2zM658.2 123.2l3.2 3.2l-3.2 3.2l-3.2 -3.2zM658.6 111.5l3.2 3.2l-3.2 3.2l-3.2 -3.2zM659.1 129.6l3.2 3.2l-3.2 3.2l-3.2 -3.2zM659.4 117.0l3.2 3.2l-3.2 3.2l-3.2 -3.2zM659.9 133.2l3.2 3.2l-3.2 3.2l-3.2 -3.2zM660.3 114.8l3.2 3.2l-3.2 3.2l-3.2 -3.2zM660.7 109.5l3.2 3.2l-3.2 3.2l-3.2 -3.2zM661.0 140.5l3.2 3.2l-3.2 3.2l-3.2 -3.2zM661.3 105.8l3.2 3.2l-3.2 3.2l-3.2 -3.2zM661.9 124.1l3.2 3.2l-3.2 3.2l-3.2 -3.2zM662.3 139.8l3.2 3.2l-3.2 3.2l-3.2 -3.2zM662.8 123.0l3.2 3.2l-3.2 3.2l-3.2 -3.2zM662.9 125.0l3.2 3.2l-3.2 3.2l-3.2 -3.2zM663.2 129.1l3.2 3.2l-3.2 3.2l-3.2 -3.2zM663.6 108.2l3.2 3.2l-3.2 3.2l-3.2 -3.2zM664.1 122.6l3.2 3.2l-3.2 3.2l-3.2 -3.2zM664.6 116.0l3.2 3.2l-3.2 3.2l-3.2 -3.2zM665.1 106.4l3.2 3.2l-3.2 3.2l-3.2 -3.2zM665.4 119.6l3.2 3.2l-3.2 3.2l-3.2 -3.2zM665.6 122.9l3.2 3.2l-3.2 3.2l-3.2 -3.2zM666.0 137.6l3.2 3.2l-3.2 3.2l-3.2 -3.2zM666.3 118.9l3.2 3.2l-3.2 3.2l-3.2 -3.2zM666.8 111.0l3.2 3.2l-3.2 3.2l-3.2 -3.2zM667.4 129.1l3.2 3.2l-3.2 3.2l-3.2 -3.2zM667.6 119.7l3.2 3.2l-3.2 3.2l-3.2 -3.2zM668.2 113.5l3.2 3.2l-3.2 3.2l-3.2 -3.2zM668.4 124.1l3.2 3.2l-3.2 3.2l-3.2 -3.2zM668.9 110.3l3.2 3.2l-3.2 3.2l-3.2 -3.2zM669.3 114.8l3.2 3.2l-3.2 3.2l-3.2 -3.2zM669.6 129.4l3.2 3.2l-3.2 3.2l-3.2 -3.2zM670.1 115.3l3.2 3.2l-3.2 3.2l-3.2 -3.2zM670.4 117.9l3.2 3.2l-3.2 3.2l-3.2 -3.2zM670.8 116.7l3.2 3.2l-3.2 3.2l-3.2 -3.2zM671.0 128.5l3.2 3.2l-3.2 3.2l-3.2 -3.2zM671.4 125.1l3.2 3.2l-3.2 3.2l-3.2 -3.2zM671.9 126.2l3.2 3.2l-3.2 3.2l-3.2 -3.2zM672.5 105.8l3.2 3.2l-3.2 3.2l-3.2 -3.2zM672.8 135.0l3.2 3.2l-3.2 3.2l-3.2 -3.2zM673.2 109.0l3.2 3.2l-3.2 3.2l-3.2 -3.2zM673.6 123.4l3.2 3.2l-3.2 3.2l-3.2 -3.2zM674.0 123.1l3.2 3.2l-3.2 3.2l-3.2 -3.2zM674.2 109.5l3.2 3.2l-3.2 3.2l-3.2 -3.2zM674.8 114.4l3.2 3.2l-3.2 3.2l-3.2 -3.2zM675.1 121.5l3.2 3.2l-3.2 3.2l-3.2 -3.2zM675.5 137.0l3.2 3.2l-3.2 3.2l-3.2 -3.2zM675.6 132.3l3.2 3.2l-3.2 3.2l-3.2 -3.2zM676.1 133.8l3.2 3.2l-3.2 3.2l-3.2 -3.2zM676.7 106.3l3.2 3.2l-3.2 3.2l-3.2 -3.2zM677.1 113.2l3.2 3.2l-3.2 3.2l-3.2 -3.2zM677.3 125.6l3.2 3.2l-3.2 3.2l-3.2 -3.2zM677.7 124.7l3.2 3.2l-3.2 3.2l-3.2 -3.2zM678.1 131.8l3.2 3.2l-3.2 3.2l-3.2 -3.2zM678.3 119.7l3.2 3.2l-3.2 3.2l-3.2 -3.2zM678.9 121.3l3.2 3.2l-3.2 3.2l-3.2 -3.2zM679.1 127.0l3.2 3.2l-3.2 3.2l-3.2 -3.2zM679.8 132.4l3.2 3.2l-3.2 3.2l-3.2 -3.2zM680.3 124.5l3.2 3.2l-3.2 3.2l-3.2 -3.2zM680.4 105.3l3.2 3.2l-3.2 3.2l-3.2 -3.2zM680.8 115.5l3.2 3.2l-3.2 3.2l-3.2 -3.2zM681.4 137.3l3.2 3.2l-3.2 3.2l-3.2 -3.2zM681.7 124.0l3.2 3.2l-3.2 3.2l-3.2 -3.2zM682.2 131.4l3.2 3.2l-3.2 3.2l-3.2 -3.2zM682.4 118.7l3.2 3.2l-3.2 3.2l-3.2 -3.2zM682.7 129.7l3.2 3.2l-3.2 3.2l-3.2 -3.2zM683.3 141.0l3.2 3.2l-3.2 3.2l-3.2 -3.2zM683.7 116.0l3.2 3.2l-3.2 3.2l-3.2 -3.2zM683.8 137.7l3.2 3.2l-3.2 3.2l-3.2 -3.2zM684.3 121.0l3.2 3.2l-3.2 3.2l-3.2 -3.2zM684.9 132.3l3.2 3.2l-3.2 3.2l-3.2 -3.2zM684.9 138.5l3.2 3.2l-3.2 3.2l-3.2 -3.2zM685.7 122.1l3.2 3.2l-3.2 3.2l-3.2 -3.2zM685.8 135.9l3.2 3.2l-3.2 3.2l-3.2 -3.2zM686.3 119.8l3.2 3.2l-3.2 3.2l-3.2 -3.2zM686.7 126.5l3.2 3.2l-3.2 3.2l-3.2 -3.2zM686.9 140.6l3.2 3.2l-3.2 3.2l-3.2 -3.2zM687.2 127.8l3.2 3.2l-3.2 3.2l-3.2 -3.2zM688.0 127.0l3.2 3.2l-3.2 3.2l-3.2 -3.2zM688.1 136.3l3.2 3.2l-3.2 3.2l-3.2 -3.2zM688.7 125.5l3.2 3.2l-3.2 3.2l-3.2 -3.2zM688.9 127.7l3.2 3.2l-3.2 3.2l-3.2 -3.2zM689.3 124.1l3.2 3.2l-3.2 3.2l-3.2 -3.2zM689.7 127.5l3.2 3.2l-3.2 3.2l-3.2 -3.2zM690.1 123.9l3.2 3.2l-3.2 3.2l-3.2 -3.2zM690.4 124.9l3.2 3.2l-3.2 3.2l-3.2 -3.2zM690.9 125.2l3.2 3.2l-3.2 3.2l-3.2 -3.2zM691.2 131.7l3.2 3.2l-3.2 3.2l-3.2 -3.2zM691.6 142.1l3.2 3.2l-3.2 3.2l-3.2 -3.2zM692.0 134.4l3.2 3.2l-3.2 3.2l-3.2 -3.2zM692.6 135.4l3.2 3.2l-3.2 3.2l-3.2 -3.2zM692.8 134.1l3.2 3.2l-3.2 3.2l-3.2 -3.2zM693.1 128.7l3.2 3.2l-3.2 3.2l-3.2 -3.2zM693.5 121.4l3.2 3.2l-3.2 3.2l-3.2 -3.2zM694.0 128.8l3.2 3.2l-3.2 3.2l-3.2 -3.2zM694.5 125.8l3.2 3.2l-3.2 3.2l-3.2 -3.2zM694.9 123.5l3.2 3.2l-3.2 3.2l-3.2 -3.2zM695.1 121.4l3.2 3.2l-3.2 3.2l-3.2 -3.2zM695.7 125.6l3.2 3.2l-3.2 3.2l-3.2 -3.2zM696.0 123.6l3.2 3.2l-3.2 3.2l-3.2 -3.2zM696.2 129.5l3.2 3.2l-3.2 3.2l-3.2 -3.2zM696.6 142.2l3.2 3.2l-3.2 3.2l-3.2 -3.2zM697.1 111.9l3.2 3.2l-3.2 3.2l-3.2 -3.2zM697.3 136.4l3.2 3.2l-3.2 3.2l-3.2 -3.2zM697.8 126.2l3.2 3.2l-3.2 3.2l-3.2 -3.2zM698.3 131.2l3.2 3.2l-3.2 3.2l-3.2 -3.2zM698.6 126.6l3.2 3.2l-3.2 3.2l-3.2 -3.2zM699.1 136.6l3.2 3.2l-3.2 3.2l-3.2 -3.2zM699.4 117.1l3.2 3.2l-3.2 3.2l-3.2 -3.2zM699.9 134.9l3.2 3.2l-3.2 3.2l-3.2 -3.2zM700.4 130.5l3.2 3.2l-3.2 3.2l-3.2 -3.2zM700.6 124.0l3.2 3.2l-3.2 3.2l-3.2 -3.2zM701.1 117.4l3.2 3.2l-3.2 3.2l-3.2 -3.2zM701.3 132.7l3.2 3.2l-3.2 3.2l-3.2 -3.2zM701.9 136.2l3.2 3.2l-3.2 3.2l-3.2 -3.2zM702.2 130.6l3.2 3.2l-3.2 3.2l-3.2 -3.2zM702.5 112.9l3.2 3.2l-3.2 3.2l-3.2 -3.2zM703.0 131.8l3.2 3.2l-3.2 3.2l-3.2 -3.2zM703.3 118.1l3.2 3.2l-3.2 3.2l-3.2 -3.2zM703.7 122.8l3.2 3.2l-3.2 3.2l-3.2 -3.2zM704.1 130.9l3.2 3.2l-3.2 3.2l-3.2 -3.2zM704.6 128.8l3.2 3.2l-3.2 3.2l-3.2 -3.2zM704.8 138.9l3.2 3.2l-3.2 3.2l-3.2 -3.2zM705.2 142.8l3.2 3.2l-3.2 3.2l-3.2 -3.2zM705.5 122.2l3.2 3.2l-3.2 3.2l-3.2 -3.2zM706.0 123.7l3.2 3.2l-3.2 3.2l-3.2 -3.2zM706.3 136.3l3.2 3.2l-3.2 3.2l-3.2 -3.2zM706.9 119.9l3.2 3.2l-3.2 3.2l-3.2 -3.2zM707.1 140.0l3.2 3.2l-3.2 3.2l-3.2 -3.2z" fill="#fcdcdd" stroke="#ef5860" stroke-width="0.6"/>
<path d="M431.6 92.9l2.9 2.9l-2.9 2.9l-2.9 -2.9zM432.5 99.5l2.9 2.9l-2.9 2.9l-2.9 -2.9zM456.8 94.7l2.9 2.9l-2.9 2.9l-2.9 -2.9zM459.2 101.3l2.9 2.9l-2.9 2.9l-2.9 -2.9zM506.2 93.5l2.9 2.9l-2.9 2.9l-2.9 -2.9zM520.5 96.0l2.9 2.9l-2.9 2.9l-2.9 -2.9zM534.1 92.5l2.9 2.9l-2.9 2.9l-2.9 -2.9zM537.4 89.9l2.9 2.9l-2.9 2.9l-2.9 -2.9zM539.3 101.7l2.9 2.9l-2.9 2.9l-2.9 -2.9zM575.5 101.0l2.9 2.9l-2.9 2.9l-2.9 -2.9zM590.4 102.1l2.9 2.9l-2.9 2.9l-2.9 -2.9zM627.4 87.7l2.9 2.9l-2.9 2.9l-2.9 -2.9zM620.1 97.9l2.9 2.9l-2.9 2.9l-2.9 -2.9zM619.0 99.9l2.9 2.9l-2.9 2.9l-2.9 -2.9zM625.9 101.5l2.9 2.9l-2.9 2.9l-2.9 -2.9zM634.6 99.3l2.9 2.9l-2.9 2.9l-2.9 -2.9zM646.9 98.4l2.9 2.9l-2.9 2.9l-2.9 -2.9zM650.2 101.5l2.9 2.9l-2.9 2.9l-2.9 -2.9zM676.6 99.3l2.9 2.9l-2.9 2.9l-2.9 -2.9zM680.2 95.0l2.9 2.9l-2.9 2.9l-2.9 -2.9zM470.2 176.6l2.9 2.9l-2.9 2.9l-2.9 -2.9zM501.3 155.6l2.9 2.9l-2.9 2.9l-2.9 -2.9zM518.7 155.6l2.9 2.9l-2.9 2.9l-2.9 -2.9zM472.4 247.0l2.9 2.9l-2.9 2.9l-2.9 -2.9zM475.9 242.1l2.9 2.9l-2.9 2.9l-2.9 -2.9zM484.9 235.8l2.9 2.9l-2.9 2.9l-2.9 -2.9zM578.1 154.0l2.9 2.9l-2.9 2.9l-2.9 -2.9zM590.9 157.0l2.9 2.9l-2.9 2.9l-2.9 -2.9zM599.6 154.0l2.9 2.9l-2.9 2.9l-2.9 -2.9zM603.2 163.6l2.9 2.9l-2.9 2.9l-2.9 -2.9zM610.8 158.1l2.9 2.9l-2.9 2.9l-2.9 -2.9zM626.4 154.3l2.9 2.9l-2.9 2.9l-2.9 -2.9zM643.5 156.2l2.9 2.9l-2.9 2.9l-2.9 -2.9zM575.9 175.8l2.9 2.9l-2.9 2.9l-2.9 -2.9zM574.0 195.7l2.9 2.9l-2.9 2.9l-2.9 -2.9zM621.5 222.5l2.9 2.9l-2.9 2.9l-2.9 -2.9z" fill="#0d0202" stroke="#8a1c22" stroke-width="0.8"/>
<path d="M427.7 62.4V253.4H714.9" fill="none" stroke="#666" stroke-width="1"/>
<text x="418.0" y="257.4" class="tl" text-anchor="end">0.0</text>
<text x="418.0" y="231.2" class="tl" text-anchor="end">5.0</text>
<text x="418.0" y="203.3" class="tl" text-anchor="end">10.0</text>
<text x="418.0" y="175.8" class="tl" text-anchor="end">15.0</text>
<text x="418.0" y="148.5" class="tl" text-anchor="end">20.0</text>
<text x="418.0" y="121.0" class="tl" text-anchor="end">25.0</text>
<text x="418.0" y="93.8" class="tl" text-anchor="end">30.0</text>
<text x="418.0" y="65.3" class="tl" text-anchor="end">35.0</text>
<path d="M420.7 253.4H427.7M420.7 226.1H427.7M420.7 198.8H427.7M420.7 171.5H427.7M420.7 144.3H427.7M420.7 117.0H427.7M420.7 89.7H427.7M420.7 62.4H427.7M427.9 253.4V261.4M468.9 253.4V261.4M509.9 253.4V261.4M550.9 253.4V261.4M591.9 253.4V261.4M632.9 253.4V261.4M673.9 253.4V261.4M714.9 253.4V261.4" stroke="#111" stroke-width="1" fill="none"/>
<text transform="translate(731.2,127.3) rotate(-90)" class="qc" text-anchor="middle">High QC</text>
<rect x="427.7" y="311.6" width="285.9" height="54.4" fill="#f2f3f3"/>
<path d="M707.95 310.75h1.70v1.70h-1.70zM702.17 310.75h1.70v1.70h-1.70zM696.39 310.75h1.70v1.70h-1.70zM690.61 310.75h1.70v1.70h-1.70zM684.83 310.75h1.70v1.70h-1.70zM679.05 310.75h1.70v1.70h-1.70zM673.27 310.75h1.70v1.70h-1.70zM667.49 310.75h1.70v1.70h-1.70zM661.71 310.75h1.70v1.70h-1.70zM655.93 310.75h1.70v1.70h-1.70zM650.15 310.75h1.70v1.70h-1.70zM644.37 310.75h1.70v1.70h-1.70zM638.59 310.75h1.70v1.70h-1.70zM632.81 310.75h1.70v1.70h-1.70zM627.03 310.75h1.70v1.70h-1.70zM621.25 310.75h1.70v1.70h-1.70zM615.47 310.75h1.70v1.70h-1.70zM609.69 310.75h1.70v1.70h-1.70zM603.91 310.75h1.70v1.70h-1.70zM598.13 310.75h1.70v1.70h-1.70zM592.35 310.75h1.70v1.70h-1.70zM586.57 310.75h1.70v1.70h-1.70zM580.79 310.75h1.70v1.70h-1.70zM575.01 310.75h1.70v1.70h-1.70zM569.23 310.75h1.70v1.70h-1.70zM563.45 310.75h1.70v1.70h-1.70zM557.67 310.75h1.70v1.70h-1.70zM551.89 310.75h1.70v1.70h-1.70zM546.11 310.75h1.70v1.70h-1.70zM540.33 310.75h1.70v1.70h-1.70zM534.55 310.75h1.70v1.70h-1.70zM528.77 310.75h1.70v1.70h-1.70zM522.99 310.75h1.70v1.70h-1.70zM517.21 310.75h1.70v1.70h-1.70zM511.43 310.75h1.70v1.70h-1.70zM505.65 310.75h1.70v1.70h-1.70zM499.87 310.75h1.70v1.70h-1.70zM494.09 310.75h1.70v1.70h-1.70zM488.31 310.75h1.70v1.70h-1.70zM482.53 310.75h1.70v1.70h-1.70zM476.75 310.75h1.70v1.70h-1.70zM470.97 310.75h1.70v1.70h-1.70zM465.19 310.75h1.70v1.70h-1.70zM459.41 310.75h1.70v1.70h-1.70zM453.63 310.75h1.70v1.70h-1.70zM447.85 310.75h1.70v1.70h-1.70zM442.07 310.75h1.70v1.70h-1.70zM436.29 310.75h1.70v1.70h-1.70zM430.51 310.75h1.70v1.70h-1.70z" fill="#111"/>
<path d="M707.95 365.15h1.70v1.70h-1.70zM702.17 365.15h1.70v1.70h-1.70zM696.39 365.15h1.70v1.70h-1.70zM690.61 365.15h1.70v1.70h-1.70zM684.83 365.15h1.70v1.70h-1.70zM679.05 365.15h1.70v1.70h-1.70zM673.27 365.15h1.70v1.70h-1.70zM667.49 365.15h1.70v1.70h-1.70zM661.71 365.15h1.70v1.70h-1.70zM655.93 365.15h1.70v1.70h-1.70zM650.15 365.15h1.70v1.70h-1.70zM644.37 365.15h1.70v1.70h-1.70zM638.59 365.15h1.70v1.70h-1.70zM632.81 365.15h1.70v1.70h-1.70zM627.03 365.15h1.70v1.70h-1.70zM621.25 365.15h1.70v1.70h-1.70zM615.47 365.15h1.70v1.70h-1.70zM609.69 365.15h1.70v1.70h-1.70zM603.91 365.15h1.70v1.70h-1.70zM598.13 365.15h1.70v1.70h-1.70zM592.35 365.15h1.70v1.70h-1.70zM586.57 365.15h1.70v1.70h-1.70zM580.79 365.15h1.70v1.70h-1.70zM575.01 365.15h1.70v1.70h-1.70zM569.23 365.15h1.70v1.70h-1.70zM563.45 365.15h1.70v1.70h-1.70zM557.67 365.15h1.70v1.70h-1.70zM551.89 365.15h1.70v1.70h-1.70zM546.11 365.15h1.70v1.70h-1.70zM540.33 365.15h1.70v1.70h-1.70zM534.55 365.15h1.70v1.70h-1.70zM528.77 365.15h1.70v1.70h-1.70zM522.99 365.15h1.70v1.70h-1.70zM517.21 365.15h1.70v1.70h-1.70zM511.43 365.15h1.70v1.70h-1.70zM505.65 365.15h1.70v1.70h-1.70zM499.87 365.15h1.70v1.70h-1.70zM494.09 365.15h1.70v1.70h-1.70zM488.31 365.15h1.70v1.70h-1.70zM482.53 365.15h1.70v1.70h-1.70zM476.75 365.15h1.70v1.70h-1.70zM470.97 365.15h1.70v1.70h-1.70zM465.19 365.15h1.70v1.70h-1.70zM459.41 365.15h1.70v1.70h-1.70zM453.63 365.15h1.70v1.70h-1.70zM447.85 365.15h1.70v1.70h-1.70zM442.07 365.15h1.70v1.70h-1.70zM436.29 365.15h1.70v1.70h-1.70zM430.51 365.15h1.70v1.70h-1.70z" fill="#111"/>
<path d="M428.4 319.5l3.2 5.6h-6.5zM428.5 336.9l3.2 5.6h-6.5zM429.0 325.1l3.2 5.6h-6.5zM429.1 331.1l3.2 5.6h-6.5zM429.6 344.9l3.2 5.6h-6.5zM429.8 333.3l3.2 5.6h-6.5zM430.1 337.4l3.2 5.6h-6.5zM430.3 331.3l3.2 5.6h-6.5zM430.6 329.9l3.2 5.6h-6.5zM430.9 335.3l3.2 5.6h-6.5zM431.3 337.9l3.2 5.6h-6.5zM431.6 330.6l3.2 5.6h-6.5zM432.0 335.0l3.2 5.6h-6.5zM432.2 337.5l3.2 5.6h-6.5zM432.3 316.8l3.2 5.6h-6.5zM432.9 324.0l3.2 5.6h-6.5zM432.9 322.1l3.2 5.6h-6.5zM433.3 328.8l3.2 5.6h-6.5zM433.5 328.4l3.2 5.6h-6.5zM434.0 329.4l3.2 5.6h-6.5zM434.1 351.4l3.2 5.6h-6.5zM434.5 332.9l3.2 5.6h-6.5zM434.8 322.0l3.2 5.6h-6.5zM435.0 332.0l3.2 5.6h-6.5zM435.5 340.9l3.2 5.6h-6.5zM435.6 331.8l3.2 5.6h-6.5zM435.9 326.7l3.2 5.6h-6.5zM436.3 323.2l3.2 5.6h-6.5zM436.6 332.3l3.2 5.6h-6.5zM436.9 344.5l3.2 5.6h-6.5zM437.2 316.0l3.2 5.6h-6.5zM437.3 312.5l3.2 5.6h-6.5zM437.8 328.4l3.2 5.6h-6.5zM438.0 330.1l3.2 5.6h-6.5zM438.3 319.0l3.2 5.6h-6.5zM438.6 329.2l3.2 5.6h-6.5zM438.9 335.9l3.2 5.6h-6.5zM439.4 342.7l3.2 5.6h-6.5zM439.6 327.7l3.2 5.6h-6.5zM439.7 339.9l3.2 5.6h-6.5zM440.2 336.0l3.2 5.6h-6.5zM440.4 332.1l3.2 5.6h-6.5zM440.7 334.4l3.2 5.6h-6.5zM441.1 347.5l3.2 5.6h-6.5zM441.2 346.4l3.2 5.6h-6.5zM441.5 332.0l3.2 5.6h-6.5zM441.9 340.1l3.2 5.6h-6.5zM442.2 340.9l3.2 5.6h-6.5zM442.4 340.9l3.2 5.6h-6.5zM442.9 339.4l3.2 5.6h-6.5zM443.0 320.8l3.2 5.6h-6.5zM443.2 335.9l3.2 5.6h-6.5zM443.6 345.0l3.2 5.6h-6.5zM443.9 321.3l3.2 5.6h-6.5zM444.3 340.8l3.2 5.6h-6.5zM444.5 334.1l3.2 5.6h-6.5zM444.7 321.4l3.2 5.6h-6.5zM445.1 337.9l3.2 5.6h-6.5zM445.4 315.8l3.2 5.6h-6.5zM445.6 332.6l3.2 5.6h-6.5zM445.9 334.6l3.2 5.6h-6.5zM446.4 341.9l3.2 5.6h-6.5zM446.6 343.3l3.2 5.6h-6.5zM446.8 328.3l3.2 5.6h-6.5zM447.2 344.7l3.2 5.6h-6.5zM447.4 336.4l3.2 5.6h-6.5zM447.7 322.4l3.2 5.6h-6.5zM448.1 341.9l3.2 5.6h-6.5zM448.2 324.4l3.2 5.6h-6.5zM448.6 332.8l3.2 5.6h-6.5zM448.8 336.4l3.2 5.6h-6.5zM449.1 328.7l3.2 5.6h-6.5zM449.5 343.6l3.2 5.6h-6.5zM449.7 328.7l3.2 5.6h-6.5zM450.0 328.2l3.2 5.6h-6.5zM450.2 350.9l3.2 5.6h-6.5zM450.6 333.7l3.2 5.6h-6.5zM451.0 330.5l3.2 5.6h-6.5zM451.4 320.3l3.2 5.6h-6.5zM451.6 338.2l3.2 5.6h-6.5zM452.0 347.0l3.2 5.6h-6.5zM452.2 332.1l3.2 5.6h-6.5zM452.5 339.2l3.2 5.6h-6.5zM452.8 326.1l3.2 5.6h-6.5zM453.0 345.6l3.2 5.6h-6.5zM453.3 321.0l3.2 5.6h-6.5zM453.6 350.1l3.2 5.6h-6.5zM453.8 333.5l3.2 5.6h-6.5zM454.2 341.4l3.2 5.6h-6.5zM454.6 338.4l3.2 5.6h-6.5zM454.7 322.8l3.2 5.6h-6.5zM455.2 324.2l3.2 5.6h-6.5zM455.4 344.2l3.2 5.6h-6.5zM455.7 338.4l3.2 5.6h-6.5zM456.0 337.1l3.2 5.6h-6.5zM456.2 332.2l3.2 5.6h-6.5zM456.6 332.5l3.2 5.6h-6.5zM457.0 352.2l3.2 5.6h-6.5zM457.1 332.8l3.2 5.6h-6.5zM457.5 333.3l3.2 5.6h-6.5zM457.9 336.6l3.2 5.6h-6.5zM458.2 326.9l3.2 5.6h-6.5zM458.2 332.1l3.2 5.6h-6.5zM458.6 333.9l3.2 5.6h-6.5zM458.8 349.0l3.2 5.6h-6.5zM459.3 349.0l3.2 5.6h-6.5zM459.5 341.2l3.2 5.6h-6.5zM459.7 345.1l3.2 5.6h-6.5zM460.1 324.7l3.2 5.6h-6.5zM460.3 315.2l3.2 5.6h-6.5zM460.6 344.3l3.2 5.6h-6.5zM461.1 356.4l3.2 5.6h-6.5zM461.2 319.5l3.2 5.6h-6.5zM461.6 342.9l3.2 5.6h-6.5zM461.9 324.8l3.2 5.6h-6.5zM462.0 342.4l3.2 5.6h-6.5zM462.3 347.1l3.2 5.6h-6.5zM462.8 317.4l3.2 5.6h-6.5zM463.1 327.4l3.2 5.6h-6.5zM463.3 339.3l3.2 5.6h-6.5zM463.7 341.8l3.2 5.6h-6.5zM463.9 331.8l3.2 5.6h-6.5zM464.2 335.5l3.2 5.6h-6.5zM464.6 316.6l3.2 5.6h-6.5zM464.8 332.2l3.2 5.6h-6.5zM465.0 333.0l3.2 5.6h-6.5zM465.2 326.8l3.2 5.6h-6.5zM465.5 327.4l3.2 5.6h-6.5zM466.1 330.7l3.2 5.6h-6.5zM466.2 322.5l3.2 5.6h-6.5zM466.5 327.9l3.2 5.6h-6.5zM466.9 333.2l3.2 5.6h-6.5zM467.2 329.3l3.2 5.6h-6.5zM467.6 331.1l3.2 5.6h-6.5zM467.7 327.4l3.2 5.6h-6.5zM467.9 332.8l3.2 5.6h-6.5zM468.3 325.3l3.2 5.6h-6.5zM468.6 320.4l3.2 5.6h-6.5zM468.8 334.2l3.2 5.6h-6.5zM469.2 334.0l3.2 5.6h-6.5zM469.4 331.0l3.2 5.6h-6.5zM469.9 321.0l3.2 5.6h-6.5zM470.0 338.9l3.2 5.6h-6.5zM470.3 325.1l3.2 5.6h-6.5zM470.7 341.0l3.2 5.6h-6.5zM471.1 358.9l3.2 5.6h-6.5zM471.1 332.3l3.2 5.6h-6.5zM471.4 326.5l3.2 5.6h-6.5zM471.8 334.4l3.2 5.6h-6.5zM472.0 334.9l3.2 5.6h-6.5zM472.5 335.0l3.2 5.6h-6.5zM472.7 355.1l3.2 5.6h-6.5zM473.1 334.9l3.2 5.6h-6.5zM473.4 337.4l3.2 5.6h-6.5zM473.5 322.3l3.2 5.6h-6.5zM473.9 330.9l3.2 5.6h-6.5zM474.1 345.4l3.2 5.6h-6.5zM474.6 351.3l3.2 5.6h-6.5zM474.7 318.2l3.2 5.6h-6.5zM475.0 319.6l3.2 5.6h-6.5zM475.4 339.2l3.2 5.6h-6.5zM475.7 322.6l3.2 5.6h-6.5zM476.0 331.4l3.2 5.6h-6.5zM476.2 341.0l3.2 5.6h-6.5zM476.5 331.6l3.2 5.6h-6.5zM476.9 337.8l3.2 5.6h-6.5zM477.2 332.0l3.2 5.6h-6.5zM477.5 322.7l3.2 5.6h-6.5zM477.7 335.6l3.2 5.6h-6.5zM477.9 342.7l3.2 5.6h-6.5zM478.4 330.2l3.2 5.6h-6.5zM478.6 323.9l3.2 5.6h-6.5zM478.9 333.3l3.2 5.6h-6.5zM479.2 335.6l3.2 5.6h-6.5zM479.5 355.5l3.2 5.6h-6.5zM479.8 347.7l3.2 5.6h-6.5zM479.9 336.4l3.2 5.6h-6.5zM480.4 344.3l3.2 5.6h-6.5zM480.5 324.4l3.2 5.6h-6.5zM481.0 343.7l3.2 5.6h-6.5zM481.2 335.1l3.2 5.6h-6.5zM481.4 330.7l3.2 5.6h-6.5zM481.7 344.4l3.2 5.6h-6.5zM482.1 351.5l3.2 5.6h-6.5zM482.5 333.9l3.2 5.6h-6.5zM482.9 319.0l3.2 5.6h-6.5zM483.1 328.1l3.2 5.6h-6.5zM483.4 320.5l3.2 5.6h-6.5zM483.6 334.3l3.2 5.6h-6.5zM484.0 332.3l3.2 5.6h-6.5zM484.1 349.3l3.2 5.6h-6.5zM484.6 331.1l3.2 5.6h-6.5zM484.8 326.7l3.2 5.6h-6.5zM485.1 342.4l3.2 5.6h-6.5zM485.2 338.8l3.2 5.6h-6.5zM485.6 330.9l3.2 5.6h-6.5zM485.9 332.5l3.2 5.6h-6.5zM486.2 326.7l3.2 5.6h-6.5zM486.6 333.6l3.2 5.6h-6.5zM486.9 341.4l3.2 5.6h-6.5zM487.1 335.0l3.2 5.6h-6.5zM487.6 333.8l3.2 5.6h-6.5zM487.6 330.3l3.2 5.6h-6.5zM488.0 334.1l3.2 5.6h-6.5zM488.4 332.8l3.2 5.6h-6.5zM488.5 350.5l3.2 5.6h-6.5zM488.8 321.2l3.2 5.6h-6.5zM489.3 333.5l3.2 5.6h-6.5zM489.4 350.5l3.2 5.6h-6.5zM489.8 323.1l3.2 5.6h-6.5zM490.0 322.4l3.2 5.6h-6.5zM490.2 332.9l3.2 5.6h-6.5zM490.6 351.2l3.2 5.6h-6.5zM490.9 330.3l3.2 5.6h-6.5zM491.4 327.8l3.2 5.6h-6.5zM491.5 316.6l3.2 5.6h-6.5zM491.7 337.8l3.2 5.6h-6.5zM492.1 329.2l3.2 5.6h-6.5zM492.4 323.5l3.2 5.6h-6.5zM492.7 352.8l3.2 5.6h-6.5zM492.9 324.7l3.2 5.6h-6.5zM493.3 340.3l3.2 5.6h-6.5zM493.5 336.0l3.2 5.6h-6.5zM493.8 334.2l3.2 5.6h-6.5zM494.2 330.8l3.2 5.6h-6.5zM494.6 340.6l3.2 5.6h-6.5zM494.7 340.3l3.2 5.6h-6.5zM495.1 341.8l3.2 5.6h-6.5zM495.3 333.4l3.2 5.6h-6.5zM495.7 345.0l3.2 5.6h-6.5zM496.1 316.6l3.2 5.6h-6.5zM496.1 334.3l3.2 5.6h-6.5zM496.4 338.2l3.2 5.6h-6.5zM496.8 323.7l3.2 5.6h-6.5zM497.2 340.8l3.2 5.6h-6.5zM497.3 350.3l3.2 5.6h-6.5zM497.6 332.6l3.2 5.6h-6.5zM498.1 338.4l3.2 5.6h-6.5zM498.3 338.2l3.2 5.6h-6.5zM498.5 330.5l3.2 5.6h-6.5zM498.9 327.1l3.2 5.6h-6.5zM499.1 332.4l3.2 5.6h-6.5zM499.6 332.9l3.2 5.6h-6.5zM499.9 326.7l3.2 5.6h-6.5zM499.9 346.1l3.2 5.6h-6.5zM500.4 337.4l3.2 5.6h-6.5zM500.5 355.3l3.2 5.6h-6.5zM501.0 339.3l3.2 5.6h-6.5zM501.3 344.4l3.2 5.6h-6.5zM501.6 341.0l3.2 5.6h-6.5zM501.7 339.3l3.2 5.6h-6.5zM502.0 323.5l3.2 5.6h-6.5zM502.4 320.9l3.2 5.6h-6.5zM502.7 344.1l3.2 5.6h-6.5zM503.1 336.3l3.2 5.6h-6.5zM503.2 324.5l3.2 5.6h-6.5zM503.7 330.1l3.2 5.6h-6.5zM504.0 347.8l3.2 5.6h-6.5zM504.1 351.5l3.2 5.6h-6.5zM504.5 340.8l3.2 5.6h-6.5zM504.7 331.3l3.2 5.6h-6.5zM505.1 348.1l3.2 5.6h-6.5zM505.5 329.5l3.2 5.6h-6.5zM505.7 336.3l3.2 5.6h-6.5zM505.9 335.0l3.2 5.6h-6.5zM506.2 340.8l3.2 5.6h-6.5zM506.4 342.0l3.2 5.6h-6.5zM506.7 345.0l3.2 5.6h-6.5zM507.0 333.7l3.2 5.6h-6.5zM507.5 329.9l3.2 5.6h-6.5zM507.6 333.7l3.2 5.6h-6.5zM508.0 340.6l3.2 5.6h-6.5zM508.3 335.4l3.2 5.6h-6.5zM508.7 325.4l3.2 5.6h-6.5zM508.7 332.8l3.2 5.6h-6.5zM509.1 333.6l3.2 5.6h-6.5zM509.6 335.8l3.2 5.6h-6.5zM509.9 338.9l3.2 5.6h-6.5zM509.9 331.2l3.2 5.6h-6.5zM510.4 332.3l3.2 5.6h-6.5zM510.7 351.0l3.2 5.6h-6.5zM511.0 350.2l3.2 5.6h-6.5zM511.1 339.0l3.2 5.6h-6.5zM511.6 344.3l3.2 5.6h-6.5zM511.9 343.1l3.2 5.6h-6.5zM512.1 353.1l3.2 5.6h-6.5zM512.3 327.9l3.2 5.6h-6.5zM512.7 333.8l3.2 5.6h-6.5zM513.1 338.3l3.2 5.6h-6.5zM513.2 338.0l3.2 5.6h-6.5zM513.6 334.8l3.2 5.6h-6.5zM513.9 327.9l3.2 5.6h-6.5zM514.3 331.2l3.2 5.6h-6.5zM514.3 335.8l3.2 5.6h-6.5zM514.6 335.2l3.2 5.6h-6.5zM514.9 317.9l3.2 5.6h-6.5zM515.4 342.3l3.2 5.6h-6.5zM515.8 331.4l3.2 5.6h-6.5zM516.0 337.6l3.2 5.6h-6.5zM516.3 341.1l3.2 5.6h-6.5zM516.5 337.1l3.2 5.6h-6.5zM516.9 335.7l3.2 5.6h-6.5zM517.2 344.9l3.2 5.6h-6.5zM517.4 353.8l3.2 5.6h-6.5zM517.6 336.2l3.2 5.6h-6.5zM518.1 349.1l3.2 5.6h-6.5zM518.4 347.5l3.2 5.6h-6.5zM518.5 341.1l3.2 5.6h-6.5zM518.7 332.1l3.2 5.6h-6.5zM519.0 330.6l3.2 5.6h-6.5zM519.6 345.7l3.2 5.6h-6.5zM519.7 338.9l3.2 5.6h-6.5zM519.9 338.8l3.2 5.6h-6.5zM520.2 335.0l3.2 5.6h-6.5zM520.6 324.9l3.2 5.6h-6.5zM521.0 328.9l3.2 5.6h-6.5zM521.2 340.6l3.2 5.6h-6.5zM521.4 327.1l3.2 5.6h-6.5zM521.9 337.0l3.2 5.6h-6.5zM522.1 318.6l3.2 5.6h-6.5zM522.5 335.3l3.2 5.6h-6.5zM522.7 340.7l3.2 5.6h-6.5zM522.9 336.6l3.2 5.6h-6.5zM523.1 358.1l3.2 5.6h-6.5zM523.5 340.5l3.2 5.6h-6.5zM523.9 334.8l3.2 5.6h-6.5zM524.3 341.8l3.2 5.6h-6.5zM524.3 337.5l3.2 5.6h-6.5zM524.7 332.8l3.2 5.6h-6.5zM525.0 323.3l3.2 5.6h-6.5zM525.2 330.0l3.2 5.6h-6.5zM525.7 337.4l3.2 5.6h-6.5zM525.8 342.2l3.2 5.6h-6.5zM526.1 326.0l3.2 5.6h-6.5zM526.6 329.7l3.2 5.6h-6.5zM526.9 330.2l3.2 5.6h-6.5zM527.1 341.7l3.2 5.6h-6.5zM527.3 326.5l3.2 5.6h-6.5zM527.6 345.9l3.2 5.6h-6.5zM528.1 345.8l3.2 5.6h-6.5zM528.3 325.7l3.2 5.6h-6.5zM528.7 325.5l3.2 5.6h-6.5zM528.9 336.6l3.2 5.6h-6.5zM529.2 329.1l3.2 5.6h-6.5zM529.6 337.9l3.2 5.6h-6.5zM529.8 333.6l3.2 5.6h-6.5zM530.0 331.9l3.2 5.6h-6.5zM530.4 341.2l3.2 5.6h-6.5zM530.5 329.8l3.2 5.6h-6.5zM531.0 343.2l3.2 5.6h-6.5zM531.3 326.5l3.2 5.6h-6.5zM531.5 333.8l3.2 5.6h-6.5zM531.7 340.1l3.2 5.6h-6.5zM532.2 340.9l3.2 5.6h-6.5zM532.4 324.7l3.2 5.6h-6.5zM532.7 337.2l3.2 5.6h-6.5zM532.9 332.2l3.2 5.6h-6.5zM533.2 347.0l3.2 5.6h-6.5zM533.6 334.9l3.2 5.6h-6.5zM533.8 342.3l3.2 5.6h-6.5zM534.1 321.1l3.2 5.6h-6.5zM534.6 352.1l3.2 5.6h-6.5zM534.7 334.9l3.2 5.6h-6.5zM535.2 348.3l3.2 5.6h-6.5zM535.3 334.0l3.2 5.6h-6.5zM535.7 334.6l3.2 5.6h-6.5zM535.9 340.8l3.2 5.6h-6.5zM536.2 325.0l3.2 5.6h-6.5zM536.6 338.0l3.2 5.6h-6.5zM536.8 326.5l3.2 5.6h-6.5zM537.2 340.1l3.2 5.6h-6.5zM537.4 328.9l3.2 5.6h-6.5zM537.7 341.4l3.2 5.6h-6.5zM538.0 334.0l3.2 5.6h-6.5zM538.2 341.3l3.2 5.6h-6.5zM538.4 333.4l3.2 5.6h-6.5zM538.9 319.6l3.2 5.6h-6.5zM539.0 333.1l3.2 5.6h-6.5zM539.3 342.5l3.2 5.6h-6.5zM539.8 348.2l3.2 5.6h-6.5zM540.1 323.2l3.2 5.6h-6.5zM540.2 336.6l3.2 5.6h-6.5zM540.6 329.7l3.2 5.6h-6.5zM541.0 350.3l3.2 5.6h-6.5zM541.1 339.1l3.2 5.6h-6.5zM541.5 338.5l3.2 5.6h-6.5zM541.9 343.9l3.2 5.6h-6.5zM542.1 340.9l3.2 5.6h-6.5zM542.5 350.8l3.2 5.6h-6.5zM542.7 323.0l3.2 5.6h-6.5zM543.1 329.2l3.2 5.6h-6.5zM543.2 333.1l3.2 5.6h-6.5zM543.5 335.9l3.2 5.6h-6.5zM544.0 338.7l3.2 5.6h-6.5zM544.1 349.6l3.2 5.6h-6.5zM544.3 337.2l3.2 5.6h-6.5zM544.7 347.9l3.2 5.6h-6.5zM545.1 332.6l3.2 5.6h-6.5zM545.4 357.9l3.2 5.6h-6.5zM545.7 336.6l3.2 5.6h-6.5zM545.8 338.8l3.2 5.6h-6.5zM546.1 340.6l3.2 5.6h-6.5zM546.4 340.7l3.2 5.6h-6.5zM546.8 335.5l3.2 5.6h-6.5zM547.1 333.4l3.2 5.6h-6.5zM547.4 349.9l3.2 5.6h-6.5zM547.5 347.5l3.2 5.6h-6.5zM547.8 340.6l3.2 5.6h-6.5zM548.3 327.6l3.2 5.6h-6.5zM548.5 345.8l3.2 5.6h-6.5zM548.8 348.7l3.2 5.6h-6.5zM549.3 344.5l3.2 5.6h-6.5zM549.3 320.4l3.2 5.6h-6.5zM549.7 335.8l3.2 5.6h-6.5zM550.0 342.4l3.2 5.6h-6.5zM550.3 337.6l3.2 5.6h-6.5zM550.5 344.7l3.2 5.6h-6.5zM550.8 311.8l3.2 5.6h-6.5zM551.3 341.4l3.2 5.6h-6.5zM551.4 338.8l3.2 5.6h-6.5zM551.9 345.7l3.2 5.6h-6.5zM551.9 352.9l3.2 5.6h-6.5zM552.3 331.3l3.2 5.6h-6.5zM552.7 350.5l3.2 5.6h-6.5zM552.8 348.9l3.2 5.6h-6.5zM553.4 328.8l3.2 5.6h-6.5zM553.7 346.6l3.2 5.6h-6.5zM554.0 345.4l3.2 5.6h-6.5zM554.1 328.6l3.2 5.6h-6.5zM554.4 340.2l3.2 5.6h-6.5zM554.9 332.2l3.2 5.6h-6.5zM555.0 344.8l3.2 5.6h-6.5zM555.3 337.9l3.2 5.6h-6.5zM555.6 336.8l3.2 5.6h-6.5zM555.9 351.4l3.2 5.6h-6.5zM556.2 339.6l3.2 5.6h-6.5zM556.5 351.3l3.2 5.6h-6.5zM556.7 349.9l3.2 5.6h-6.5zM557.1 343.6l3.2 5.6h-6.5zM557.3 344.5l3.2 5.6h-6.5zM557.5 337.6l3.2 5.6h-6.5zM557.8 342.8l3.2 5.6h-6.5zM558.1 335.3l3.2 5.6h-6.5zM558.6 341.3l3.2 5.6h-6.5zM558.9 349.2l3.2 5.6h-6.5zM559.1 347.9l3.2 5.6h-6.5zM559.5 334.6l3.2 5.6h-6.5zM559.8 326.7l3.2 5.6h-6.5zM560.0 336.5l3.2 5.6h-6.5zM560.2 324.8l3.2 5.6h-6.5zM560.6 346.0l3.2 5.6h-6.5zM560.9 354.9l3.2 5.6h-6.5zM561.3 316.7l3.2 5.6h-6.5zM561.5 319.0l3.2 5.6h-6.5zM561.7 315.7l3.2 5.6h-6.5zM562.2 311.7l3.2 5.6h-6.5zM562.3 326.6l3.2 5.6h-6.5zM562.7 320.1l3.2 5.6h-6.5zM562.9 327.4l3.2 5.6h-6.5zM563.2 313.8l3.2 5.6h-6.5zM563.6 326.8l3.2 5.6h-6.5zM563.9 333.7l3.2 5.6h-6.5zM564.2 325.3l3.2 5.6h-6.5zM564.5 319.6l3.2 5.6h-6.5zM564.8 328.7l3.2 5.6h-6.5zM565.0 324.3l3.2 5.6h-6.5zM565.4 314.1l3.2 5.6h-6.5zM565.6 321.4l3.2 5.6h-6.5zM565.9 322.5l3.2 5.6h-6.5zM566.1 332.2l3.2 5.6h-6.5zM566.4 323.4l3.2 5.6h-6.5zM566.7 328.2l3.2 5.6h-6.5zM567.0 321.9l3.2 5.6h-6.5zM567.4 338.3l3.2 5.6h-6.5zM567.6 326.6l3.2 5.6h-6.5zM567.8 328.8l3.2 5.6h-6.5zM568.3 327.2l3.2 5.6h-6.5zM568.5 322.2l3.2 5.6h-6.5zM568.9 326.3l3.2 5.6h-6.5zM569.0 315.4l3.2 5.6h-6.5zM569.4 326.1l3.2 5.6h-6.5zM569.8 328.9l3.2 5.6h-6.5zM569.9 316.0l3.2 5.6h-6.5zM570.4 314.5l3.2 5.6h-6.5zM570.6 332.4l3.2 5.6h-6.5zM571.0 319.8l3.2 5.6h-6.5zM571.2 323.1l3.2 5.6h-6.5zM571.4 318.7l3.2 5.6h-6.5zM571.8 317.7l3.2 5.6h-6.5zM572.2 317.5l3.2 5.6h-6.5zM572.5 321.8l3.2 5.6h-6.5zM572.6 326.3l3.2 5.6h-6.5zM572.8 328.0l3.2 5.6h-6.5zM573.3 319.2l3.2 5.6h-6.5zM573.6 329.5l3.2 5.6h-6.5zM573.8 329.7l3.2 5.6h-6.5zM574.0 324.6l3.2 5.6h-6.5zM574.3 323.5l3.2 5.6h-6.5zM574.7 341.3l3.2 5.6h-6.5zM575.1 318.0l3.2 5.6h-6.5zM575.2 319.7l3.2 5.6h-6.5zM575.5 322.7l3.2 5.6h-6.5zM576.0 330.1l3.2 5.6h-6.5zM576.2 317.7l3.2 5.6h-6.5zM576.4 324.5l3.2 5.6h-6.5zM576.8 329.6l3.2 5.6h-6.5zM577.1 324.7l3.2 5.6h-6.5zM577.5 334.0l3.2 5.6h-6.5zM577.6 323.4l3.2 5.6h-6.5zM578.1 326.8l3.2 5.6h-6.5zM578.3 318.6l3.2 5.6h-6.5zM578.4 325.5l3.2 5.6h-6.5zM578.7 321.8l3.2 5.6h-6.5zM579.1 319.7l3.2 5.6h-6.5zM579.4 332.4l3.2 5.6h-6.5zM579.7 345.4l3.2 5.6h-6.5zM579.9 326.1l3.2 5.6h-6.5zM580.3 333.0l3.2 5.6h-6.5zM580.6 336.6l3.2 5.6h-6.5zM580.9 355.6l3.2 5.6h-6.5zM581.1 320.6l3.2 5.6h-6.5zM581.3 321.8l3.2 5.6h-6.5zM581.8 324.6l3.2 5.6h-6.5zM582.0 327.0l3.2 5.6h-6.5zM582.4 319.5l3.2 5.6h-6.5zM582.6 316.4l3.2 5.6h-6.5zM582.9 335.2l3.2 5.6h-6.5zM583.1 329.8l3.2 5.6h-6.5zM583.4 332.2l3.2 5.6h-6.5zM583.8 339.0l3.2 5.6h-6.5zM584.1 334.2l3.2 5.6h-6.5zM584.5 346.7l3.2 5.6h-6.5zM584.6 351.2l3.2 5.6h-6.5zM585.0 355.6l3.2 5.6h-6.5zM585.2 345.9l3.2 5.6h-6.5zM585.6 344.1l3.2 5.6h-6.5zM586.0 334.1l3.2 5.6h-6.5zM586.2 330.3l3.2 5.6h-6.5zM586.6 352.7l3.2 5.6h-6.5zM586.8 334.1l3.2 5.6h-6.5zM587.2 337.0l3.2 5.6h-6.5zM587.3 324.7l3.2 5.6h-6.5zM587.5 342.4l3.2 5.6h-6.5zM587.8 339.2l3.2 5.6h-6.5zM588.1 327.2l3.2 5.6h-6.5zM588.7 336.4l3.2 5.6h-6.5zM588.7 323.4l3.2 5.6h-6.5zM589.1 330.2l3.2 5.6h-6.5zM589.5 351.4l3.2 5.6h-6.5zM589.6 328.9l3.2 5.6h-6.5zM589.9 316.0l3.2 5.6h-6.5zM590.3 344.6l3.2 5.6h-6.5zM590.5 328.8l3.2 5.6h-6.5zM590.7 338.5l3.2 5.6h-6.5zM591.0 333.5l3.2 5.6h-6.5zM591.3 339.5l3.2 5.6h-6.5zM591.9 328.0l3.2 5.6h-6.5zM592.1 357.7l3.2 5.6h-6.5zM592.2 342.0l3.2 5.6h-6.5zM592.8 343.4l3.2 5.6h-6.5zM592.8 326.6l3.2 5.6h-6.5zM593.1 334.9l3.2 5.6h-6.5zM593.6 340.5l3.2 5.6h-6.5zM593.7 330.3l3.2 5.6h-6.5zM594.2 335.8l3.2 5.6h-6.5zM594.4 349.4l3.2 5.6h-6.5zM594.7 336.6l3.2 5.6h-6.5zM595.0 334.6l3.2 5.6h-6.5zM595.4 325.8l3.2 5.6h-6.5zM595.7 318.5l3.2 5.6h-6.5zM595.8 337.1l3.2 5.6h-6.5zM596.2 331.9l3.2 5.6h-6.5zM596.5 331.9l3.2 5.6h-6.5zM596.8 329.6l3.2 5.6h-6.5zM597.0 330.5l3.2 5.6h-6.5zM597.5 331.8l3.2 5.6h-6.5zM597.5 327.7l3.2 5.6h-6.5zM598.0 326.1l3.2 5.6h-6.5zM598.3 357.4l3.2 5.6h-6.5zM598.6 323.4l3.2 5.6h-6.5zM598.7 342.7l3.2 5.6h-6.5zM599.1 341.0l3.2 5.6h-6.5zM599.5 341.1l3.2 5.6h-6.5zM599.7 319.9l3.2 5.6h-6.5zM599.9 337.2l3.2 5.6h-6.5zM600.2 349.8l3.2 5.6h-6.5zM600.4 328.4l3.2 5.6h-6.5zM600.9 323.1l3.2 5.6h-6.5zM601.2 336.1l3.2 5.6h-6.5zM601.5 359.6l3.2 5.6h-6.5zM601.8 333.5l3.2 5.6h-6.5zM601.9 333.1l3.2 5.6h-6.5zM602.3 336.9l3.2 5.6h-6.5zM602.8 333.3l3.2 5.6h-6.5zM603.0 320.3l3.2 5.6h-6.5zM603.3 341.2l3.2 5.6h-6.5zM603.6 353.0l3.2 5.6h-6.5zM603.8 336.0l3.2 5.6h-6.5zM604.2 315.3l3.2 5.6h-6.5zM604.3 334.5l3.2 5.6h-6.5zM604.7 338.3l3.2 5.6h-6.5zM605.1 327.0l3.2 5.6h-6.5zM605.2 332.4l3.2 5.6h-6.5zM605.6 333.5l3.2 5.6h-6.5zM605.8 332.6l3.2 5.6h-6.5zM606.1 330.5l3.2 5.6h-6.5zM606.5 338.7l3.2 5.6h-6.5zM606.8 340.8l3.2 5.6h-6.5zM607.1 331.8l3.2 5.6h-6.5zM607.4 332.6l3.2 5.6h-6.5zM607.6 332.5l3.2 5.6h-6.5zM608.0 332.7l3.2 5.6h-6.5zM608.1 324.5l3.2 5.6h-6.5zM608.4 332.3l3.2 5.6h-6.5zM608.7 334.6l3.2 5.6h-6.5zM609.0 351.5l3.2 5.6h-6.5zM609.4 340.2l3.2 5.6h-6.5zM609.8 329.0l3.2 5.6h-6.5zM609.9 329.7l3.2 5.6h-6.5zM610.1 342.3l3.2 5.6h-6.5zM610.5 325.8l3.2 5.6h-6.5zM610.7 329.7l3.2 5.6h-6.5zM611.1 333.6l3.2 5.6h-6.5zM611.5 344.0l3.2 5.6h-6.5zM611.7 344.6l3.2 5.6h-6.5zM612.1 319.2l3.2 5.6h-6.5zM612.3 341.1l3.2 5.6h-6.5zM612.6 330.5l3.2 5.6h-6.5zM612.8 347.6l3.2 5.6h-6.5zM613.3 330.6l3.2 5.6h-6.5zM613.4 344.1l3.2 5.6h-6.5zM613.8 335.6l3.2 5.6h-6.5zM614.2 326.6l3.2 5.6h-6.5zM614.5 334.1l3.2 5.6h-6.5zM614.5 329.0l3.2 5.6h-6.5zM615.1 347.2l3.2 5.6h-6.5zM615.2 331.7l3.2 5.6h-6.5zM615.5 337.7l3.2 5.6h-6.5zM615.9 329.7l3.2 5.6h-6.5zM616.0 341.5l3.2 5.6h-6.5zM616.6 352.5l3.2 5.6h-6.5zM616.8 329.8l3.2 5.6h-6.5zM616.9 338.8l3.2 5.6h-6.5zM617.2 333.4l3.2 5.6h-6.5zM617.6 337.4l3.2 5.6h-6.5zM617.8 326.8l3.2 5.6h-6.5zM618.3 321.1l3.2 5.6h-6.5zM618.4 342.6l3.2 5.6h-6.5zM618.9 318.5l3.2 5.6h-6.5zM619.1 340.4l3.2 5.6h-6.5zM619.2 317.0l3.2 5.6h-6.5zM619.7 347.7l3.2 5.6h-6.5zM620.0 316.4l3.2 5.6h-6.5zM620.2 325.7l3.2 5.6h-6.5zM620.5 342.6l3.2 5.6h-6.5zM620.8 341.7l3.2 5.6h-6.5zM621.1 321.2l3.2 5.6h-6.5zM621.5 349.5l3.2 5.6h-6.5zM621.7 338.6l3.2 5.6h-6.5zM622.0 341.3l3.2 5.6h-6.5zM622.2 333.9l3.2 5.6h-6.5zM622.8 334.4l3.2 5.6h-6.5zM623.0 326.8l3.2 5.6h-6.5zM623.3 328.5l3.2 5.6h-6.5zM623.4 329.3l3.2 5.6h-6.5zM623.8 350.8l3.2 5.6h-6.5zM624.0 332.6l3.2 5.6h-6.5zM624.2 325.9l3.2 5.6h-6.5zM624.5 343.6l3.2 5.6h-6.5zM625.0 331.2l3.2 5.6h-6.5zM625.2 337.8l3.2 5.6h-6.5zM625.6 342.3l3.2 5.6h-6.5zM625.9 323.6l3.2 5.6h-6.5zM626.1 337.5l3.2 5.6h-6.5zM626.5 339.4l3.2 5.6h-6.5zM626.6 340.3l3.2 5.6h-6.5zM627.1 327.5l3.2 5.6h-6.5zM627.2 348.8l3.2 5.6h-6.5zM627.7 340.8l3.2 5.6h-6.5zM627.9 339.7l3.2 5.6h-6.5zM628.2 342.9l3.2 5.6h-6.5zM628.6 314.5l3.2 5.6h-6.5zM628.8 342.2l3.2 5.6h-6.5zM629.0 329.4l3.2 5.6h-6.5zM629.2 317.2l3.2 5.6h-6.5zM629.5 333.5l3.2 5.6h-6.5zM630.0 329.2l3.2 5.6h-6.5zM630.2 325.1l3.2 5.6h-6.5zM630.7 334.6l3.2 5.6h-6.5zM630.8 331.3l3.2 5.6h-6.5zM631.1 322.5l3.2 5.6h-6.5zM631.4 342.0l3.2 5.6h-6.5zM631.6 336.3l3.2 5.6h-6.5zM632.1 343.8l3.2 5.6h-6.5zM632.3 336.3l3.2 5.6h-6.5zM632.5 344.7l3.2 5.6h-6.5zM632.8 315.5l3.2 5.6h-6.5zM633.3 327.7l3.2 5.6h-6.5zM633.6 340.8l3.2 5.6h-6.5zM633.6 330.1l3.2 5.6h-6.5zM634.2 337.7l3.2 5.6h-6.5zM634.3 331.7l3.2 5.6h-6.5zM634.6 336.4l3.2 5.6h-6.5zM634.8 327.1l3.2 5.6h-6.5zM635.4 343.7l3.2 5.6h-6.5zM635.7 348.6l3.2 5.6h-6.5zM635.8 331.4l3.2 5.6h-6.5zM636.1 337.5l3.2 5.6h-6.5zM636.5 334.5l3.2 5.6h-6.5zM636.8 339.0l3.2 5.6h-6.5zM637.1 337.3l3.2 5.6h-6.5zM637.3 348.7l3.2 5.6h-6.5zM637.6 329.7l3.2 5.6h-6.5zM638.0 339.4l3.2 5.6h-6.5zM638.2 321.9l3.2 5.6h-6.5zM638.5 317.4l3.2 5.6h-6.5zM638.6 334.8l3.2 5.6h-6.5zM638.9 338.4l3.2 5.6h-6.5zM639.2 328.2l3.2 5.6h-6.5zM639.6 322.0l3.2 5.6h-6.5zM640.1 344.9l3.2 5.6h-6.5zM640.4 337.5l3.2 5.6h-6.5zM640.7 342.4l3.2 5.6h-6.5zM640.9 322.6l3.2 5.6h-6.5zM641.2 342.9l3.2 5.6h-6.5zM641.4 340.1l3.2 5.6h-6.5zM641.8 355.3l3.2 5.6h-6.5zM642.1 329.2l3.2 5.6h-6.5zM642.2 336.5l3.2 5.6h-6.5zM642.5 346.0l3.2 5.6h-6.5zM642.8 341.7l3.2 5.6h-6.5zM643.2 332.0l3.2 5.6h-6.5zM643.6 340.4l3.2 5.6h-6.5zM643.8 348.1l3.2 5.6h-6.5zM644.1 336.5l3.2 5.6h-6.5zM644.4 317.0l3.2 5.6h-6.5zM644.6 339.9l3.2 5.6h-6.5zM644.9 334.1l3.2 5.6h-6.5zM645.4 340.2l3.2 5.6h-6.5zM645.4 328.0l3.2 5.6h-6.5zM645.7 346.1l3.2 5.6h-6.5zM646.3 319.6l3.2 5.6h-6.5zM646.4 335.0l3.2 5.6h-6.5zM646.7 323.4l3.2 5.6h-6.5zM646.9 330.4l3.2 5.6h-6.5zM647.4 328.4l3.2 5.6h-6.5zM647.5 334.3l3.2 5.6h-6.5zM648.0 332.4l3.2 5.6h-6.5zM648.3 319.9l3.2 5.6h-6.5zM648.5 319.7l3.2 5.6h-6.5zM648.8 339.9l3.2 5.6h-6.5zM648.9 332.2l3.2 5.6h-6.5zM649.4 341.7l3.2 5.6h-6.5zM649.7 352.2l3.2 5.6h-6.5zM650.0 334.7l3.2 5.6h-6.5zM650.3 322.1l3.2 5.6h-6.5zM650.6 332.4l3.2 5.6h-6.5zM650.7 330.4l3.2 5.6h-6.5zM651.1 333.4l3.2 5.6h-6.5zM651.4 325.3l3.2 5.6h-6.5zM651.7 334.3l3.2 5.6h-6.5zM651.9 335.7l3.2 5.6h-6.5zM652.2 323.8l3.2 5.6h-6.5zM652.5 329.7l3.2 5.6h-6.5zM652.8 320.4l3.2 5.6h-6.5zM653.2 327.2l3.2 5.6h-6.5zM653.6 336.5l3.2 5.6h-6.5zM653.7 335.0l3.2 5.6h-6.5zM654.1 322.8l3.2 5.6h-6.5zM654.2 329.6l3.2 5.6h-6.5zM654.5 335.3l3.2 5.6h-6.5zM654.8 342.4l3.2 5.6h-6.5zM655.4 336.3l3.2 5.6h-6.5zM655.6 331.9l3.2 5.6h-6.5zM655.9 327.3l3.2 5.6h-6.5zM656.0 327.1l3.2 5.6h-6.5zM656.5 334.3l3.2 5.6h-6.5zM656.6 342.0l3.2 5.6h-6.5zM656.9 344.5l3.2 5.6h-6.5zM657.2 341.6l3.2 5.6h-6.5zM657.7 344.0l3.2 5.6h-6.5zM657.8 332.1l3.2 5.6h-6.5zM658.2 347.2l3.2 5.6h-6.5zM658.4 330.1l3.2 5.6h-6.5zM658.8 312.9l3.2 5.6h-6.5zM658.9 341.8l3.2 5.6h-6.5zM659.5 326.1l3.2 5.6h-6.5zM659.6 350.6l3.2 5.6h-6.5zM660.0 341.5l3.2 5.6h-6.5zM660.2 340.8l3.2 5.6h-6.5zM660.5 331.6l3.2 5.6h-6.5zM660.9 335.6l3.2 5.6h-6.5zM661.2 321.5l3.2 5.6h-6.5zM661.4 326.4l3.2 5.6h-6.5zM661.7 343.9l3.2 5.6h-6.5zM661.9 326.4l3.2 5.6h-6.5zM662.2 346.8l3.2 5.6h-6.5zM662.5 345.7l3.2 5.6h-6.5zM662.9 331.3l3.2 5.6h-6.5zM663.1 337.5l3.2 5.6h-6.5zM663.5 342.2l3.2 5.6h-6.5zM663.9 328.5l3.2 5.6h-6.5zM664.0 332.0l3.2 5.6h-6.5zM664.3 336.3l3.2 5.6h-6.5zM664.7 330.5l3.2 5.6h-6.5zM664.9 337.0l3.2 5.6h-6.5zM665.1 332.2l3.2 5.6h-6.5zM665.5 338.3l3.2 5.6h-6.5zM665.7 335.9l3.2 5.6h-6.5zM666.2 345.1l3.2 5.6h-6.5zM666.4 343.8l3.2 5.6h-6.5zM666.8 325.7l3.2 5.6h-6.5zM667.0 334.1l3.2 5.6h-6.5zM667.2 337.7l3.2 5.6h-6.5zM667.7 333.5l3.2 5.6h-6.5zM667.8 340.3l3.2 5.6h-6.5zM668.3 317.4l3.2 5.6h-6.5zM668.3 346.5l3.2 5.6h-6.5zM668.7 344.1l3.2 5.6h-6.5zM669.1 329.4l3.2 5.6h-6.5zM669.5 319.2l3.2 5.6h-6.5zM669.5 355.7l3.2 5.6h-6.5zM670.0 345.5l3.2 5.6h-6.5zM670.3 350.9l3.2 5.6h-6.5zM670.6 338.7l3.2 5.6h-6.5zM670.8 336.2l3.2 5.6h-6.5zM671.1 333.4l3.2 5.6h-6.5zM671.5 313.0l3.2 5.6h-6.5zM671.6 344.4l3.2 5.6h-6.5zM672.1 325.5l3.2 5.6h-6.5zM672.4 323.5l3.2 5.6h-6.5zM672.7 343.3l3.2 5.6h-6.5zM672.7 353.2l3.2 5.6h-6.5zM673.2 342.1l3.2 5.6h-6.5zM673.6 338.5l3.2 5.6h-6.5zM673.8 332.8l3.2 5.6h-6.5zM674.2 328.8l3.2 5.6h-6.5zM674.4 331.7l3.2 5.6h-6.5zM674.6 323.6l3.2 5.6h-6.5zM675.0 324.2l3.2 5.6h-6.5zM675.3 331.2l3.2 5.6h-6.5zM675.5 317.6l3.2 5.6h-6.5zM675.7 332.5l3.2 5.6h-6.5zM676.2 335.6l3.2 5.6h-6.5zM676.3 335.9l3.2 5.6h-6.5zM676.5 330.7l3.2 5.6h-6.5zM677.1 328.4l3.2 5.6h-6.5zM677.3 323.9l3.2 5.6h-6.5zM677.5 345.1l3.2 5.6h-6.5zM677.9 339.2l3.2 5.6h-6.5zM678.1 328.3l3.2 5.6h-6.5zM678.4 340.5l3.2 5.6h-6.5zM678.8 311.3l3.2 5.6h-6.5zM679.1 333.1l3.2 5.6h-6.5zM679.4 335.9l3.2 5.6h-6.5zM679.6 339.3l3.2 5.6h-6.5zM679.8 343.9l3.2 5.6h-6.5zM680.1 335.0l3.2 5.6h-6.5zM680.6 336.7l3.2 5.6h-6.5zM680.7 321.4l3.2 5.6h-6.5zM681.2 324.8l3.2 5.6h-6.5zM681.4 334.8l3.2 5.6h-6.5zM681.7 330.7l3.2 5.6h-6.5zM681.9 330.5l3.2 5.6h-6.5zM682.4 329.4l3.2 5.6h-6.5zM682.7 326.2l3.2 5.6h-6.5zM683.0 341.1l3.2 5.6h-6.5zM683.3 343.4l3.2 5.6h-6.5zM683.5 349.2l3.2 5.6h-6.5zM683.7 347.1l3.2 5.6h-6.5zM684.1 323.4l3.2 5.6h-6.5zM684.3 344.6l3.2 5.6h-6.5zM684.6 326.4l3.2 5.6h-6.5zM685.0 327.7l3.2 5.6h-6.5zM685.3 340.6l3.2 5.6h-6.5zM685.4 341.1l3.2 5.6h-6.5zM685.8 334.3l3.2 5.6h-6.5zM686.0 352.7l3.2 5.6h-6.5zM686.4 336.0l3.2 5.6h-6.5zM686.6 321.0l3.2 5.6h-6.5zM687.0 343.2l3.2 5.6h-6.5zM687.2 332.7l3.2 5.6h-6.5zM687.6 336.9l3.2 5.6h-6.5zM688.0 321.1l3.2 5.6h-6.5zM688.2 323.3l3.2 5.6h-6.5zM688.4 333.1l3.2 5.6h-6.5zM688.9 332.3l3.2 5.6h-6.5zM689.0 336.8l3.2 5.6h-6.5zM689.3 350.2l3.2 5.6h-6.5zM689.6 329.2l3.2 5.6h-6.5zM690.0 325.9l3.2 5.6h-6.5zM690.3 329.0l3.2 5.6h-6.5zM690.5 335.1l3.2 5.6h-6.5zM690.7 336.1l3.2 5.6h-6.5zM691.0 351.7l3.2 5.6h-6.5zM691.5 317.6l3.2 5.6h-6.5zM691.7 347.1l3.2 5.6h-6.5zM692.1 319.1l3.2 5.6h-6.5zM692.2 328.2l3.2 5.6h-6.5zM692.6 337.1l3.2 5.6h-6.5zM692.7 334.8l3.2 5.6h-6.5zM693.1 331.4l3.2 5.6h-6.5zM693.3 330.3l3.2 5.6h-6.5zM693.7 324.0l3.2 5.6h-6.5zM693.9 339.0l3.2 5.6h-6.5zM694.3 336.2l3.2 5.6h-6.5zM694.5 329.9l3.2 5.6h-6.5zM695.1 345.4l3.2 5.6h-6.5zM695.2 323.7l3.2 5.6h-6.5zM695.6 332.9l3.2 5.6h-6.5zM695.9 338.4l3.2 5.6h-6.5zM696.2 325.8l3.2 5.6h-6.5zM696.2 334.3l3.2 5.6h-6.5zM696.6 347.5l3.2 5.6h-6.5zM696.8 335.8l3.2 5.6h-6.5zM697.2 313.7l3.2 5.6h-6.5zM697.6 328.9l3.2 5.6h-6.5zM698.0 326.3l3.2 5.6h-6.5zM698.1 326.0l3.2 5.6h-6.5zM698.6 336.2l3.2 5.6h-6.5zM698.7 326.9l3.2 5.6h-6.5zM699.1 330.0l3.2 5.6h-6.5zM699.3 335.5l3.2 5.6h-6.5zM699.6 338.3l3.2 5.6h-6.5zM699.9 340.3l3.2 5.6h-6.5zM700.2 335.1l3.2 5.6h-6.5zM700.5 328.9l3.2 5.6h-6.5zM700.7 355.5l3.2 5.6h-6.5zM701.2 342.8l3.2 5.6h-6.5zM701.5 331.8l3.2 5.6h-6.5zM701.5 334.5l3.2 5.6h-6.5zM702.1 324.2l3.2 5.6h-6.5zM702.3 324.0l3.2 5.6h-6.5zM702.6 328.4l3.2 5.6h-6.5zM702.8 322.2l3.2 5.6h-6.5zM703.0 323.7l3.2 5.6h-6.5zM703.3 337.3l3.2 5.6h-6.5zM703.8 339.8l3.2 5.6h-6.5zM703.9 328.7l3.2 5.6h-6.5zM704.3 348.8l3.2 5.6h-6.5zM704.6 337.1l3.2 5.6h-6.5zM704.9 341.8l3.2 5.6h-6.5zM705.1 336.9l3.2 5.6h-6.5zM705.6 336.2l3.2 5.6h-6.5zM705.8 337.1l3.2 5.6h-6.5zM706.1 349.0l3.2 5.6h-6.5zM706.5 341.9l3.2 5.6h-6.5zM706.6 321.7l3.2 5.6h-6.5zM706.8 341.1l3.2 5.6h-6.5zM707.2 328.8l3.2 5.6h-6.5z" fill="#fff0f0" stroke="#f04c4c" stroke-width="0.6"/>
<path d="M428.2 280.6l3.0 5.2h-6.0zM429.9 304.0l3.0 5.2h-6.0zM448.3 307.9l3.0 5.2h-6.0zM473.3 307.7l3.0 5.2h-6.0zM560.0 307.7l3.0 5.2h-6.0zM572.9 304.0l3.0 5.2h-6.0zM575.8 301.6l3.0 5.2h-6.0zM579.5 289.2l3.0 5.2h-6.0zM591.0 309.0l3.0 5.2h-6.0zM641.1 308.6l3.0 5.2h-6.0zM686.0 304.2l3.0 5.2h-6.0zM695.7 306.0l3.0 5.2h-6.0zM700.0 306.8l3.0 5.2h-6.0zM443.7 380.6l3.0 5.2h-6.0zM492.9 379.5l3.0 5.2h-6.0zM501.8 391.1l3.0 5.2h-6.0zM523.9 371.6l3.0 5.2h-6.0zM577.9 367.7l3.0 5.2h-6.0zM636.2 398.3l3.0 5.2h-6.0zM475.8 437.1l3.0 5.2h-6.0z" fill="#0d0202" stroke="#8a1c22" stroke-width="0.8"/>
<path d="M427.7 281.3V441" fill="none" stroke="#666" stroke-width="1"/>
<text x="418.0" y="286.1" class="tl" text-anchor="end">20.0</text>
<text x="418.0" y="334.1" class="tl" text-anchor="end">15.0</text>
<text x="418.0" y="381.3" class="tl" text-anchor="end">10.0</text>
<text x="418.0" y="429.1" class="tl" text-anchor="end">5.0</text>
<path d="M420.7 281.3H427.7M420.7 329.0H427.7M420.7 376.7H427.7M420.7 424.4H427.7" stroke="#111" stroke-width="1" fill="none"/>
<text transform="translate(731.2,337.6) rotate(-90)" class="qc" text-anchor="middle">Mid QC</text>
<text transform="translate(21.2,375.5) rotate(-90)" class="yl" text-anchor="middle">Concentration (µg/ml)</text>
</svg>
</body></html>
